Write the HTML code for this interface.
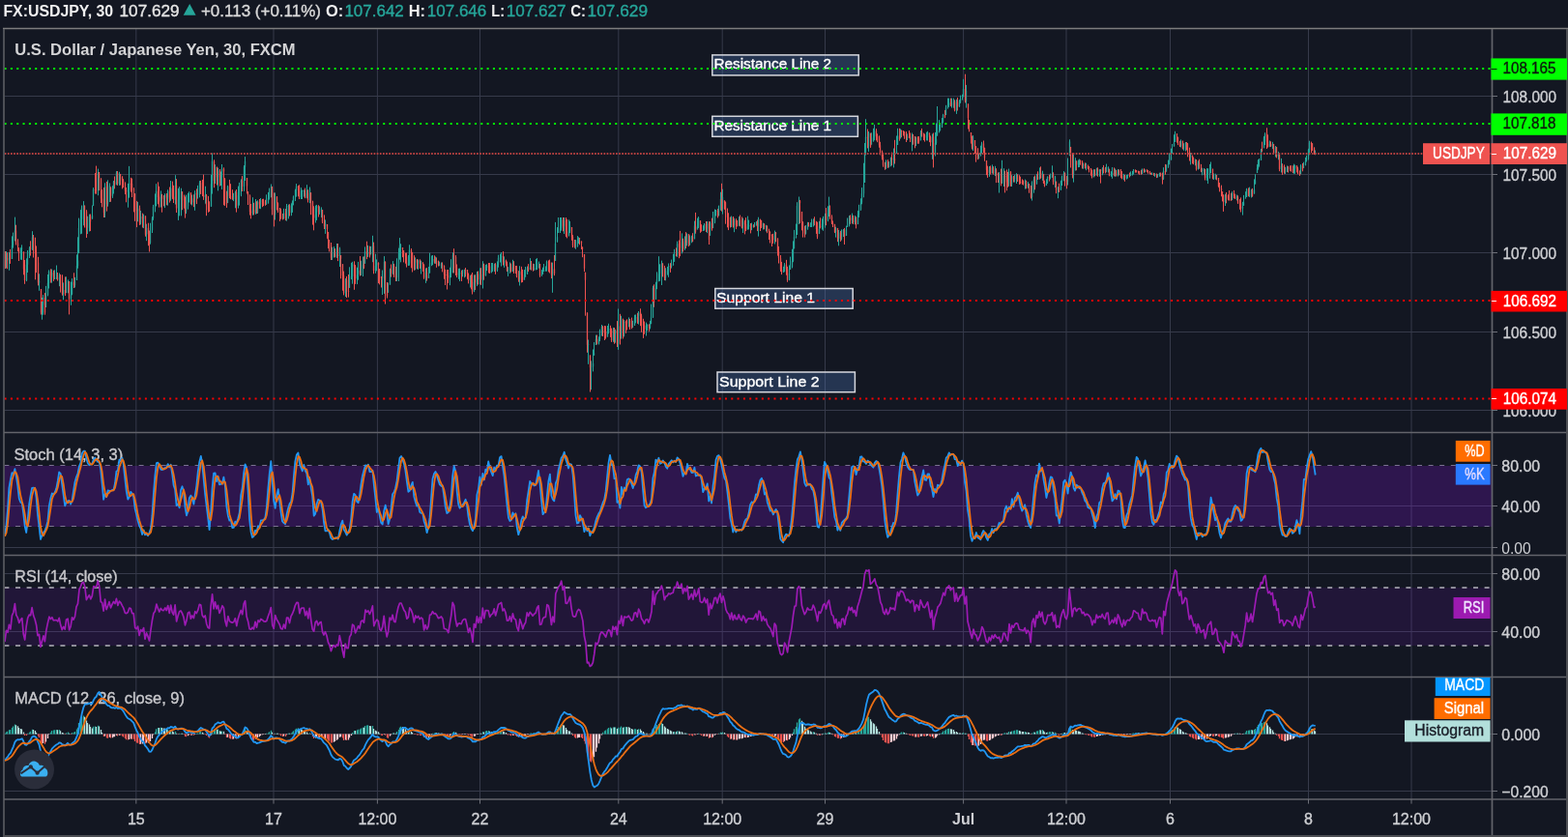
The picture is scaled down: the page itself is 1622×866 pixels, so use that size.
<!DOCTYPE html>
<html><head><meta charset="utf-8"><style>
html,body{margin:0;padding:0;background:#131722;width:1622px;height:866px;overflow:hidden}
svg{display:block;position:absolute;left:0;top:0}
text{font-family:'Liberation Sans', Arial, sans-serif;}
</style></head><body>
<svg width="1622" height="866" viewBox="0 0 1622 866">
<rect width="1622" height="866" fill="#131722"/>
<path d="M140.8 30V827M283.0 30V827M390.4 30V827M496.5 30V827M639.8 30V827M747.2 30V827M853.5 30V827M996.6 30V827M1103.0 30V827M1210.5 30V827M1353.5 30V827M1460.0 30V827M4 99.5H1543M4 180.5H1543M4 261.5H1543M4 343.5H1543M4 424.5H1543M4 523.5H1543M4 566.5H1543M4 593.5H1543M4 653.5H1543M4 759.5H1543M4 818.5H1543" stroke="#363a4a" stroke-width="1" fill="none"/>
<rect x="4" y="482" width="1539" height="63" fill="rgba(153,21,255,0.2)"/>
<rect x="4" y="608" width="1539" height="60" fill="rgba(153,21,255,0.1)"/>
<path d="M4.4 481.5H1543M4.4 544.5H1543" stroke="#7a7290" stroke-width="1" stroke-dasharray="5 6.6" fill="none"/>
<path d="M4.4 608H1543M4.4 668H1543" stroke="#b4b4bc" stroke-width="1.5" stroke-dasharray="5 6.6" fill="none"/>
<path d="M6.5 260.0V277.5M9.5 260.9V279.8M12.5 244.4V267.9M13.5 240.6V256.6M15.5 224.6V249.3M21.5 256.2V268.7M22.5 253.4V268.9M27.5 267.4V291.1M28.5 259.0V282.0M30.5 255.1V267.0M33.5 239.2V258.9M40.5 283.3V300.8M43.5 307.9V330.7M44.5 305.1V325.7M47.5 295.9V317.9M49.5 284.0V306.4M50.5 279.4V298.5M53.5 278.5V292.7M56.5 279.3V289.0M58.5 274.5V288.9M61.5 282.5V296.2M65.5 292.4V310.3M68.5 286.3V303.1M70.5 289.4V303.3M73.5 291.6V315.8M74.5 288.1V305.3M77.5 286.9V297.5M79.5 263.4V290.0M80.5 245.3V277.7M81.5 225.6V262.1M83.5 217.1V242.3M84.5 212.5V241.8M86.5 208.1V233.3M90.5 223.7V242.1M92.5 221.6V239.5M95.5 212.5V226.6M96.5 194.1V213.1M101.5 174.6V202.2M108.5 189.3V225.0M111.5 186.3V213.7M113.5 189.4V209.0M116.5 192.2V204.9M117.5 187.0V200.5M120.5 177.0V191.2M123.5 177.8V191.9M132.5 189.9V214.7M133.5 171.9V204.7M142.5 208.9V229.3M145.5 218.0V232.4M148.5 221.6V236.1M151.5 231.7V249.2M155.5 230.7V252.7M157.5 224.1V241.0M158.5 211.9V227.8M160.5 200.4V219.4M161.5 190.2V213.3M166.5 197.4V214.5M170.5 200.2V215.1M173.5 196.3V212.6M176.5 187.0V207.8M181.5 181.2V211.5M184.5 194.8V227.9M185.5 193.2V223.4M187.5 194.7V223.3M192.5 201.6V221.1M194.5 199.8V216.6M195.5 198.3V209.5M198.5 201.6V212.5M201.5 197.2V217.8M204.5 191.9V205.6M206.5 187.1V204.3M212.5 192.7V210.7M218.5 180.9V213.7M219.5 158.4V200.6M222.5 170.2V190.0M225.5 173.7V197.4M228.5 177.5V192.0M229.5 170.0V196.0M235.5 191.8V210.0M241.5 199.8V208.1M243.5 197.5V215.3M246.5 192.6V215.5M247.5 188.9V212.6M249.5 185.4V203.2M252.5 171.1V197.8M253.5 162.1V187.0M261.5 204.2V222.7M264.5 206.0V221.8M266.5 207.3V221.0M269.5 205.0V216.2M275.5 201.3V211.8M277.5 198.9V210.4M278.5 194.6V206.6M280.5 190.5V204.3M284.5 199.4V227.5M293.5 215.8V226.7M296.5 211.0V228.7M298.5 211.6V226.4M301.5 210.3V223.2M302.5 207.4V219.9M303.5 202.4V212.4M305.5 195.6V208.0M306.5 190.1V203.6M311.5 194.1V206.0M312.5 196.5V206.0M314.5 196.4V203.6M317.5 191.2V205.3M320.5 193.5V210.2M326.5 212.6V230.5M327.5 211.9V227.9M330.5 213.3V221.9M332.5 214.4V225.1M336.5 227.4V241.9M343.5 255.7V269.0M345.5 255.1V266.5M348.5 252.0V266.9M351.5 255.7V276.0M357.5 287.9V307.0M361.5 276.3V297.8M363.5 271.8V289.1M364.5 270.8V293.7M369.5 276.7V294.1M370.5 270.9V289.7M373.5 269.7V285.0M375.5 265.6V286.0M377.5 255.4V272.7M380.5 253.9V265.9M383.5 254.9V263.3M385.5 243.8V271.2M388.5 262.7V282.8M389.5 268.4V280.4M395.5 279.5V305.0M397.5 265.1V303.9M401.5 292.6V302.7M403.5 277.7V294.6M406.5 270.1V283.9M410.5 267.3V291.0M412.5 256.6V291.0M413.5 246.1V268.7M414.5 252.2V271.3M422.5 264.0V275.0M423.5 253.3V274.7M429.5 266.4V279.3M432.5 268.5V278.9M435.5 269.7V283.5M440.5 277.5V292.9M443.5 276.0V287.7M444.5 261.7V282.5M446.5 264.5V275.2M447.5 264.0V274.2M450.5 265.5V272.9M454.5 270.6V274.9M456.5 271.5V277.8M465.5 276.8V295.2M466.5 268.2V287.1M468.5 261.3V282.5M474.5 277.8V288.8M475.5 277.6V291.0M478.5 279.1V286.3M480.5 278.7V287.3M486.5 284.8V297.5M490.5 284.4V302.2M493.5 280.9V296.1M496.5 277.3V294.4M499.5 270.2V298.5M502.5 273.8V285.6M503.5 273.3V280.1M508.5 272.0V282.4M509.5 272.0V281.0M511.5 272.7V281.1M514.5 270.4V281.1M515.5 263.7V276.7M517.5 262.7V271.5M518.5 261.0V275.5M521.5 265.4V276.8M525.5 276.1V285.9M527.5 271.4V283.0M530.5 268.8V281.1M537.5 275.2V295.5M542.5 279.1V289.5M543.5 276.0V286.6M545.5 275.5V283.7M548.5 267.1V279.1M552.5 273.1V279.9M554.5 267.9V279.5M555.5 267.1V279.0M557.5 270.5V277.7M560.5 279.1V285.6M561.5 276.7V283.7M562.5 273.0V281.0M564.5 275.4V280.5M565.5 269.5V280.7M571.5 271.6V302.8M574.5 229.9V270.0M576.5 235.1V250.5M577.5 225.0V241.0M579.5 225.0V241.0M580.5 225.0V238.7M583.5 225.0V242.0M588.5 227.3V244.5M589.5 228.8V241.1M595.5 248.1V257.8M597.5 244.1V255.7M598.5 245.3V252.1M608.5 351.5V376.8M611.5 373.4V403.2M613.5 361.5V384.4M614.5 354.1V367.7M616.5 346.6V357.0M619.5 348.3V356.5M620.5 340.6V353.1M622.5 336.0V347.6M628.5 337.0V348.5M629.5 334.8V345.4M634.5 338.9V353.8M636.5 340.8V354.7M639.5 319.5V361.9M642.5 326.8V350.6M645.5 331.1V348.4M650.5 328.4V338.4M654.5 331.8V339.1M656.5 325.7V337.0M657.5 325.5V334.4M660.5 322.0V335.6M668.5 333.6V347.5M669.5 335.3V342.3M672.5 331.9V340.4M673.5 314.6V335.3M675.5 295.7V328.9M678.5 291.7V309.7M679.5 281.4V299.2M681.5 265.2V291.3M682.5 273.3V290.8M684.5 269.6V295.0M688.5 277.3V290.3M690.5 276.0V284.6M691.5 272.5V286.8M694.5 268.6V277.6M696.5 262.7V274.7M697.5 257.8V270.7M700.5 249.6V265.9M705.5 241.4V262.4M708.5 244.4V258.8M710.5 241.4V254.4M713.5 243.4V253.7M715.5 243.7V251.3M718.5 228.6V247.3M721.5 225.7V237.4M722.5 224.1V236.1M727.5 233.2V239.0M728.5 231.0V238.6M731.5 229.0V241.1M734.5 229.2V243.8M737.5 219.0V235.9M739.5 216.5V231.2M740.5 217.0V223.5M743.5 212.6V223.3M745.5 198.7V217.8M747.5 195.7V221.6M756.5 223.5V235.0M759.5 225.9V240.2M764.5 224.1V233.5M768.5 225.7V241.0M773.5 223.6V237.5M774.5 227.6V237.4M777.5 230.6V238.2M780.5 230.0V235.2M782.5 229.0V233.6M784.5 224.7V244.6M789.5 230.6V237.5M792.5 232.8V239.5M801.5 238.6V252.5M810.5 275.8V282.0M811.5 272.1V281.3M816.5 274.4V290.2M817.5 265.6V279.0M819.5 257.8V277.4M820.5 249.4V271.2M821.5 237.9V257.3M823.5 231.6V246.6M824.5 209.2V243.0M826.5 203.5V232.0M833.5 233.0V242.6M835.5 229.8V237.5M838.5 230.2V235.0M839.5 226.5V234.5M841.5 226.3V234.5M847.5 228.8V242.1M850.5 226.3V237.6M851.5 223.8V238.8M853.5 220.8V235.7M856.5 213.3V229.2M857.5 203.6V224.0M864.5 234.7V245.6M867.5 238.0V254.3M870.5 237.4V248.6M872.5 237.0V245.1M875.5 233.6V243.9M876.5 225.5V235.0M878.5 223.1V234.4M881.5 220.6V231.3M884.5 223.0V232.2M887.5 218.1V232.1M888.5 211.8V224.9M890.5 205.3V217.9M891.5 194.1V211.3M893.5 168.7V204.3M894.5 148.0V188.9M895.5 123.2V160.5M898.5 135.9V156.9M901.5 137.3V149.6M903.5 132.8V146.4M904.5 128.9V145.2M916.5 165.3V174.9M919.5 167.1V173.4M921.5 162.6V172.3M924.5 153.5V173.4M927.5 140.5V158.7M928.5 132.8V150.0M931.5 133.4V143.3M938.5 138.4V145.1M943.5 137.5V156.4M947.5 141.5V151.1M952.5 134.9V145.3M958.5 136.7V145.4M959.5 135.8V145.5M964.5 138.5V164.8M967.5 136.9V161.5M968.5 127.5V149.8M969.5 110.0V140.5M971.5 124.1V137.4M972.5 127.0V135.5M974.5 122.0V132.1M975.5 117.8V127.5M978.5 108.8V118.9M980.5 101.6V112.6M981.5 101.6V110.8M984.5 101.6V111.6M986.5 101.6V111.7M989.5 102.8V117.9M992.5 103.2V110.8M993.5 98.6V106.8M995.5 97.7V103.1M996.5 81.8V100.3M999.5 87.9V111.6M1006.5 140.1V156.0M1012.5 158.6V164.2M1014.5 150.7V161.5M1015.5 146.8V158.9M1023.5 172.0V182.9M1026.5 170.4V179.3M1029.5 171.8V182.1M1033.5 178.1V199.5M1036.5 165.8V190.0M1038.5 174.2V193.0M1043.5 174.6V192.7M1046.5 181.2V193.0M1049.5 180.8V188.6M1051.5 179.2V190.0M1060.5 185.6V195.6M1063.5 188.1V194.8M1067.5 187.4V207.6M1069.5 182.8V199.7M1072.5 179.9V190.6M1075.5 173.4V185.4M1078.5 176.7V186.9M1082.5 185.2V192.0M1083.5 182.3V190.0M1086.5 179.5V185.5M1088.5 171.3V183.9M1091.5 181.9V194.0M1094.5 193.2V205.2M1097.5 186.7V196.8M1098.5 181.6V192.0M1100.5 177.1V187.3M1104.5 163.5V191.6M1106.5 144.3V161.2M1110.5 158.8V188.6M1112.5 163.2V176.6M1115.5 165.5V173.2M1116.5 164.5V173.0M1120.5 168.5V174.8M1123.5 168.7V176.2M1131.5 175.2V183.4M1134.5 173.7V181.5M1137.5 175.2V182.7M1140.5 173.1V181.3M1144.5 169.6V178.3M1146.5 172.3V178.5M1149.5 177.2V182.8M1150.5 173.0V184.8M1153.5 174.5V182.7M1156.5 175.1V182.6M1162.5 179.8V186.3M1165.5 181.0V185.6M1166.5 180.5V184.7M1169.5 177.4V182.2M1171.5 177.0V181.6M1172.5 175.0V180.6M1181.5 174.4V180.1M1184.5 175.4V178.2M1191.5 178.4V181.0M1194.5 179.2V182.8M1197.5 180.0V183.8M1199.5 178.7V182.8M1203.5 173.2V186.1M1206.5 170.3V177.6M1208.5 165.6V173.8M1209.5 158.4V170.3M1211.5 153.6V165.5M1212.5 149.0V158.6M1214.5 139.3V151.5M1215.5 135.8V146.8M1221.5 144.4V152.5M1224.5 148.2V155.8M1226.5 147.0V156.5M1231.5 158.0V170.4M1236.5 164.5V171.3M1239.5 166.3V175.6M1243.5 173.8V181.3M1245.5 174.0V181.2M1248.5 174.2V186.8M1249.5 174.2V190.1M1251.5 169.9V184.7M1252.5 167.5V179.2M1255.5 179.4V186.0M1257.5 179.7V185.7M1267.5 200.7V213.0M1274.5 198.2V207.1M1279.5 201.5V207.4M1285.5 208.8V222.6M1286.5 201.9V212.7M1288.5 198.2V205.4M1289.5 194.8V204.0M1292.5 193.6V203.9M1294.5 195.7V204.5M1297.5 185.4V200.5M1298.5 180.2V190.4M1300.5 170.1V179.0M1301.5 165.1V175.7M1302.5 164.0V172.6M1304.5 153.9V165.8M1307.5 140.9V153.2M1308.5 137.2V150.1M1313.5 145.5V152.2M1316.5 146.8V154.1M1319.5 151.0V162.5M1322.5 156.8V165.3M1325.5 163.9V178.5M1329.5 172.8V180.0M1331.5 171.5V178.0M1338.5 169.6V179.8M1339.5 170.6V179.7M1345.5 170.2V180.1M1348.5 167.7V173.9M1350.5 162.9V171.2M1351.5 160.8V167.5M1353.5 153.8V165.5M1354.5 145.7V160.3M1360.5 155.5V160.3" stroke="#26a69a" stroke-width="1" fill="none"/>
<path d="M5.5 260.0V278.0M7.5 261.3V278.3M10.5 257.9V272.9M16.5 232.7V253.5M18.5 247.3V260.1M19.5 256.3V270.0M24.5 260.4V284.3M25.5 269.0V293.8M31.5 249.3V264.6M34.5 243.0V266.5M36.5 245.7V289.3M37.5 254.4V282.1M39.5 265.8V295.4M42.5 299.0V325.5M46.5 303.1V325.7M52.5 278.3V292.6M55.5 279.7V290.9M59.5 282.0V290.6M62.5 283.9V302.6M64.5 284.3V305.7M67.5 286.4V306.1M71.5 291.1V325.4M76.5 282.3V298.0M87.5 212.5V235.5M89.5 217.2V246.0M93.5 221.5V239.1M98.5 179.0V200.5M99.5 171.6V200.7M102.5 178.1V197.2M104.5 184.4V210.0M105.5 196.1V214.3M107.5 194.1V225.0M110.5 187.9V218.6M114.5 193.6V208.8M118.5 182.5V195.4M121.5 177.0V191.9M124.5 180.1V191.6M126.5 182.5V195.4M127.5 185.1V194.1M129.5 188.4V201.1M130.5 194.0V209.3M135.5 183.8V198.6M136.5 184.6V204.0M138.5 194.2V219.4M139.5 200.3V228.8M141.5 207.9V235.1M144.5 212.6V232.9M147.5 220.6V235.5M150.5 223.4V244.7M153.5 230.7V254.2M154.5 238.6V260.5M163.5 188.4V211.3M164.5 192.8V214.6M167.5 200.8V219.7M169.5 202.0V213.4M172.5 200.0V212.3M175.5 193.5V209.6M178.5 187.6V205.9M179.5 191.8V210.0M182.5 185.1V220.0M188.5 198.2V217.2M190.5 201.7V215.6M191.5 203.5V225.6M197.5 199.0V211.5M200.5 201.3V214.2M203.5 195.4V211.1M207.5 186.9V200.9M209.5 185.9V203.0M210.5 180.6V206.9M213.5 200.9V223.2M215.5 202.9V219.8M216.5 208.3V219.0M221.5 165.3V194.2M224.5 172.5V191.5M227.5 175.0V192.7M231.5 173.3V212.3M232.5 184.4V212.9M234.5 197.6V214.9M237.5 185.9V205.2M238.5 190.2V206.2M240.5 196.2V206.8M244.5 196.0V219.6M250.5 182.1V198.0M255.5 184.0V200.4M256.5 198.0V212.0M258.5 201.3V222.6M259.5 211.0V226.3M262.5 209.8V222.4M265.5 208.2V221.2M268.5 206.0V215.8M271.5 205.9V214.2M272.5 205.7V213.2M274.5 206.8V212.8M281.5 192.9V222.5M283.5 199.4V234.4M286.5 203.1V217.5M287.5 209.4V220.1M289.5 215.0V228.9M290.5 215.8V226.8M292.5 221.0V227.4M295.5 216.0V228.2M299.5 211.2V223.6M308.5 192.0V203.2M309.5 191.3V206.0M315.5 194.5V205.2M318.5 196.3V209.5M321.5 199.3V222.2M323.5 207.7V232.6M324.5 213.3V238.3M329.5 212.2V224.5M333.5 217.1V231.1M335.5 222.4V237.0M338.5 232.0V246.8M339.5 239.9V257.1M340.5 248.1V260.4M342.5 251.0V269.0M346.5 257.1V266.4M349.5 252.0V270.1M352.5 264.0V288.3M354.5 273.3V300.7M355.5 280.6V305.4M358.5 285.9V308.1M360.5 284.0V307.6M366.5 270.3V299.8M367.5 274.1V293.9M372.5 265.0V285.5M376.5 265.3V278.2M379.5 249.7V268.2M382.5 254.6V266.5M386.5 250.6V283.3M391.5 271.3V293.1M392.5 278.2V294.4M394.5 286.1V297.5M398.5 270.3V314.6M400.5 292.1V308.5M404.5 273.5V286.6M407.5 272.9V286.9M409.5 275.9V291.0M416.5 256.1V266.2M417.5 258.9V271.4M419.5 261.7V272.7M420.5 261.5V276.6M425.5 257.1V277.3M426.5 260.9V281.5M428.5 264.2V279.8M431.5 268.0V278.3M434.5 268.3V277.9M437.5 271.4V281.0M438.5 273.5V288.8M441.5 277.1V290.6M449.5 264.3V272.7M451.5 266.4V276.8M453.5 269.6V275.5M457.5 271.4V281.4M459.5 274.4V288.7M460.5 278.8V295.0M462.5 279.1V299.5M463.5 279.0V292.9M469.5 257.2V282.5M471.5 264.1V285.0M472.5 273.5V287.1M477.5 279.6V291.0M481.5 277.0V286.4M483.5 279.1V288.8M484.5 282.5V293.4M487.5 283.9V299.3M488.5 282.0V304.5M491.5 284.3V300.0M494.5 280.5V294.5M497.5 277.2V294.9M500.5 272.7V289.7M505.5 272.0V282.5M506.5 272.0V283.0M512.5 272.2V283.8M520.5 260.1V274.5M523.5 268.6V275.3M524.5 270.6V281.1M528.5 272.5V281.6M531.5 270.2V283.0M533.5 275.0V283.1M534.5 274.9V287.2M536.5 280.2V291.7M539.5 275.8V292.4M540.5 278.8V292.0M546.5 273.1V281.1M549.5 270.0V279.7M551.5 272.7V280.7M558.5 273.0V286.8M567.5 269.4V281.4M568.5 268.6V282.5M570.5 271.5V288.1M573.5 264.0V285.2M582.5 225.0V239.3M585.5 225.0V245.2M586.5 226.8V246.4M591.5 235.0V248.8M592.5 243.1V256.1M594.5 248.0V256.6M599.5 246.2V253.3M601.5 249.6V258.0M602.5 255.6V266.2M604.5 263.0V281.1M605.5 281.8V326.7M607.5 323.4V364.8M610.5 367.5V405.5M617.5 346.6V356.5M623.5 337.2V348.0M625.5 337.0V352.0M626.5 337.3V350.6M631.5 336.8V348.9M632.5 339.5V353.9M635.5 339.0V355.8M638.5 332.1V359.0M641.5 324.8V356.5M644.5 329.6V350.5M647.5 331.6V344.8M648.5 330.4V341.5M651.5 329.9V340.9M653.5 328.6V340.3M659.5 323.8V334.9M662.5 319.3V337.2M663.5 324.7V343.7M665.5 329.8V349.9M666.5 332.5V345.8M671.5 335.3V342.8M676.5 294.3V317.8M685.5 272.4V286.4M687.5 274.9V290.1M693.5 272.2V281.9M699.5 256.4V265.3M702.5 248.6V267.2M703.5 238.9V265.2M706.5 246.7V260.5M709.5 240.1V257.0M712.5 242.3V255.1M716.5 241.2V250.3M719.5 219.9V241.7M724.5 228.3V240.9M725.5 232.2V239.7M730.5 229.0V240.0M733.5 229.1V253.0M736.5 225.6V238.7M742.5 216.1V225.4M746.5 189.8V218.7M749.5 207.4V216.8M750.5 208.5V231.7M752.5 215.5V235.3M753.5 220.3V238.1M755.5 224.5V235.5M758.5 224.1V235.5M761.5 226.2V237.1M762.5 228.0V234.2M765.5 222.5V234.3M767.5 224.4V236.4M770.5 227.7V242.4M771.5 225.1V239.1M776.5 231.0V241.4M779.5 232.2V235.6M783.5 227.5V239.1M786.5 226.6V239.0M787.5 227.8V236.1M790.5 231.3V237.3M793.5 233.6V241.2M795.5 236.7V248.0M796.5 239.5V251.5M798.5 242.5V255.0M799.5 241.9V251.9M802.5 240.1V250.3M804.5 246.5V264.6M805.5 254.9V272.5M807.5 264.0V281.0M808.5 270.9V284.1M813.5 268.9V284.7M814.5 275.8V291.8M827.5 206.9V231.2M829.5 218.9V238.4M830.5 229.4V245.6M832.5 233.6V245.6M836.5 229.9V234.6M842.5 224.3V233.2M844.5 228.8V241.9M845.5 229.6V247.2M848.5 225.3V236.4M854.5 215.1V233.2M858.5 212.5V226.7M860.5 222.4V232.0M861.5 228.5V235.0M863.5 231.8V241.1M866.5 235.9V250.2M869.5 238.9V249.9M873.5 235.9V253.0M879.5 222.4V231.8M882.5 222.8V232.0M885.5 224.3V236.4M897.5 133.5V153.4M900.5 137.8V152.9M906.5 133.2V145.4M907.5 138.3V147.2M909.5 140.4V152.7M910.5 146.8V160.4M912.5 155.6V165.4M913.5 157.8V172.7M915.5 167.8V175.8M918.5 165.1V173.9M922.5 157.6V171.3M925.5 144.8V169.5M930.5 132.8V145.7M932.5 134.5V142.1M934.5 135.3V140.5M935.5 135.9V143.8M937.5 136.1V147.0M940.5 135.0V142.8M941.5 137.4V147.0M944.5 138.9V149.8M946.5 140.9V153.3M949.5 141.2V148.7M950.5 141.1V148.7M953.5 132.9V141.6M955.5 137.6V145.1M956.5 138.5V146.6M961.5 137.5V147.1M962.5 140.4V151.2M965.5 137.5V173.4M977.5 113.9V122.2M983.5 101.6V110.2M987.5 103.3V115.3M990.5 100.9V114.5M998.5 76.7V106.4M1001.5 107.4V133.5M1002.5 123.9V136.3M1004.5 137.0V148.6M1005.5 140.6V154.5M1008.5 145.0V159.0M1009.5 151.2V167.7M1011.5 153.4V165.2M1017.5 145.5V158.2M1018.5 152.7V166.7M1020.5 166.0V181.2M1021.5 171.6V183.9M1024.5 171.5V180.5M1027.5 172.2V180.6M1030.5 174.2V189.1M1032.5 178.5V189.0M1035.5 174.6V192.4M1039.5 176.7V199.4M1041.5 175.5V197.3M1042.5 178.0V193.8M1045.5 177.3V192.9M1048.5 182.0V188.6M1052.5 180.3V188.0M1054.5 181.5V190.9M1055.5 182.8V190.4M1057.5 185.4V190.9M1058.5 186.4V191.6M1061.5 186.7V195.2M1064.5 189.9V199.7M1066.5 191.9V205.5M1070.5 181.6V196.3M1073.5 177.3V186.0M1076.5 172.3V184.8M1079.5 180.3V190.0M1080.5 186.7V193.4M1085.5 180.8V187.6M1089.5 178.3V191.2M1092.5 187.7V200.2M1095.5 189.7V198.9M1101.5 178.4V192.6M1103.5 182.1V195.3M1107.5 151.9V173.5M1109.5 158.3V184.4M1113.5 166.4V176.3M1117.5 165.6V170.7M1119.5 166.4V174.5M1122.5 168.4V174.5M1125.5 170.5V175.3M1126.5 172.0V178.4M1128.5 174.0V181.7M1129.5 175.6V184.5M1132.5 175.2V182.3M1135.5 173.3V182.7M1138.5 175.1V189.6M1141.5 170.9V179.4M1143.5 172.8V179.4M1147.5 174.8V182.3M1152.5 173.4V182.4M1154.5 175.8V182.6M1157.5 175.4V181.4M1159.5 175.0V184.2M1160.5 177.1V185.3M1163.5 181.0V187.8M1168.5 178.6V183.5M1174.5 175.5V178.6M1175.5 176.0V178.6M1177.5 176.7V179.6M1178.5 176.9V180.9M1180.5 175.8V180.5M1183.5 174.2V178.8M1186.5 175.2V178.1M1187.5 176.1V179.7M1189.5 176.9V180.2M1190.5 178.8V180.3M1193.5 178.8V181.8M1196.5 179.6V184.1M1200.5 178.5V182.6M1202.5 178.6V190.6M1205.5 169.9V180.7M1217.5 138.2V147.5M1218.5 141.7V150.1M1220.5 145.8V152.0M1223.5 145.5V154.5M1227.5 147.0V155.4M1228.5 148.0V162.4M1230.5 152.7V166.5M1233.5 160.7V169.4M1234.5 162.5V170.2M1237.5 165.0V176.6M1240.5 164.7V174.7M1242.5 169.9V178.2M1246.5 174.8V186.5M1254.5 174.7V185.4M1258.5 181.2V186.4M1260.5 184.1V193.7M1261.5 189.0V198.4M1263.5 191.6V203.3M1264.5 198.3V208.3M1265.5 201.4V218.9M1268.5 199.0V210.3M1270.5 201.3V207.3M1271.5 197.0V207.6M1273.5 199.7V207.7M1276.5 196.9V205.2M1277.5 200.7V205.9M1280.5 202.3V210.9M1282.5 206.1V216.8M1283.5 204.4V219.5M1291.5 194.4V203.3M1295.5 194.9V203.7M1305.5 146.6V157.3M1310.5 132.3V154.0M1311.5 139.4V152.6M1314.5 146.3V151.9M1317.5 148.9V159.7M1320.5 151.9V163.4M1323.5 158.1V177.2M1326.5 169.2V180.9M1328.5 170.4V179.7M1332.5 171.8V178.6M1334.5 171.4V176.9M1335.5 171.2V177.6M1337.5 171.3V179.1M1341.5 171.1V178.4M1342.5 172.7V180.3M1344.5 176.4V181.9M1347.5 168.9V177.3M1356.5 146.6V158.1M1357.5 148.3V156.1M1359.5 152.6V159.9" stroke="#ef5350" stroke-width="1" fill="none"/>
<path d="M6.5 266.9V276.3M9.5 262.5V269.4M12.5 254.0V267.9M13.5 250.0V254.0M15.5 238.6V249.3M21.5 258.1V261.5M22.5 256.2V258.1M27.5 273.8V290.1M28.5 261.7V273.8M30.5 256.8V261.7M33.5 245.4V257.5M40.5 290.8V292.4M43.5 315.4V323.5M44.5 307.9V315.4M47.5 305.3V317.9M49.5 292.9V305.3M50.5 280.7V292.9M53.5 281.9V285.2M56.5 287.4V288.4M58.5 287.2V288.2M61.5 284.5V289.5M65.5 300.0V304.1M68.5 291.6V303.1M70.5 290.7V291.7M73.5 304.4V309.3M74.5 291.7V304.4M77.5 290.7V295.3M79.5 275.1V290.0M80.5 269.5V275.1M81.5 236.1V262.1M83.5 226.9V236.1M84.5 214.9V226.9M86.5 212.8V214.9M90.5 229.6V235.8M92.5 224.1V229.6M95.5 222.7V226.6M96.5 196.0V213.1M101.5 177.9V197.1M108.5 193.2V220.1M111.5 202.9V211.3M113.5 192.0V202.9M116.5 194.6V202.7M117.5 187.9V194.6M120.5 178.8V191.2M123.5 179.6V189.9M132.5 196.4V198.1M133.5 189.7V196.4M142.5 215.5V218.4M145.5 224.0V230.5M148.5 222.8V226.7M151.5 235.8V242.8M155.5 238.3V251.3M157.5 225.8V238.3M158.5 213.9V225.8M160.5 210.7V213.9M161.5 197.7V210.7M166.5 202.8V208.5M170.5 201.5V205.4M173.5 197.7V204.6M176.5 194.8V206.3M181.5 191.9V206.7M184.5 206.6V215.6M185.5 199.7V206.6M187.5 198.2V199.7M192.5 213.2V219.2M194.5 201.9V213.2M195.5 200.3V201.9M198.5 205.3V209.8M201.5 199.7V209.0M204.5 197.5V201.8M206.5 189.3V197.5M212.5 202.0V204.0M218.5 190.3V213.7M219.5 167.1V190.3M222.5 172.9V187.1M225.5 176.6V183.5M228.5 182.9V189.1M229.5 174.4V182.9M235.5 192.8V210.0M241.5 204.8V205.9M243.5 199.1V204.8M246.5 201.8V212.8M247.5 193.8V201.8M249.5 187.0V193.8M252.5 172.8V192.9M253.5 166.8V172.8M261.5 217.1V220.2M264.5 209.1V220.2M266.5 208.8V220.1M269.5 207.2V211.5M275.5 210.4V211.4M277.5 204.7V210.4M278.5 199.8V204.7M280.5 193.0V199.8M284.5 203.6V222.1M293.5 220.5V225.9M296.5 213.2V226.4M298.5 213.1V214.1M301.5 212.1V220.3M302.5 208.7V212.1M303.5 203.6V208.7M305.5 197.1V203.6M306.5 193.0V197.1M311.5 197.8V204.1M312.5 197.1V198.1M314.5 197.0V198.0M317.5 199.7V204.4M320.5 195.3V207.1M326.5 215.1V225.4M327.5 213.2V215.1M330.5 216.6V219.4M332.5 215.7V216.7M336.5 231.1V234.2M343.5 263.4V266.7M345.5 261.7V263.4M348.5 263.4V265.4M351.5 257.3V265.1M357.5 289.6V303.3M361.5 288.8V297.8M363.5 286.0V288.8M364.5 273.5V286.0M369.5 284.3V288.2M370.5 279.8V284.3M373.5 275.2V283.4M375.5 273.8V275.2M377.5 260.2V272.7M380.5 261.1V262.8M383.5 261.1V263.3M385.5 254.4V261.1M388.5 275.1V280.1M389.5 272.0V275.1M395.5 284.1V288.0M397.5 271.0V284.1M401.5 299.7V302.7M403.5 278.9V294.6M406.5 274.7V282.8M410.5 273.1V286.9M412.5 261.4V273.1M413.5 253.7V261.4M414.5 253.6V254.6M422.5 272.4V274.4M423.5 258.8V272.4M429.5 268.7V277.7M432.5 269.6V271.7M435.5 271.5V273.3M440.5 282.0V287.5M443.5 285.3V287.7M444.5 272.5V282.5M446.5 271.8V272.8M447.5 268.1V271.8M450.5 270.1V271.1M454.5 274.2V275.2M456.5 273.3V274.3M465.5 281.8V287.5M466.5 275.5V281.8M468.5 263.8V275.5M474.5 282.3V284.8M475.5 282.3V283.3M478.5 280.1V283.0M480.5 279.3V280.3M486.5 287.5V290.2M490.5 288.8V301.7M493.5 283.0V292.5M496.5 284.0V289.2M499.5 273.8V289.6M502.5 275.4V285.3M503.5 275.4V276.4M508.5 279.4V282.1M509.5 278.5V279.5M511.5 273.4V278.5M514.5 274.1V279.7M515.5 267.1V274.1M517.5 266.3V267.3M518.5 265.0V266.3M521.5 269.8V271.6M525.5 279.7V280.7M527.5 276.4V279.7M530.5 274.1V280.7M537.5 280.7V289.4M542.5 286.9V289.5M543.5 285.1V286.6M545.5 276.9V283.7M548.5 276.3V279.1M552.5 277.8V279.2M554.5 277.1V278.1M555.5 273.2V277.1M557.5 271.7V273.2M560.5 284.6V285.6M561.5 280.9V283.7M562.5 279.8V280.9M564.5 279.6V280.6M565.5 270.7V279.6M571.5 278.5V284.4M574.5 251.8V270.0M576.5 245.3V250.5M577.5 239.0V241.0M579.5 236.2V239.0M580.5 227.3V236.2M583.5 227.5V234.5M588.5 239.3V243.6M589.5 233.4V239.3M595.5 254.4V255.4M597.5 248.7V254.4M598.5 246.3V248.7M608.5 356.0V357.0M611.5 379.2V380.3M613.5 376.1V379.2M614.5 365.2V367.7M616.5 350.7V357.0M619.5 351.1V355.5M620.5 341.7V351.1M622.5 338.0V341.7M628.5 343.0V348.5M629.5 340.0V343.0M634.5 339.9V351.9M636.5 341.7V345.3M639.5 337.6V355.7M642.5 330.3V342.0M645.5 332.9V347.6M650.5 331.8V334.0M654.5 337.6V338.7M656.5 329.0V337.0M657.5 328.3V329.3M660.5 323.3V333.3M668.5 336.4V340.6M669.5 336.0V337.0M672.5 335.1V339.3M673.5 328.6V335.1M675.5 298.1V328.6M678.5 293.4V309.7M679.5 289.2V293.4M681.5 283.2V289.2M682.5 282.1V283.2M684.5 272.6V282.1M688.5 280.7V287.5M690.5 280.2V281.2M691.5 275.1V280.2M694.5 274.1V275.9M696.5 273.2V274.2M697.5 263.3V270.7M700.5 252.2V263.9M705.5 250.5V256.1M708.5 249.1V257.7M710.5 242.3V251.4M713.5 249.7V253.6M715.5 244.9V249.7M718.5 233.6V247.3M721.5 235.1V237.4M722.5 225.1V235.1M727.5 238.0V239.0M728.5 231.7V238.0M731.5 231.3V236.6M734.5 230.8V243.8M737.5 229.7V235.9M739.5 218.5V229.7M740.5 218.0V219.0M743.5 213.6V223.3M745.5 206.1V213.6M747.5 204.1V216.1M756.5 224.6V233.7M759.5 227.8V234.7M764.5 227.6V233.5M768.5 229.5V235.2M773.5 234.3V237.5M774.5 233.3V234.3M777.5 233.6V234.6M780.5 232.2V234.0M782.5 229.8V232.2M784.5 227.2V234.4M789.5 231.4V234.9M792.5 233.5V234.7M801.5 240.4V248.3M810.5 280.7V281.7M811.5 273.8V280.7M816.5 282.7V289.8M817.5 276.6V279.0M819.5 269.9V276.6M820.5 257.3V269.9M821.5 245.2V257.3M823.5 244.7V245.7M824.5 213.1V243.0M826.5 207.6V213.1M833.5 237.9V241.8M835.5 231.7V237.5M838.5 234.0V235.0M839.5 233.9V234.9M841.5 227.8V233.9M847.5 233.8V242.1M850.5 231.6V235.3M851.5 225.0V231.6M853.5 223.4V225.0M856.5 220.4V228.3M857.5 217.2V220.4M864.5 235.9V239.9M867.5 240.4V246.5M870.5 238.5V246.9M872.5 237.9V238.9M875.5 236.6V243.9M876.5 233.7V235.0M878.5 225.3V233.7M881.5 225.0V228.3M884.5 227.4V230.0M887.5 222.2V232.1M888.5 216.7V222.2M890.5 209.5V216.7M891.5 200.3V209.5M893.5 191.0V200.3M894.5 157.7V188.9M895.5 141.7V157.7M898.5 137.3V142.5M901.5 147.8V149.6M903.5 142.6V146.4M904.5 135.5V142.6M916.5 166.5V173.6M919.5 171.0V172.8M921.5 163.7V171.0M924.5 164.3V165.3M927.5 155.9V158.7M928.5 140.5V150.0M931.5 135.1V143.3M938.5 141.2V143.2M943.5 141.1V143.7M947.5 142.5V148.7M952.5 136.5V145.3M958.5 139.4V141.7M959.5 137.0V139.4M964.5 141.5V147.3M967.5 148.0V158.3M968.5 143.9V148.0M969.5 136.7V140.5M971.5 135.0V136.7M972.5 132.4V135.0M974.5 125.9V132.1M975.5 119.0V125.9M978.5 111.2V118.9M980.5 108.8V111.2M981.5 106.2V108.8M984.5 106.5V109.3M986.5 105.5V106.5M989.5 104.3V114.3M992.5 106.2V110.3M993.5 102.7V106.2M995.5 102.5V103.5M996.5 92.0V100.3M999.5 94.0V104.7M1006.5 141.3V152.5M1012.5 161.2V164.2M1014.5 156.6V161.2M1015.5 148.4V156.6M1023.5 173.0V178.7M1026.5 174.1V179.3M1029.5 175.7V179.5M1033.5 180.8V181.8M1036.5 187.3V189.6M1038.5 181.8V187.3M1043.5 177.4V192.4M1046.5 182.5V190.4M1049.5 181.7V185.2M1051.5 180.8V181.8M1060.5 187.4V189.3M1063.5 191.0V193.0M1067.5 189.0V204.1M1069.5 185.5V189.0M1072.5 182.9V190.6M1075.5 178.4V185.4M1078.5 178.8V184.1M1082.5 189.6V192.0M1083.5 183.0V189.6M1086.5 183.0V184.0M1088.5 180.7V183.0M1091.5 182.8V188.6M1094.5 194.6V196.2M1097.5 187.8V196.5M1098.5 182.8V187.8M1100.5 179.2V182.8M1104.5 183.2V188.2M1106.5 146.4V161.2M1110.5 167.1V180.9M1112.5 165.5V167.1M1115.5 166.8V170.4M1116.5 165.8V166.8M1120.5 170.0V171.8M1123.5 172.2V173.9M1131.5 179.2V183.3M1134.5 174.4V181.5M1137.5 175.8V177.4M1140.5 174.1V176.7M1144.5 173.3V177.7M1146.5 173.3V174.3M1149.5 180.6V181.8M1150.5 178.8V180.6M1153.5 177.6V180.8M1156.5 175.8V181.8M1162.5 180.3V184.7M1165.5 181.6V184.5M1166.5 181.0V182.0M1169.5 180.0V181.5M1171.5 179.3V180.3M1172.5 175.8V179.3M1181.5 175.0V180.0M1184.5 176.3V177.3M1191.5 179.5V180.5M1194.5 179.7V180.7M1197.5 180.4V182.2M1199.5 179.2V180.4M1203.5 176.9V185.3M1206.5 172.9V177.6M1208.5 169.6V172.9M1209.5 165.7V169.6M1211.5 162.3V165.5M1212.5 157.1V158.6M1214.5 148.3V151.5M1215.5 138.6V146.8M1221.5 146.0V151.0M1224.5 152.2V153.7M1226.5 147.7V152.2M1231.5 159.4V162.6M1236.5 167.0V168.3M1239.5 168.7V175.0M1243.5 176.1V177.1M1245.5 175.2V176.2M1248.5 180.1V184.0M1249.5 175.1V180.1M1251.5 174.3V175.3M1252.5 172.9V174.3M1255.5 184.1V185.1M1257.5 180.8V184.1M1267.5 202.0V209.0M1274.5 199.9V206.7M1279.5 203.8V205.4M1285.5 213.8V215.7M1286.5 209.3V212.7M1288.5 204.4V205.4M1289.5 195.8V204.0M1292.5 201.8V202.8M1294.5 196.8V201.8M1297.5 196.2V200.5M1298.5 186.4V190.4M1300.5 174.1V179.0M1301.5 166.0V174.1M1302.5 165.8V166.8M1304.5 155.0V165.8M1307.5 142.2V153.2M1308.5 138.4V142.2M1313.5 149.0V151.7M1316.5 149.0V151.3M1319.5 152.2V158.9M1322.5 159.7V161.5M1325.5 172.1V174.9M1329.5 176.2V178.6M1331.5 173.3V176.2M1338.5 174.5V178.3M1339.5 171.4V174.5M1345.5 171.4V180.1M1348.5 171.9V173.9M1350.5 166.3V171.2M1351.5 164.4V166.3M1353.5 154.9V164.4M1354.5 147.8V154.9M1360.5 157.7V158.7" stroke="#26a69a" stroke-width="1.3" fill="none"/>
<path d="M5.5 269.3V276.3M7.5 266.9V269.4M10.5 262.5V267.9M16.5 238.6V251.5M18.5 251.5V254.8M19.5 256.3V261.5M24.5 260.4V278.6M25.5 278.6V290.1M31.5 256.8V257.8M34.5 245.4V256.4M36.5 256.4V262.3M37.5 262.3V271.6M39.5 271.6V292.4M42.5 299.0V323.5M46.5 307.9V323.4M52.5 280.7V285.2M55.5 281.9V287.5M59.5 287.2V289.5M62.5 284.5V295.8M64.5 295.8V304.1M67.5 300.0V304.7M71.5 291.1V309.3M76.5 291.7V295.3M87.5 212.8V218.8M89.5 218.8V235.8M93.5 224.1V229.3M98.5 196.0V197.0M99.5 196.8V197.8M102.5 178.1V184.2M104.5 184.4V205.6M105.5 205.6V206.7M107.5 206.7V220.1M110.5 193.2V211.3M114.5 193.6V202.7M118.5 187.9V191.2M121.5 178.8V189.9M124.5 180.1V181.9M126.5 182.5V186.4M127.5 186.4V190.1M129.5 190.1V197.4M130.5 197.4V198.4M135.5 189.7V190.7M136.5 190.1V196.2M138.5 196.2V197.2M139.5 200.3V216.4M141.5 216.4V218.4M144.5 215.5V230.5M147.5 224.0V226.7M150.5 223.4V242.8M153.5 235.8V242.1M154.5 242.1V251.3M163.5 197.7V204.0M164.5 204.0V208.5M167.5 202.8V205.1M169.5 205.1V206.1M172.5 201.5V204.6M175.5 197.7V206.3M178.5 194.8V203.6M179.5 203.6V206.7M182.5 191.9V215.6M188.5 198.2V201.6M190.5 201.7V207.2M191.5 207.2V219.2M197.5 200.3V209.8M200.5 205.3V209.0M203.5 199.7V201.8M207.5 189.3V190.3M209.5 189.9V201.2M210.5 201.2V204.0M213.5 202.0V212.1M215.5 212.1V217.2M216.5 217.2V218.2M221.5 167.1V187.1M224.5 172.9V183.5M227.5 176.6V189.1M231.5 174.4V177.6M232.5 184.4V199.9M234.5 199.9V211.2M237.5 192.8V202.7M238.5 202.7V204.8M240.5 204.8V205.9M244.5 199.1V212.8M250.5 187.0V192.9M255.5 184.0V192.4M256.5 198.0V202.2M258.5 202.2V219.1M259.5 219.1V220.2M262.5 217.1V220.2M265.5 209.1V220.1M268.5 208.8V211.5M271.5 207.2V208.5M272.5 208.5V210.7M274.5 210.7V211.7M281.5 193.0V216.7M283.5 216.7V222.1M286.5 203.6V210.2M287.5 210.2V213.8M289.5 215.0V218.4M290.5 218.4V225.0M292.5 225.0V226.0M295.5 220.5V226.4M299.5 213.1V220.3M308.5 193.0V194.0M309.5 193.2V204.1M315.5 197.0V204.4M318.5 199.7V207.1M321.5 199.3V208.6M323.5 208.6V222.2M324.5 222.2V225.4M329.5 213.2V219.4M333.5 217.1V229.4M335.5 229.4V234.2M338.5 232.0V236.9M339.5 239.9V248.3M340.5 248.3V254.2M342.5 254.2V266.7M346.5 261.7V265.4M349.5 263.4V265.1M352.5 264.0V267.8M354.5 273.3V285.0M355.5 285.0V303.3M358.5 289.6V300.9M360.5 300.9V301.9M366.5 273.5V275.6M367.5 275.6V288.2M372.5 279.8V283.4M376.5 273.8V276.8M379.5 260.2V262.8M382.5 261.1V264.9M386.5 254.4V280.1M391.5 272.0V273.9M392.5 278.2V286.1M394.5 286.1V288.0M398.5 271.0V289.8M400.5 292.1V306.0M404.5 278.9V282.8M407.5 274.7V285.5M409.5 285.5V286.9M416.5 256.1V258.1M417.5 258.9V263.0M419.5 263.0V265.5M420.5 265.5V274.4M425.5 258.8V261.4M426.5 261.4V266.3M428.5 266.3V277.7M431.5 268.7V271.7M434.5 269.6V273.3M437.5 271.5V273.1M438.5 273.5V287.5M441.5 282.0V288.1M449.5 268.1V270.5M451.5 270.1V272.0M453.5 272.0V274.6M457.5 273.3V275.0M459.5 275.0V283.9M460.5 283.9V284.9M462.5 284.0V285.0M463.5 284.9V287.5M469.5 263.8V266.0M471.5 266.0V277.4M472.5 277.4V284.8M477.5 282.3V283.3M481.5 279.3V280.3M483.5 279.3V283.8M484.5 283.8V290.2M487.5 287.5V291.7M488.5 291.7V301.7M491.5 288.8V292.5M494.5 283.0V289.2M497.5 284.0V289.6M500.5 273.8V285.3M505.5 275.4V276.4M506.5 275.6V282.1M512.5 273.4V279.7M520.5 265.0V271.6M523.5 269.8V272.7M524.5 272.7V279.8M528.5 276.4V280.7M531.5 274.1V278.6M533.5 278.6V279.6M534.5 279.1V286.0M536.5 286.0V289.4M539.5 280.7V284.3M540.5 284.3V290.0M546.5 276.9V279.8M549.5 276.3V277.7M551.5 277.7V279.2M558.5 273.0V284.9M567.5 270.7V271.7M568.5 271.3V275.7M570.5 275.7V284.4M573.5 278.5V282.9M582.5 227.3V234.5M585.5 227.5V243.5M586.5 243.5V244.5M591.5 235.0V245.0M592.5 245.0V254.0M594.5 254.0V255.1M599.5 246.3V247.3M601.5 249.6V251.4M602.5 255.6V257.8M604.5 263.0V277.8M605.5 281.8V289.8M607.5 323.4V356.8M610.5 367.5V380.3M617.5 350.7V355.5M623.5 338.0V340.0M625.5 340.0V343.7M626.5 343.7V348.8M631.5 340.0V341.7M632.5 341.7V351.9M635.5 339.9V345.3M638.5 341.7V355.7M641.5 337.6V342.0M644.5 330.3V347.6M647.5 332.9V333.9M648.5 333.8V334.8M651.5 331.8V335.2M653.5 335.2V338.7M659.5 328.3V333.3M662.5 323.3V326.7M663.5 326.7V334.6M665.5 334.6V336.8M666.5 336.8V340.6M671.5 336.0V339.3M676.5 298.1V312.9M685.5 272.6V277.1M687.5 277.1V287.5M693.5 275.1V276.1M699.5 263.3V264.3M702.5 252.2V255.7M703.5 255.7V256.7M706.5 250.5V257.7M709.5 249.1V251.4M712.5 242.3V253.6M716.5 244.9V249.7M719.5 233.6V239.8M724.5 228.3V237.9M725.5 237.9V239.1M730.5 231.7V236.6M733.5 231.3V248.1M736.5 230.8V237.2M742.5 218.0V223.9M746.5 206.1V216.1M749.5 207.4V209.6M750.5 209.6V220.4M752.5 220.4V224.8M753.5 224.8V226.7M755.5 226.7V233.7M758.5 224.6V234.7M761.5 227.8V233.2M762.5 233.2V234.2M765.5 227.6V233.0M767.5 233.0V235.2M770.5 229.5V232.0M771.5 232.0V237.5M776.5 233.3V234.3M779.5 233.6V234.6M783.5 229.8V234.4M786.5 227.2V228.2M787.5 227.9V234.9M790.5 231.4V234.7M793.5 233.6V237.9M795.5 237.9V239.8M796.5 239.8V241.1M798.5 242.5V244.1M799.5 244.1V248.3M802.5 240.4V242.2M804.5 246.5V260.3M805.5 260.3V267.3M807.5 267.3V279.1M808.5 279.1V281.6M813.5 273.8V278.2M814.5 278.2V289.8M827.5 207.6V210.2M829.5 218.9V229.5M830.5 229.5V235.7M832.5 235.7V241.8M836.5 231.7V234.1M842.5 227.8V230.9M844.5 230.9V237.0M845.5 237.0V244.9M848.5 233.8V235.3M854.5 223.4V228.3M858.5 217.2V224.3M860.5 224.3V230.8M861.5 230.8V232.2M863.5 232.2V239.9M866.5 235.9V246.5M869.5 240.4V246.9M873.5 237.9V244.8M879.5 225.3V228.3M882.5 225.0V230.0M885.5 227.4V232.9M897.5 141.7V142.7M900.5 137.8V151.4M906.5 135.5V141.1M907.5 141.1V143.1M909.5 143.1V150.2M910.5 150.2V159.4M912.5 159.4V162.5M913.5 162.5V170.8M915.5 170.8V173.6M918.5 166.5V172.8M922.5 163.7V165.1M925.5 164.3V166.2M930.5 140.5V143.9M932.5 135.1V136.1M934.5 135.5V136.5M935.5 136.4V139.6M937.5 139.6V143.2M940.5 141.2V142.2M941.5 142.2V143.7M944.5 141.1V142.1M946.5 141.4V148.7M949.5 142.5V143.5M950.5 143.1V146.2M953.5 136.5V139.0M955.5 139.0V141.5M956.5 141.5V142.5M961.5 137.5V141.8M962.5 141.8V147.3M965.5 141.5V158.3M977.5 119.0V120.8M983.5 106.2V109.3M987.5 105.5V114.3M990.5 104.3V110.3M998.5 92.0V104.7M1001.5 107.4V122.1M1002.5 123.9V131.4M1004.5 137.0V142.8M1005.5 142.8V152.5M1008.5 145.0V151.1M1009.5 151.2V153.2M1011.5 153.4V164.5M1017.5 148.4V153.1M1018.5 153.1V163.5M1020.5 166.0V175.8M1021.5 175.8V178.7M1024.5 173.0V179.6M1027.5 174.1V179.5M1030.5 175.7V179.8M1032.5 179.8V181.8M1035.5 180.8V189.6M1039.5 181.8V182.8M1041.5 182.0V188.6M1042.5 188.6V192.4M1045.5 177.4V190.4M1048.5 182.5V185.2M1052.5 180.8V181.8M1054.5 181.6V187.9M1055.5 187.9V188.9M1057.5 188.6V189.6M1058.5 188.9V189.9M1061.5 187.4V193.0M1064.5 191.0V192.8M1066.5 192.8V204.1M1070.5 185.5V194.3M1073.5 182.9V185.4M1076.5 178.4V184.1M1079.5 180.3V189.2M1080.5 189.2V192.3M1085.5 183.0V184.0M1089.5 180.7V188.6M1092.5 187.7V196.2M1095.5 194.6V196.5M1101.5 179.2V186.0M1103.5 186.0V188.2M1107.5 151.9V160.7M1109.5 160.7V180.9M1113.5 166.4V170.4M1117.5 165.8V166.8M1119.5 166.6V171.8M1122.5 170.0V173.9M1125.5 172.2V173.2M1126.5 172.8V174.1M1128.5 174.1V176.2M1129.5 176.2V183.3M1132.5 179.2V181.5M1135.5 174.4V177.4M1138.5 175.8V176.8M1141.5 174.1V176.6M1143.5 176.6V177.7M1147.5 174.8V181.8M1152.5 178.8V180.8M1154.5 177.6V181.8M1157.5 175.8V177.9M1159.5 177.9V181.9M1160.5 181.9V184.7M1163.5 181.0V184.5M1168.5 181.0V182.0M1174.5 175.8V176.8M1175.5 176.1V177.1M1177.5 176.9V177.9M1178.5 176.9V179.5M1180.5 179.5V180.5M1183.5 175.0V176.9M1186.5 176.3V177.3M1187.5 176.8V179.0M1189.5 179.0V180.0M1190.5 179.8V180.8M1193.5 179.5V180.5M1196.5 179.7V182.2M1200.5 179.2V180.2M1202.5 179.4V185.3M1205.5 176.9V178.6M1217.5 138.6V139.6M1218.5 141.7V148.3M1220.5 148.3V151.0M1223.5 146.0V153.7M1227.5 147.7V148.7M1228.5 148.4V156.1M1230.5 156.1V162.6M1233.5 160.7V163.2M1234.5 163.2V168.3M1237.5 167.0V175.0M1240.5 168.7V172.4M1242.5 172.4V177.0M1246.5 175.2V184.0M1254.5 174.7V184.6M1258.5 181.2V182.4M1260.5 184.1V193.1M1261.5 193.1V195.1M1263.5 195.1V197.6M1264.5 198.3V200.3M1265.5 201.4V209.0M1268.5 202.0V204.7M1270.5 204.7V205.8M1271.5 205.8V206.8M1273.5 206.6V207.6M1276.5 199.9V203.0M1277.5 203.0V205.4M1280.5 203.8V209.8M1282.5 209.8V210.8M1283.5 210.2V215.7M1291.5 195.8V202.8M1295.5 196.8V203.1M1305.5 155.0V156.0M1310.5 138.4V146.5M1311.5 146.5V151.7M1314.5 149.0V151.3M1317.5 149.0V158.9M1320.5 152.2V161.5M1323.5 159.7V174.9M1326.5 172.1V173.1M1328.5 172.4V178.6M1332.5 173.3V174.3M1334.5 173.9V174.9M1335.5 174.8V175.8M1337.5 175.5V178.3M1341.5 171.4V174.6M1342.5 174.6V179.2M1344.5 179.2V180.7M1347.5 171.4V175.6M1356.5 147.8V148.8M1357.5 148.3V152.3M1359.5 152.6V158.3" stroke="#ef5350" stroke-width="1.3" fill="none"/>
<path d="M4 159H1543" stroke="#b54040" stroke-dasharray="1.7 1.43" stroke-dashoffset="-0.75" stroke-width="2" fill="none"/>
<rect x="736.8" y="56.9" width="151.4" height="21" fill="rgba(87,134,205,0.28)" stroke="#d6d8de" stroke-width="1.5"/>
<rect x="736.8" y="120.3" width="150.6" height="21" fill="rgba(87,134,205,0.28)" stroke="#d6d8de" stroke-width="1.5"/>
<rect x="739.8" y="298.5" width="142.4" height="20.7" fill="rgba(87,134,205,0.28)" stroke="#d6d8de" stroke-width="1.5"/>
<rect x="742" y="385" width="142.4" height="20.7" fill="rgba(87,134,205,0.28)" stroke="#d6d8de" stroke-width="1.5"/>
<text x="738.5" y="70.9" font-size="15.5" font-weight="normal" fill="#ffffff" stroke="#ffffff" stroke-width="0.35" textLength="121.6" lengthAdjust="spacingAndGlyphs">Resistance Line 2</text>
<text x="738.4" y="134.5" font-size="15.5" font-weight="normal" fill="#ffffff" stroke="#ffffff" stroke-width="0.35" textLength="121.5" lengthAdjust="spacingAndGlyphs">Resistance Line 1</text>
<text x="741.1" y="312.5" font-size="15.5" font-weight="normal" fill="#ffffff" stroke="#ffffff" stroke-width="0.35" textLength="101.9" lengthAdjust="spacingAndGlyphs">Support Line 1</text>
<text x="744.1" y="400.4" font-size="15.5" font-weight="normal" fill="#ffffff" stroke="#ffffff" stroke-width="0.35" textLength="103.4" lengthAdjust="spacingAndGlyphs">Support Line 2</text>
<path d="M4 71H1543M4 128H1543" stroke="#00ff00" stroke-width="2" stroke-dasharray="2 4.3165" stroke-dashoffset="-0.6" fill="none"/>
<path d="M4 311H1543M4 412.5H1543" stroke="#ff0000" stroke-width="2" stroke-dasharray="2 4.3165" stroke-dashoffset="-0.6" fill="none"/>
<text x="15.3" y="57.4" font-size="16.5" font-weight="bold" fill="#d4d4d6" stroke="#d4d4d6" stroke-width="0" textLength="290.3" lengthAdjust="spacingAndGlyphs">U.S. Dollar / Japanese Yen, 30, FXCM</text>
<text x="14.5" y="475.8" font-size="16" font-weight="normal" fill="#c8c8cc" stroke="#c8c8cc" stroke-width="0.35" textLength="112.7" lengthAdjust="spacingAndGlyphs">Stoch (14, 3, 3)</text>
<text x="15.3" y="601.6" font-size="16" font-weight="normal" fill="#c8c8cc" stroke="#c8c8cc" stroke-width="0.35" textLength="106.3" lengthAdjust="spacingAndGlyphs">RSI (14, close)</text>
<text x="15.2" y="728.2" font-size="16" font-weight="normal" fill="#c8c8cc" stroke="#c8c8cc" stroke-width="0.35" textLength="175.8" lengthAdjust="spacingAndGlyphs">MACD (12, 26, close, 9)</text>
<path d="M5.0 553.0 L6.5 543.9 L8.0 527.0 L9.4 505.0 L10.9 496.3 L12.4 489.2 L13.9 490.1 L15.4 485.2 L16.8 492.6 L18.3 502.6 L19.8 515.9 L21.3 519.8 L22.8 520.6 L24.2 530.8 L25.7 544.5 L27.2 551.0 L28.7 538.1 L30.2 521.3 L31.6 513.0 L33.1 504.8 L34.6 504.6 L36.1 505.0 L37.6 515.2 L39.0 532.3 L40.5 544.6 L42.0 558.0 L43.5 554.0 L45.0 551.0 L46.4 549.0 L47.9 545.1 L49.4 539.4 L50.9 523.1 L52.4 515.4 L53.8 510.4 L55.3 511.7 L56.8 509.3 L58.3 505.3 L59.8 497.4 L61.2 488.5 L62.7 490.2 L64.2 501.1 L65.7 512.3 L67.2 523.4 L68.6 519.9 L70.1 518.3 L71.6 517.9 L73.1 521.7 L74.6 517.7 L76.0 508.1 L77.5 498.7 L79.0 493.5 L80.5 489.8 L82.0 482.3 L83.4 478.8 L84.9 469.0 L86.4 466.7 L87.9 466.7 L89.4 474.3 L90.8 479.3 L92.3 481.3 L93.8 480.6 L95.3 479.9 L96.8 475.4 L98.2 473.4 L99.7 476.1 L101.2 477.9 L102.7 478.2 L104.2 485.8 L105.6 499.9 L107.1 516.8 L108.6 510.9 L110.1 514.2 L111.6 507.4 L113.0 507.9 L114.5 507.9 L116.0 506.9 L117.5 507.0 L119.0 500.0 L120.4 487.8 L121.9 486.6 L123.4 475.6 L124.9 476.3 L126.4 473.7 L127.8 481.4 L129.3 495.0 L130.8 508.3 L132.3 516.7 L133.8 514.1 L135.2 508.8 L136.7 510.7 L138.2 514.1 L139.7 526.6 L141.2 532.5 L142.6 538.7 L144.1 543.8 L145.6 546.9 L147.1 553.0 L148.6 548.3 L150.0 553.4 L151.5 552.2 L153.0 554.3 L154.5 551.0 L156.0 546.8 L157.4 533.7 L158.9 510.8 L160.4 492.0 L161.9 479.0 L163.4 478.6 L164.8 482.4 L166.3 485.7 L167.8 486.2 L169.3 484.8 L170.8 484.1 L172.2 483.9 L173.7 480.1 L175.2 483.5 L176.7 480.8 L178.2 490.5 L179.6 501.9 L181.1 506.5 L182.6 523.2 L184.1 521.2 L185.6 525.3 L187.0 507.0 L188.5 503.3 L190.0 508.9 L191.5 524.6 L193.0 533.3 L194.4 529.3 L195.9 515.2 L197.4 512.6 L198.9 515.2 L200.4 521.7 L201.8 512.2 L203.3 502.8 L204.8 487.8 L206.3 477.9 L207.8 471.9 L209.2 479.6 L210.7 495.8 L212.2 511.6 L213.7 524.0 L215.2 535.9 L216.6 548.1 L218.1 530.2 L219.6 504.8 L221.1 489.6 L222.6 489.4 L224.0 498.2 L225.5 492.6 L227.0 501.4 L228.5 501.0 L230.0 499.8 L231.4 493.6 L232.9 502.8 L234.4 524.2 L235.9 533.7 L237.4 538.7 L238.8 537.4 L240.3 546.1 L241.8 545.8 L243.3 539.6 L244.8 541.1 L246.2 536.5 L247.7 530.7 L249.2 512.5 L250.7 505.0 L252.2 489.4 L253.6 480.4 L255.1 483.9 L256.6 507.1 L258.1 537.2 L259.6 550.4 L261.0 556.0 L262.5 554.7 L264.0 548.7 L265.5 550.3 L267.0 544.1 L268.4 545.4 L269.9 538.4 L271.4 538.2 L272.9 537.8 L274.4 535.5 L275.8 525.6 L277.3 506.4 L278.8 489.8 L280.3 477.2 L281.8 498.6 L283.2 518.1 L284.7 525.9 L286.2 512.9 L287.7 506.2 L289.2 518.0 L290.6 529.8 L292.1 539.5 L293.6 541.1 L295.1 542.2 L296.6 532.1 L298.0 526.2 L299.5 521.4 L301.0 519.4 L302.5 510.7 L304.0 491.8 L305.4 477.2 L306.9 470.5 L308.4 468.4 L309.9 479.6 L311.4 483.9 L312.8 487.4 L314.3 481.0 L315.8 487.0 L317.3 489.9 L318.8 501.3 L320.2 493.9 L321.7 504.8 L323.2 513.4 L324.7 533.6 L326.2 531.6 L327.6 521.6 L329.1 516.9 L330.6 517.7 L332.1 519.5 L333.6 526.9 L335.0 540.0 L336.5 549.3 L338.0 549.4 L339.5 547.7 L341.0 551.6 L342.4 556.7 L343.9 558.1 L345.4 557.2 L346.9 556.3 L348.4 556.2 L349.8 557.7 L351.3 549.3 L352.8 542.6 L354.3 538.6 L355.8 548.3 L357.2 550.3 L358.7 553.6 L360.2 550.5 L361.7 546.8 L363.2 536.8 L364.6 519.2 L366.1 510.8 L367.6 512.1 L369.1 518.8 L370.6 520.2 L372.0 513.0 L373.5 501.1 L375.0 492.2 L376.5 486.4 L378.0 481.4 L379.4 482.2 L380.9 480.6 L382.4 488.0 L383.9 488.0 L385.4 486.6 L386.8 501.2 L388.3 515.0 L389.8 530.0 L391.3 526.1 L392.8 533.6 L394.2 540.8 L395.7 542.5 L397.2 528.7 L398.7 522.7 L400.2 530.4 L401.6 542.4 L403.1 537.1 L404.6 525.7 L406.1 511.2 L407.6 509.2 L409.0 505.3 L410.5 497.9 L412.0 485.4 L413.5 473.8 L415.0 472.0 L416.4 475.2 L417.9 479.9 L419.4 486.9 L420.9 498.3 L422.4 508.8 L423.8 507.8 L425.3 502.3 L426.8 498.9 L428.3 513.7 L429.8 519.3 L431.2 523.6 L432.7 522.1 L434.2 529.8 L435.7 530.9 L437.2 530.7 L438.6 539.2 L440.1 543.4 L441.6 551.2 L443.1 545.8 L444.6 535.4 L446.0 516.5 L447.5 495.4 L449.0 490.3 L450.5 487.9 L452.0 492.3 L453.4 496.9 L454.9 501.4 L456.4 502.8 L457.9 503.3 L459.4 514.2 L460.8 524.6 L462.3 531.1 L463.8 530.1 L465.3 524.3 L466.8 514.2 L468.2 492.6 L469.7 482.2 L471.2 487.6 L472.7 508.1 L474.2 521.6 L475.6 525.7 L477.1 524.2 L478.6 522.4 L480.1 519.9 L481.6 516.8 L483.0 522.3 L484.5 534.4 L486.0 542.5 L487.5 546.7 L489.0 549.3 L490.4 544.4 L491.9 537.2 L493.4 511.9 L494.9 506.0 L496.4 493.4 L497.8 501.9 L499.3 490.0 L500.8 496.5 L502.3 485.7 L503.8 487.4 L505.2 477.5 L506.7 484.3 L508.2 488.5 L509.7 492.1 L511.2 483.7 L512.6 485.9 L514.1 481.6 L515.6 481.3 L517.1 473.2 L518.6 472.1 L520.0 482.3 L521.5 492.2 L523.0 507.0 L524.5 522.4 L526.0 535.6 L527.4 539.0 L528.9 537.9 L530.4 530.5 L531.9 533.4 L533.4 531.3 L534.8 545.8 L536.3 553.2 L537.8 547.8 L539.3 538.3 L540.8 534.4 L542.2 537.8 L543.7 535.2 L545.2 517.3 L546.7 507.9 L548.2 498.0 L549.6 500.4 L551.1 500.8 L552.6 502.5 L554.1 501.8 L555.6 494.5 L557.0 487.0 L558.5 499.3 L560.0 516.4 L561.5 532.2 L563.0 530.2 L564.4 527.9 L565.9 512.8 L567.4 497.6 L568.9 490.6 L570.4 513.0 L571.8 516.7 L573.3 518.4 L574.8 500.2 L576.3 496.4 L577.8 485.6 L579.2 480.1 L580.7 473.7 L582.2 471.7 L583.7 467.8 L585.2 475.1 L586.6 479.2 L588.1 484.5 L589.6 480.0 L591.1 480.6 L592.6 491.0 L594.0 510.7 L595.5 533.1 L597.0 541.5 L598.5 540.9 L600.0 533.2 L601.4 535.9 L602.9 541.0 L604.4 550.2 L605.9 544.3 L607.4 549.4 L608.8 546.5 L610.3 554.3 L611.8 550.6 L613.3 549.2 L614.8 545.6 L616.2 539.4 L617.7 534.8 L619.2 531.6 L620.7 529.2 L622.2 524.4 L623.6 520.2 L625.1 517.1 L626.6 508.7 L628.1 493.3 L629.6 478.3 L631.0 471.0 L632.5 479.5 L634.0 482.3 L635.5 495.3 L637.0 494.5 L638.4 519.8 L639.9 518.3 L641.4 525.6 L642.9 503.8 L644.4 512.0 L645.8 504.5 L647.3 507.3 L648.8 496.2 L650.3 495.3 L651.8 496.4 L653.2 500.3 L654.7 505.1 L656.2 499.9 L657.7 491.3 L659.2 487.8 L660.6 481.3 L662.1 482.4 L663.6 488.2 L665.1 506.8 L666.6 522.8 L668.0 525.3 L669.5 524.3 L671.0 522.8 L672.5 521.2 L674.0 516.1 L675.4 494.8 L676.9 488.5 L678.4 475.6 L679.9 478.0 L681.4 473.8 L682.8 479.8 L684.3 478.9 L685.8 476.5 L687.3 479.0 L688.8 483.0 L690.2 484.7 L691.7 479.8 L693.2 478.1 L694.7 476.3 L696.2 478.4 L697.6 476.8 L699.1 478.0 L700.6 473.3 L702.1 474.9 L703.6 479.5 L705.0 485.3 L706.5 492.8 L708.0 489.0 L709.5 490.3 L711.0 480.0 L712.4 485.0 L713.9 485.6 L715.4 489.0 L716.9 488.9 L718.4 483.7 L719.8 492.5 L721.3 491.8 L722.8 491.4 L724.3 491.5 L725.8 496.8 L727.2 509.1 L728.7 505.4 L730.2 505.4 L731.7 500.4 L733.2 518.5 L734.6 513.5 L736.1 520.5 L737.6 502.3 L739.1 492.6 L740.6 475.7 L742.0 472.1 L743.5 471.1 L745.0 474.5 L746.5 481.7 L748.0 488.6 L749.4 494.8 L750.9 497.2 L752.4 508.7 L753.9 521.7 L755.4 536.1 L756.8 541.9 L758.3 550.5 L759.8 545.5 L761.3 550.5 L762.8 548.3 L764.2 548.2 L765.7 548.0 L767.2 548.7 L768.7 545.5 L770.2 539.7 L771.6 537.3 L773.1 536.4 L774.6 531.1 L776.1 522.1 L777.6 519.3 L779.0 520.5 L780.5 518.0 L782.0 511.3 L783.5 512.0 L785.0 502.3 L786.4 496.7 L787.9 494.8 L789.4 500.3 L790.9 511.7 L792.4 509.3 L793.8 519.7 L795.3 523.9 L796.8 528.7 L798.3 527.8 L799.8 532.4 L801.2 529.1 L802.7 526.9 L804.2 530.9 L805.7 543.9 L807.2 557.4 L808.6 559.4 L810.1 561.2 L811.6 555.4 L813.1 552.6 L814.6 553.6 L816.0 554.7 L817.5 549.1 L819.0 536.0 L820.5 519.3 L822.0 499.0 L823.4 486.0 L824.9 475.4 L826.4 472.3 L827.9 467.3 L829.4 476.0 L830.8 487.1 L832.3 499.6 L833.8 502.9 L835.3 501.6 L836.8 500.6 L838.2 501.4 L839.7 505.8 L841.2 507.4 L842.7 515.2 L844.2 527.4 L845.6 544.7 L847.1 545.8 L848.6 538.2 L850.1 516.3 L851.6 494.7 L853.0 477.8 L854.5 480.9 L856.0 486.5 L857.5 493.9 L859.0 496.2 L860.4 510.7 L861.9 522.7 L863.4 535.3 L864.9 539.4 L866.4 548.7 L867.8 545.0 L869.3 548.9 L870.8 540.8 L872.3 539.1 L873.8 537.6 L875.2 536.3 L876.7 533.4 L878.2 515.7 L879.7 499.4 L881.2 483.2 L882.6 482.2 L884.1 482.9 L885.6 491.0 L887.1 485.2 L888.6 482.3 L890.0 472.7 L891.5 472.4 L893.0 477.5 L894.5 477.9 L896.0 479.9 L897.4 476.6 L898.9 477.5 L900.4 480.5 L901.9 482.1 L903.4 483.7 L904.8 478.8 L906.3 477.0 L907.8 477.8 L909.3 484.0 L910.8 492.7 L912.2 502.7 L913.7 518.1 L915.2 537.3 L916.7 548.4 L918.2 555.9 L919.6 553.7 L921.1 551.6 L922.6 545.8 L924.1 540.9 L925.6 542.0 L927.0 531.4 L928.5 511.2 L930.0 493.1 L931.5 478.5 L933.0 474.5 L934.4 468.4 L935.9 472.2 L937.4 478.8 L938.9 483.1 L940.4 485.5 L941.8 486.1 L943.3 486.0 L944.8 486.2 L946.3 498.3 L947.8 505.6 L949.2 512.6 L950.7 510.5 L952.2 499.3 L953.7 493.2 L955.2 486.5 L956.6 496.4 L958.1 497.0 L959.6 490.3 L961.1 490.4 L962.6 502.2 L964.0 505.5 L965.5 514.2 L967.0 505.9 L968.5 508.9 L970.0 501.7 L971.4 502.4 L972.9 502.3 L974.4 496.4 L975.9 487.5 L977.4 481.1 L978.8 473.6 L980.3 472.1 L981.8 468.4 L983.3 470.9 L984.8 469.8 L986.2 469.8 L987.7 475.2 L989.2 475.2 L990.7 482.1 L992.2 478.3 L993.6 480.2 L995.1 476.7 L996.6 480.1 L998.1 499.0 L999.6 508.1 L1001.0 527.3 L1002.5 536.2 L1004.0 553.7 L1005.5 559.8 L1007.0 556.2 L1008.4 555.7 L1009.9 551.0 L1011.4 556.3 L1012.9 557.1 L1014.4 558.4 L1015.8 552.1 L1017.3 549.0 L1018.8 551.5 L1020.3 556.4 L1021.8 559.0 L1023.2 552.6 L1024.7 551.8 L1026.2 547.0 L1027.7 551.2 L1029.2 547.1 L1030.6 547.6 L1032.1 545.6 L1033.6 540.9 L1035.1 541.9 L1036.6 539.9 L1038.0 538.8 L1039.5 527.0 L1041.0 523.5 L1042.5 529.3 L1044.0 524.6 L1045.4 526.4 L1046.9 516.2 L1048.4 524.3 L1049.9 515.2 L1051.4 513.5 L1052.8 509.8 L1054.3 516.3 L1055.8 524.5 L1057.3 528.6 L1058.8 526.2 L1060.2 522.3 L1061.7 532.5 L1063.2 539.1 L1064.7 543.6 L1066.2 546.1 L1067.6 530.8 L1069.1 514.3 L1070.6 499.7 L1072.1 491.4 L1073.6 493.1 L1075.0 479.6 L1076.5 487.5 L1078.0 484.5 L1079.5 496.1 L1081.0 504.3 L1082.4 515.0 L1083.9 508.8 L1085.4 499.8 L1086.9 493.3 L1088.4 494.3 L1089.8 507.7 L1091.3 515.0 L1092.8 533.5 L1094.3 533.4 L1095.8 541.7 L1097.2 528.6 L1098.7 516.4 L1100.2 498.5 L1101.7 496.7 L1103.2 502.3 L1104.6 510.7 L1106.1 496.7 L1107.6 488.6 L1109.1 493.1 L1110.6 504.9 L1112.0 507.7 L1113.5 501.7 L1115.0 503.0 L1116.5 505.2 L1118.0 505.5 L1119.4 509.9 L1120.9 513.2 L1122.4 518.2 L1123.9 520.0 L1125.4 524.9 L1126.8 525.8 L1128.3 525.9 L1129.8 532.1 L1131.3 537.2 L1132.8 546.2 L1134.2 534.8 L1135.7 531.0 L1137.2 520.2 L1138.7 518.5 L1140.2 505.5 L1141.6 500.1 L1143.1 499.6 L1144.6 496.6 L1146.1 489.4 L1147.6 495.8 L1149.0 508.6 L1150.5 518.3 L1152.0 516.5 L1153.5 511.1 L1155.0 516.4 L1156.4 507.6 L1157.9 508.2 L1159.4 515.1 L1160.9 537.9 L1162.4 545.8 L1163.8 546.1 L1165.3 533.5 L1166.8 530.0 L1168.3 521.5 L1169.8 516.9 L1171.2 512.2 L1172.7 495.5 L1174.2 481.9 L1175.7 472.9 L1177.2 474.9 L1178.6 484.0 L1180.1 492.5 L1181.6 488.8 L1183.1 483.7 L1184.6 476.4 L1186.0 483.6 L1187.5 494.7 L1189.0 513.0 L1190.5 531.4 L1192.0 540.7 L1193.4 542.9 L1194.9 537.9 L1196.4 538.5 L1197.9 533.6 L1199.4 528.9 L1200.8 519.3 L1202.3 521.2 L1203.8 511.3 L1205.3 507.5 L1206.8 488.7 L1208.2 486.8 L1209.7 479.9 L1211.2 483.1 L1212.7 484.4 L1214.2 482.6 L1215.6 476.2 L1217.1 471.6 L1218.6 473.4 L1220.1 481.3 L1221.6 485.6 L1223.0 490.1 L1224.5 493.2 L1226.0 496.6 L1227.5 495.7 L1229.0 503.5 L1230.4 524.1 L1231.9 536.4 L1233.4 543.6 L1234.9 545.9 L1236.4 552.4 L1237.8 558.1 L1239.3 551.6 L1240.8 551.7 L1242.3 552.0 L1243.8 555.3 L1245.2 553.7 L1246.7 552.8 L1248.2 552.1 L1249.7 544.2 L1251.2 529.2 L1252.6 514.6 L1254.1 521.7 L1255.6 530.6 L1257.1 538.4 L1258.6 534.7 L1260.0 542.3 L1261.5 551.4 L1263.0 556.5 L1264.5 550.3 L1266.0 547.3 L1267.4 541.3 L1268.9 538.6 L1270.4 536.4 L1271.9 539.5 L1273.4 539.5 L1274.8 531.6 L1276.3 525.8 L1277.8 522.9 L1279.3 524.6 L1280.8 528.1 L1282.2 529.5 L1283.7 538.8 L1285.2 537.5 L1286.7 530.5 L1288.2 511.5 L1289.6 489.7 L1291.1 483.2 L1292.6 483.0 L1294.1 485.6 L1295.6 486.7 L1297.0 487.0 L1298.5 488.3 L1300.0 479.4 L1301.5 469.7 L1303.0 465.7 L1304.4 463.7 L1305.9 468.0 L1307.4 467.6 L1308.9 467.6 L1310.4 469.6 L1311.8 478.2 L1313.3 485.7 L1314.8 488.2 L1316.3 487.4 L1317.8 495.3 L1319.2 500.9 L1320.7 515.9 L1322.2 523.7 L1323.7 542.0 L1325.2 548.6 L1326.6 553.6 L1328.1 553.7 L1329.6 555.2 L1331.1 554.9 L1332.6 549.6 L1334.0 546.8 L1335.5 547.7 L1337.0 551.9 L1338.5 550.5 L1340.0 544.6 L1341.4 538.2 L1342.9 543.1 L1344.4 552.3 L1345.9 532.5 L1347.4 518.4 L1348.8 495.9 L1350.3 496.1 L1351.8 483.9 L1353.3 475.0 L1354.8 470.8 L1356.2 467.1 L1357.7 472.1 L1359.2 482.2 L1360.7 491.5" stroke="#2196f3" stroke-width="1.8" fill="none" stroke-linejoin="round"/>
<path d="M5.0 554.9 L6.5 551.5 L8.0 541.3 L9.4 525.3 L10.9 509.4 L12.4 496.8 L13.9 491.9 L15.4 488.2 L16.8 489.3 L18.3 493.5 L19.8 503.7 L21.3 512.8 L22.8 518.8 L24.2 523.7 L25.7 531.9 L27.2 542.1 L28.7 544.5 L30.2 536.8 L31.6 524.1 L33.1 513.0 L34.6 507.5 L36.1 504.8 L37.6 508.3 L39.0 517.5 L40.5 530.7 L42.0 545.0 L43.5 552.2 L45.0 554.4 L46.4 551.3 L47.9 548.4 L49.4 544.5 L50.9 535.9 L52.4 526.0 L53.8 516.3 L55.3 512.5 L56.8 510.5 L58.3 508.8 L59.8 504.0 L61.2 497.0 L62.7 492.0 L64.2 493.2 L65.7 501.2 L67.2 512.3 L68.6 518.5 L70.1 520.5 L71.6 518.7 L73.1 519.3 L74.6 519.1 L76.0 515.8 L77.5 508.2 L79.0 500.1 L80.5 494.0 L82.0 488.5 L83.4 483.6 L84.9 476.7 L86.4 471.5 L87.9 467.5 L89.4 469.2 L90.8 473.4 L92.3 478.3 L93.8 480.4 L95.3 480.6 L96.8 478.6 L98.2 476.2 L99.7 475.0 L101.2 475.8 L102.7 477.4 L104.2 480.6 L105.6 487.9 L107.1 500.8 L108.6 509.2 L110.1 514.0 L111.6 510.8 L113.0 509.8 L114.5 507.8 L116.0 507.6 L117.5 507.3 L119.0 504.7 L120.4 498.3 L121.9 491.5 L123.4 483.3 L124.9 479.5 L126.4 475.2 L127.8 477.1 L129.3 483.3 L130.8 494.9 L132.3 506.7 L133.8 513.0 L135.2 513.2 L136.7 511.2 L138.2 511.2 L139.7 517.1 L141.2 524.4 L142.6 532.6 L144.1 538.3 L145.6 543.1 L147.1 547.9 L148.6 549.4 L150.0 551.6 L151.5 551.3 L153.0 553.3 L154.5 552.5 L156.0 550.7 L157.4 543.8 L158.9 530.4 L160.4 512.1 L161.9 493.9 L163.4 483.2 L164.8 480.0 L166.3 482.2 L167.8 484.8 L169.3 485.6 L170.8 485.0 L172.2 484.2 L173.7 482.7 L175.2 482.5 L176.7 481.5 L178.2 484.9 L179.6 491.0 L181.1 499.6 L182.6 510.5 L184.1 517.0 L185.6 523.2 L187.0 517.8 L188.5 511.9 L190.0 506.4 L191.5 512.3 L193.0 522.3 L194.4 529.1 L195.9 525.9 L197.4 519.0 L198.9 514.3 L200.4 516.5 L201.8 516.4 L203.3 512.2 L204.8 500.9 L206.3 489.5 L207.8 479.2 L209.2 476.4 L210.7 482.4 L212.2 495.7 L213.7 510.5 L215.2 523.8 L216.6 536.0 L218.1 538.1 L219.6 527.7 L221.1 508.2 L222.6 494.6 L224.0 492.4 L225.5 493.4 L227.0 497.4 L228.5 498.3 L230.0 500.7 L231.4 498.2 L232.9 498.8 L234.4 506.9 L235.9 520.2 L237.4 532.2 L238.8 536.6 L240.3 540.7 L241.8 543.1 L243.3 543.8 L244.8 542.1 L246.2 539.0 L247.7 536.1 L249.2 526.6 L250.7 516.1 L252.2 502.3 L253.6 491.6 L255.1 484.6 L256.6 490.5 L258.1 509.4 L259.6 531.5 L261.0 547.9 L262.5 553.7 L264.0 553.1 L265.5 551.3 L267.0 547.7 L268.4 546.6 L269.9 542.6 L271.4 540.6 L272.9 538.1 L274.4 537.2 L275.8 533.0 L277.3 522.5 L278.8 507.3 L280.3 491.1 L281.8 488.5 L283.2 498.0 L284.7 514.2 L286.2 519.0 L287.7 515.0 L289.2 512.4 L290.6 518.0 L292.1 529.1 L293.6 536.8 L295.1 540.9 L296.6 538.5 L298.0 533.5 L299.5 526.6 L301.0 522.4 L302.5 517.2 L304.0 507.3 L305.4 493.2 L306.9 479.9 L308.4 472.1 L309.9 472.8 L311.4 477.3 L312.8 483.6 L314.3 484.1 L315.8 485.1 L317.3 485.9 L318.8 492.7 L320.2 495.0 L321.7 500.0 L323.2 504.0 L324.7 517.3 L326.2 526.2 L327.6 528.9 L329.1 523.4 L330.6 518.8 L332.1 518.1 L333.6 521.4 L335.0 528.8 L336.5 538.7 L338.0 546.2 L339.5 548.8 L341.0 549.6 L342.4 552.0 L343.9 555.5 L345.4 557.3 L346.9 557.2 L348.4 556.6 L349.8 556.7 L351.3 554.4 L352.8 549.8 L354.3 543.5 L355.8 543.2 L357.2 545.8 L358.7 550.7 L360.2 551.5 L361.7 550.3 L363.2 544.7 L364.6 534.3 L366.1 522.2 L367.6 514.0 L369.1 513.9 L370.6 517.0 L372.0 517.3 L373.5 511.4 L375.0 502.1 L376.5 493.2 L378.0 486.6 L379.4 483.3 L380.9 481.4 L382.4 483.6 L383.9 485.5 L385.4 487.5 L386.8 491.9 L388.3 500.9 L389.8 515.4 L391.3 523.7 L392.8 529.9 L394.2 533.5 L395.7 539.0 L397.2 537.3 L398.7 531.3 L400.2 527.3 L401.6 531.8 L403.1 536.6 L404.6 535.1 L406.1 524.6 L407.6 515.4 L409.0 508.6 L410.5 504.1 L412.0 496.2 L413.5 485.7 L415.0 477.0 L416.4 473.6 L417.9 475.7 L419.4 480.7 L420.9 488.4 L422.4 498.0 L423.8 505.0 L425.3 506.3 L426.8 503.0 L428.3 505.0 L429.8 510.7 L431.2 518.9 L432.7 521.7 L434.2 525.2 L435.7 527.6 L437.2 530.5 L438.6 533.6 L440.1 537.8 L441.6 544.6 L443.1 546.8 L444.6 544.1 L446.0 532.6 L447.5 515.8 L449.0 500.8 L450.5 491.2 L452.0 490.2 L453.4 492.4 L454.9 496.9 L456.4 500.4 L457.9 502.5 L459.4 506.8 L460.8 514.0 L462.3 523.3 L463.8 528.6 L465.3 528.5 L466.8 522.9 L468.2 510.3 L469.7 496.3 L471.2 487.5 L472.7 492.7 L474.2 505.8 L475.6 518.5 L477.1 523.8 L478.6 524.1 L480.1 522.1 L481.6 519.7 L483.0 519.7 L484.5 524.5 L486.0 533.1 L487.5 541.2 L489.0 546.2 L490.4 546.8 L491.9 543.6 L493.4 531.2 L494.9 518.4 L496.4 503.8 L497.8 500.5 L499.3 495.1 L500.8 496.1 L502.3 490.7 L503.8 489.9 L505.2 483.6 L506.7 483.1 L508.2 483.4 L509.7 488.3 L511.2 488.1 L512.6 487.2 L514.1 483.7 L515.6 483.0 L517.1 478.7 L518.6 475.5 L520.0 475.9 L521.5 482.2 L523.0 493.8 L524.5 507.2 L526.0 521.7 L527.4 532.3 L528.9 537.5 L530.4 535.8 L531.9 533.9 L533.4 531.7 L534.8 536.8 L536.3 543.4 L537.8 548.9 L539.3 546.4 L540.8 540.1 L542.2 536.8 L543.7 535.8 L545.2 530.1 L546.7 520.1 L548.2 507.7 L549.6 502.1 L551.1 499.7 L552.6 501.2 L554.1 501.7 L555.6 499.6 L557.0 494.4 L558.5 493.6 L560.0 500.9 L561.5 516.0 L563.0 526.3 L564.4 530.1 L565.9 523.6 L567.4 512.8 L568.9 500.3 L570.4 500.4 L571.8 506.7 L573.3 516.0 L574.8 511.8 L576.3 505.0 L577.8 494.1 L579.2 487.4 L580.7 479.8 L582.2 475.2 L583.7 471.1 L585.2 471.5 L586.6 474.0 L588.1 479.6 L589.6 481.2 L591.1 481.7 L592.6 483.9 L594.0 494.1 L595.5 511.6 L597.0 528.4 L598.5 538.5 L600.0 538.6 L601.4 536.7 L602.9 536.7 L604.4 542.4 L605.9 545.2 L607.4 548.0 L608.8 546.8 L610.3 550.1 L611.8 550.5 L613.3 551.4 L614.8 548.5 L616.2 544.7 L617.7 540.0 L619.2 535.3 L620.7 531.9 L622.2 528.4 L623.6 524.6 L625.1 520.6 L626.6 515.3 L628.1 506.3 L629.6 493.4 L631.0 480.8 L632.5 476.3 L634.0 477.6 L635.5 485.7 L637.0 490.7 L638.4 503.2 L639.9 510.8 L641.4 521.2 L642.9 515.9 L644.4 513.8 L645.8 506.7 L647.3 507.9 L648.8 502.7 L650.3 499.6 L651.8 496.0 L653.2 497.3 L654.7 500.6 L656.2 501.8 L657.7 498.8 L659.2 493.0 L660.6 486.8 L662.1 483.8 L663.6 483.9 L665.1 492.4 L666.6 505.9 L668.0 518.3 L669.5 524.1 L671.0 524.1 L672.5 522.8 L674.0 520.0 L675.4 510.7 L676.9 499.8 L678.4 486.3 L679.9 480.7 L681.4 475.8 L682.8 477.2 L684.3 477.5 L685.8 478.4 L687.3 478.2 L688.8 479.5 L690.2 482.2 L691.7 482.5 L693.2 480.8 L694.7 478.1 L696.2 477.6 L697.6 477.1 L699.1 477.7 L700.6 476.0 L702.1 475.4 L703.6 475.9 L705.0 479.9 L706.5 485.9 L708.0 489.0 L709.5 490.7 L711.0 486.4 L712.4 485.1 L713.9 483.5 L715.4 486.5 L716.9 487.8 L718.4 487.2 L719.8 488.4 L721.3 489.3 L722.8 491.9 L724.3 491.6 L725.8 493.2 L727.2 499.1 L728.7 503.7 L730.2 506.6 L731.7 503.7 L733.2 508.1 L734.6 510.8 L736.1 517.5 L737.6 512.1 L739.1 505.1 L740.6 490.2 L742.0 480.1 L743.5 472.9 L745.0 472.6 L746.5 475.8 L748.0 481.6 L749.4 488.4 L750.9 493.6 L752.4 500.2 L753.9 509.2 L755.4 522.2 L756.8 533.2 L758.3 542.8 L759.8 546.0 L761.3 548.8 L762.8 548.1 L764.2 549.0 L765.7 548.2 L767.2 548.3 L768.7 547.4 L770.2 544.6 L771.6 540.8 L773.1 537.8 L774.6 534.9 L776.1 529.8 L777.6 524.1 L779.0 520.6 L780.5 519.2 L782.0 516.6 L783.5 513.7 L785.0 508.5 L786.4 503.7 L787.9 498.0 L789.4 497.3 L790.9 502.3 L792.4 507.1 L793.8 513.6 L795.3 517.6 L796.8 524.1 L798.3 526.8 L799.8 529.6 L801.2 529.8 L802.7 529.5 L804.2 529.0 L805.7 533.9 L807.2 544.1 L808.6 553.6 L810.1 559.3 L811.6 558.7 L813.1 556.4 L814.6 553.9 L816.0 553.6 L817.5 552.4 L819.0 546.6 L820.5 534.8 L822.0 518.1 L823.4 501.5 L824.9 486.8 L826.4 477.9 L827.9 471.6 L829.4 471.8 L830.8 476.8 L832.3 487.6 L833.8 496.6 L835.3 501.4 L836.8 501.7 L838.2 501.2 L839.7 502.6 L841.2 504.9 L842.7 509.5 L844.2 516.7 L845.6 529.1 L847.1 539.3 L848.6 542.9 L850.1 533.5 L851.6 516.4 L853.0 496.2 L854.5 484.4 L856.0 481.7 L857.5 487.1 L859.0 492.2 L860.4 500.3 L861.9 509.9 L863.4 522.9 L864.9 532.5 L866.4 541.1 L867.8 544.4 L869.3 547.6 L870.8 544.9 L872.3 542.9 L873.8 539.2 L875.2 537.7 L876.7 535.8 L878.2 528.4 L879.7 516.2 L881.2 499.4 L882.6 488.3 L884.1 482.8 L885.6 485.4 L887.1 486.4 L888.6 486.2 L890.0 480.1 L891.5 475.8 L893.0 474.2 L894.5 475.9 L896.0 478.4 L897.4 478.1 L898.9 478.0 L900.4 478.2 L901.9 480.0 L903.4 482.1 L904.8 481.6 L906.3 479.9 L907.8 477.9 L909.3 479.6 L910.8 484.8 L912.2 493.1 L913.7 504.5 L915.2 519.4 L916.7 534.6 L918.2 547.2 L919.6 552.7 L921.1 553.7 L922.6 550.4 L924.1 546.1 L925.6 542.9 L927.0 538.1 L928.5 528.2 L930.0 511.9 L931.5 494.3 L933.0 482.0 L934.4 473.8 L935.9 471.7 L937.4 473.1 L938.9 478.0 L940.4 482.5 L941.8 484.9 L943.3 485.9 L944.8 486.1 L946.3 490.2 L947.8 496.7 L949.2 505.5 L950.7 509.5 L952.2 507.5 L953.7 501.0 L955.2 493.0 L956.6 492.0 L958.1 493.3 L959.6 494.6 L961.1 492.6 L962.6 494.3 L964.0 499.4 L965.5 507.3 L967.0 508.5 L968.5 509.7 L970.0 505.5 L971.4 504.4 L972.9 502.1 L974.4 500.4 L975.9 495.4 L977.4 488.3 L978.8 480.8 L980.3 475.6 L981.8 471.4 L983.3 470.5 L984.8 469.7 L986.2 470.1 L987.7 471.6 L989.2 473.4 L990.7 477.5 L992.2 478.5 L993.6 480.2 L995.1 478.4 L996.6 479.0 L998.1 485.3 L999.6 495.8 L1001.0 511.5 L1002.5 523.9 L1004.0 539.1 L1005.5 549.9 L1007.0 556.6 L1008.4 557.2 L1009.9 554.3 L1011.4 554.3 L1012.9 554.8 L1014.4 557.2 L1015.8 555.9 L1017.3 553.2 L1018.8 550.9 L1020.3 552.3 L1021.8 555.6 L1023.2 556.0 L1024.7 554.5 L1026.2 550.5 L1027.7 550.0 L1029.2 548.4 L1030.6 548.6 L1032.1 546.8 L1033.6 544.7 L1035.1 542.8 L1036.6 540.9 L1038.0 540.2 L1039.5 535.2 L1041.0 529.8 L1042.5 526.6 L1044.0 525.8 L1045.4 526.8 L1046.9 522.4 L1048.4 522.3 L1049.9 518.6 L1051.4 517.7 L1052.8 512.8 L1054.3 513.2 L1055.8 516.9 L1057.3 523.1 L1058.8 526.4 L1060.2 525.7 L1061.7 527.0 L1063.2 531.3 L1064.7 538.4 L1066.2 542.9 L1067.6 540.1 L1069.1 530.4 L1070.6 514.9 L1072.1 501.8 L1073.6 494.8 L1075.0 488.0 L1076.5 486.7 L1078.0 483.9 L1079.5 489.4 L1081.0 495.0 L1082.4 505.1 L1083.9 509.4 L1085.4 507.9 L1086.9 500.6 L1088.4 495.8 L1089.8 498.4 L1091.3 505.7 L1092.8 518.7 L1094.3 527.3 L1095.8 536.2 L1097.2 534.6 L1098.7 528.9 L1100.2 514.5 L1101.7 503.9 L1103.2 499.2 L1104.6 503.3 L1106.1 503.2 L1107.6 498.6 L1109.1 492.8 L1110.6 495.5 L1112.0 501.9 L1113.5 504.8 L1115.0 504.1 L1116.5 503.3 L1118.0 504.6 L1119.4 506.9 L1120.9 509.5 L1122.4 513.8 L1123.9 517.2 L1125.4 521.1 L1126.8 523.6 L1128.3 525.5 L1129.8 527.9 L1131.3 531.7 L1132.8 538.5 L1134.2 539.4 L1135.7 537.3 L1137.2 528.7 L1138.7 523.3 L1140.2 514.7 L1141.6 508.0 L1143.1 501.7 L1144.6 498.8 L1146.1 495.2 L1147.6 494.0 L1149.0 498.0 L1150.5 507.6 L1152.0 514.5 L1153.5 515.3 L1155.0 514.7 L1156.4 511.7 L1157.9 510.7 L1159.4 510.3 L1160.9 520.4 L1162.4 533.0 L1163.8 543.3 L1165.3 541.8 L1166.8 536.5 L1168.3 528.3 L1169.8 522.8 L1171.2 516.9 L1172.7 508.2 L1174.2 496.5 L1175.7 483.4 L1177.2 476.6 L1178.6 477.3 L1180.1 483.8 L1181.6 488.5 L1183.1 488.3 L1184.6 483.0 L1186.0 481.2 L1187.5 484.9 L1189.0 497.1 L1190.5 513.0 L1192.0 528.4 L1193.4 538.3 L1194.9 540.5 L1196.4 539.8 L1197.9 536.7 L1199.4 533.7 L1200.8 527.2 L1202.3 523.1 L1203.8 517.3 L1205.3 513.3 L1206.8 502.5 L1208.2 494.4 L1209.7 485.2 L1211.2 483.3 L1212.7 482.5 L1214.2 483.4 L1215.6 481.1 L1217.1 476.8 L1218.6 473.7 L1220.1 475.4 L1221.6 480.1 L1223.0 485.7 L1224.5 489.6 L1226.0 493.3 L1227.5 495.2 L1229.0 498.6 L1230.4 507.7 L1231.9 521.3 L1233.4 534.7 L1234.9 542.0 L1236.4 547.3 L1237.8 552.1 L1239.3 554.1 L1240.8 553.8 L1242.3 551.8 L1243.8 553.0 L1245.2 553.7 L1246.7 553.9 L1248.2 552.9 L1249.7 549.7 L1251.2 541.8 L1252.6 529.3 L1254.1 521.8 L1255.6 522.3 L1257.1 530.2 L1258.6 534.6 L1260.0 538.5 L1261.5 542.8 L1263.0 550.1 L1264.5 552.7 L1266.0 551.4 L1267.4 546.3 L1268.9 542.4 L1270.4 538.8 L1271.9 538.1 L1273.4 538.5 L1274.8 536.9 L1276.3 532.3 L1277.8 526.8 L1279.3 524.4 L1280.8 525.2 L1282.2 527.4 L1283.7 532.2 L1285.2 535.3 L1286.7 535.6 L1288.2 526.5 L1289.6 510.6 L1291.1 494.8 L1292.6 485.3 L1294.1 483.9 L1295.6 485.1 L1297.0 486.4 L1298.5 487.3 L1300.0 484.9 L1301.5 479.1 L1303.0 471.6 L1304.4 466.4 L1305.9 465.8 L1307.4 466.4 L1308.9 467.8 L1310.4 468.3 L1311.8 471.8 L1313.3 477.8 L1314.8 484.0 L1316.3 487.1 L1317.8 490.3 L1319.2 494.5 L1320.7 504.0 L1322.2 513.5 L1323.7 527.2 L1325.2 538.1 L1326.6 548.1 L1328.1 552.0 L1329.6 554.2 L1331.1 554.6 L1332.6 553.2 L1334.0 550.5 L1335.5 548.1 L1337.0 548.8 L1338.5 550.1 L1340.0 549.0 L1341.4 544.4 L1342.9 542.0 L1344.4 544.5 L1345.9 542.6 L1347.4 534.4 L1348.8 515.6 L1350.3 503.4 L1351.8 491.9 L1353.3 485.0 L1354.8 476.5 L1356.2 471.0 L1357.7 470.0 L1359.2 473.8 L1360.7 481.9" stroke="#ec6f14" stroke-width="1.8" fill="none" stroke-linejoin="round"/>
<path d="M5.0 663.9 L6.5 652.3 L8.0 654.3 L9.4 646.3 L10.9 650.9 L12.4 636.9 L13.9 633.5 L15.4 624.6 L16.8 636.4 L18.3 639.1 L19.8 644.4 L21.3 641.4 L22.8 639.6 L24.2 655.8 L25.7 662.0 L27.2 648.0 L28.7 639.3 L30.2 636.1 L31.6 636.6 L33.1 628.7 L34.6 636.8 L36.1 640.8 L37.6 646.7 L39.0 657.7 L40.5 656.3 L42.0 669.3 L43.5 663.3 L45.0 657.8 L46.4 663.7 L47.9 651.8 L49.4 644.6 L50.9 638.2 L52.4 640.5 L53.8 638.7 L55.3 641.8 L56.8 641.7 L58.3 641.5 L59.8 643.0 L61.2 639.3 L62.7 646.8 L64.2 651.7 L65.7 648.4 L67.2 651.2 L68.6 640.9 L70.1 640.2 L71.6 652.0 L73.1 648.1 L74.6 638.8 L76.0 641.2 L77.5 638.0 L79.0 627.9 L80.5 624.7 L82.0 609.9 L83.4 606.8 L84.9 603.1 L86.4 602.5 L87.9 607.6 L89.4 620.7 L90.8 618.0 L92.3 615.7 L93.8 619.8 L95.3 616.7 L96.8 606.6 L98.2 607.2 L99.7 607.4 L101.2 601.0 L102.7 606.5 L104.2 622.6 L105.6 623.4 L107.1 632.2 L108.6 620.1 L110.1 630.6 L111.6 627.0 L113.0 622.6 L114.5 628.8 L116.0 625.3 L117.5 622.5 L119.0 624.6 L120.4 619.4 L121.9 626.5 L123.4 622.0 L124.9 623.6 L126.4 626.6 L127.8 629.2 L129.3 634.1 L130.8 634.6 L132.3 633.5 L133.8 629.1 L135.2 629.5 L136.7 634.6 L138.2 634.6 L139.7 649.5 L141.2 650.7 L142.6 648.1 L144.1 657.5 L145.6 651.6 L147.1 653.3 L148.6 649.6 L150.0 661.2 L151.5 654.9 L153.0 658.4 L154.5 663.0 L156.0 651.5 L157.4 642.2 L158.9 634.5 L160.4 632.5 L161.9 625.0 L163.4 629.7 L164.8 633.0 L166.3 629.5 L167.8 631.3 L169.3 631.6 L170.8 628.8 L172.2 631.6 L173.7 626.5 L175.2 634.4 L176.7 626.1 L178.2 633.7 L179.6 636.2 L181.1 625.9 L182.6 643.0 L184.1 637.1 L185.6 632.8 L187.0 631.9 L188.5 634.5 L190.0 638.6 L191.5 646.8 L193.0 642.1 L194.4 634.1 L195.9 633.1 L197.4 640.2 L198.9 636.9 L200.4 639.6 L201.8 632.7 L203.3 634.5 L204.8 631.2 L206.3 625.4 L207.8 626.0 L209.2 636.5 L210.7 638.8 L212.2 637.0 L213.7 645.5 L215.2 649.5 L216.6 650.0 L218.1 627.1 L219.6 614.9 L221.1 629.8 L222.6 622.8 L224.0 629.8 L225.5 626.4 L227.0 634.3 L228.5 631.0 L230.0 626.7 L231.4 628.9 L232.9 642.3 L234.4 647.9 L235.9 637.5 L237.4 642.6 L238.8 643.6 L240.3 644.2 L241.8 643.5 L243.3 639.7 L244.8 647.7 L246.2 640.4 L247.7 635.5 L249.2 631.5 L250.7 635.6 L252.2 624.6 L253.6 621.7 L255.1 637.8 L256.6 642.9 L258.1 650.8 L259.6 651.2 L261.0 649.2 L262.5 650.8 L264.0 643.3 L265.5 649.1 L267.0 641.9 L268.4 643.4 L269.9 640.5 L271.4 641.4 L272.9 642.8 L274.4 643.1 L275.8 642.5 L277.3 637.7 L278.8 633.7 L280.3 628.5 L281.8 646.9 L283.2 650.3 L284.7 636.6 L286.2 640.9 L287.7 643.3 L289.2 646.2 L290.6 650.4 L292.1 650.9 L293.6 646.1 L295.1 650.2 L296.6 639.1 L298.0 639.0 L299.5 644.6 L301.0 637.7 L302.5 635.0 L304.0 631.1 L305.4 626.3 L306.9 623.4 L308.4 623.7 L309.9 634.7 L311.4 629.6 L312.8 629.0 L314.3 629.0 L315.8 636.8 L317.3 632.4 L318.8 639.9 L320.2 629.4 L321.7 641.3 L323.2 651.1 L324.7 653.2 L326.2 643.8 L327.6 642.3 L329.1 646.9 L330.6 644.3 L332.1 643.4 L333.6 653.8 L335.0 657.0 L336.5 653.7 L338.0 657.7 L339.5 664.6 L341.0 667.7 L342.4 673.6 L343.9 669.7 L345.4 667.6 L346.9 669.6 L348.4 667.0 L349.8 668.0 L351.3 657.7 L352.8 664.6 L354.3 673.3 L355.8 680.1 L357.2 666.0 L358.7 670.6 L360.2 670.7 L361.7 658.9 L363.2 656.5 L364.6 646.1 L366.1 647.4 L367.6 654.8 L369.1 651.5 L370.6 647.7 L372.0 650.0 L373.5 643.0 L375.0 641.9 L376.5 644.2 L378.0 631.0 L379.4 633.2 L380.9 631.9 L382.4 635.4 L383.9 632.2 L385.4 626.9 L386.8 647.7 L388.3 643.7 L389.8 641.1 L391.3 642.6 L392.8 651.2 L394.2 652.4 L395.7 648.6 L397.2 637.3 L398.7 650.2 L400.2 658.9 L401.6 653.7 L403.1 639.1 L404.6 641.4 L406.1 636.2 L407.6 642.9 L409.0 643.7 L410.5 634.7 L412.0 628.0 L413.5 624.0 L415.0 624.0 L416.4 627.5 L417.9 631.4 L419.4 633.3 L420.9 640.2 L422.4 638.6 L423.8 628.9 L425.3 631.1 L426.8 635.1 L428.3 643.8 L429.8 636.9 L431.2 639.2 L432.7 637.5 L434.2 640.6 L435.7 639.0 L437.2 640.4 L438.6 651.9 L440.1 646.5 L441.6 651.0 L443.1 648.2 L444.6 636.4 L446.0 635.8 L447.5 632.7 L449.0 635.0 L450.5 634.7 L452.0 636.8 L453.4 639.6 L454.9 639.1 L456.4 638.0 L457.9 640.2 L459.4 650.5 L460.8 650.6 L462.3 651.6 L463.8 654.6 L465.3 645.3 L466.8 636.3 L468.2 623.4 L469.7 626.5 L471.2 640.6 L472.7 648.0 L474.2 645.0 L475.6 644.9 L477.1 645.7 L478.6 641.8 L480.1 640.6 L481.6 640.6 L483.0 646.7 L484.5 654.4 L486.0 649.9 L487.5 654.8 L489.0 664.4 L490.4 645.5 L491.9 649.3 L493.4 637.9 L494.9 644.3 L496.4 638.6 L497.8 644.2 L499.3 629.0 L500.8 639.8 L502.3 631.7 L503.8 631.7 L505.2 631.9 L506.7 638.4 L508.2 635.9 L509.7 634.9 L511.2 629.9 L512.6 636.9 L514.1 631.5 L515.6 625.2 L517.1 624.5 L518.6 623.4 L520.0 631.9 L521.5 630.0 L523.0 633.7 L524.5 642.1 L526.0 641.9 L527.4 637.7 L528.9 643.1 L530.4 634.8 L531.9 640.3 L533.4 641.0 L534.8 649.0 L536.3 652.6 L537.8 640.7 L539.3 644.8 L540.8 650.7 L542.2 646.5 L543.7 644.0 L545.2 633.8 L546.7 637.4 L548.2 633.3 L549.6 635.1 L551.1 637.2 L552.6 635.2 L554.1 634.3 L555.6 628.8 L557.0 626.8 L558.5 646.3 L560.0 645.9 L561.5 640.2 L563.0 638.6 L564.4 638.3 L565.9 625.7 L567.4 626.8 L568.9 634.3 L570.4 646.5 L571.8 638.1 L573.3 643.7 L574.8 614.3 L576.3 610.5 L577.8 607.0 L579.2 605.5 L580.7 601.1 L582.2 610.5 L583.7 606.7 L585.2 624.2 L586.6 624.3 L588.1 621.3 L589.6 617.4 L591.1 629.3 L592.6 637.3 L594.0 638.2 L595.5 637.6 L597.0 632.5 L598.5 630.5 L600.0 631.4 L601.4 636.0 L602.9 642.6 L604.4 658.3 L605.9 665.2 L607.4 685.9 L608.8 685.2 L610.3 689.4 L611.8 688.5 L613.3 685.7 L614.8 676.4 L616.2 665.2 L617.7 666.8 L619.2 663.5 L620.7 656.5 L622.2 653.8 L623.6 654.8 L625.1 656.6 L626.6 659.2 L628.1 654.2 L629.6 651.6 L631.0 652.6 L632.5 658.6 L634.0 648.0 L635.5 651.3 L637.0 648.3 L638.4 656.6 L639.9 642.4 L641.4 645.1 L642.9 637.0 L644.4 647.3 L645.8 638.0 L647.3 638.6 L648.8 638.7 L650.3 637.2 L651.8 639.6 L653.2 642.2 L654.7 641.3 L656.2 634.3 L657.7 633.8 L659.2 638.3 L660.6 630.2 L662.1 633.3 L663.6 640.2 L665.1 642.1 L666.6 645.3 L668.0 641.2 L669.5 640.7 L671.0 643.9 L672.5 639.3 L674.0 632.7 L675.4 611.5 L676.9 625.5 L678.4 615.3 L679.9 613.4 L681.4 610.7 L682.8 610.3 L684.3 606.1 L685.8 610.7 L687.3 620.7 L688.8 617.0 L690.2 616.7 L691.7 613.9 L693.2 614.8 L694.7 613.8 L696.2 613.2 L697.6 607.4 L699.1 608.2 L700.6 602.1 L702.1 606.7 L703.6 607.3 L705.0 604.1 L706.5 614.0 L708.0 608.7 L709.5 611.8 L711.0 606.4 L712.4 620.1 L713.9 617.5 L715.4 614.4 L716.9 620.1 L718.4 610.3 L719.8 617.2 L721.3 614.4 L722.8 608.9 L724.3 622.3 L725.8 623.4 L727.2 622.7 L728.7 618.5 L730.2 623.7 L731.7 620.0 L733.2 636.2 L734.6 624.4 L736.1 629.8 L737.6 625.1 L739.1 618.7 L740.6 618.4 L742.0 624.0 L743.5 618.0 L745.0 614.1 L746.5 623.4 L748.0 616.8 L749.4 621.7 L750.9 630.6 L752.4 634.0 L753.9 635.4 L755.4 640.7 L756.8 634.0 L758.3 641.5 L759.8 636.3 L761.3 640.4 L762.8 640.6 L764.2 635.8 L765.7 640.2 L767.2 642.0 L768.7 637.0 L770.2 639.2 L771.6 644.1 L773.1 640.9 L774.6 639.8 L776.1 640.2 L777.6 640.1 L779.0 640.6 L780.5 638.4 L782.0 635.1 L783.5 641.3 L785.0 632.2 L786.4 633.1 L787.9 642.4 L789.4 637.7 L790.9 642.0 L792.4 640.3 L793.8 646.1 L795.3 648.4 L796.8 650.0 L798.3 653.7 L799.8 658.6 L801.2 645.0 L802.7 647.4 L804.2 664.9 L805.7 669.7 L807.2 676.4 L808.6 677.6 L810.1 676.2 L811.6 665.2 L813.1 668.2 L814.6 674.9 L816.0 665.0 L817.5 657.1 L819.0 649.3 L820.5 636.8 L822.0 627.3 L823.4 626.9 L824.9 609.0 L826.4 606.7 L827.9 609.3 L829.4 626.6 L830.8 631.2 L832.3 635.7 L833.8 633.1 L835.3 629.0 L836.8 631.0 L838.2 631.0 L839.7 630.9 L841.2 626.1 L842.7 629.4 L844.2 635.4 L845.6 642.6 L847.1 632.9 L848.6 634.3 L850.1 631.2 L851.6 625.8 L853.0 624.5 L854.5 630.0 L856.0 623.6 L857.5 621.1 L859.0 629.3 L860.4 636.0 L861.9 637.4 L863.4 644.8 L864.9 640.6 L866.4 649.9 L867.8 643.5 L869.3 649.0 L870.8 640.5 L872.3 640.0 L873.8 646.2 L875.2 638.0 L876.7 635.4 L878.2 628.1 L879.7 631.3 L881.2 628.4 L882.6 633.8 L884.1 631.4 L885.6 637.4 L887.1 627.5 L888.6 623.0 L890.0 617.8 L891.5 611.8 L893.0 606.7 L894.5 594.0 L896.0 590.0 L897.4 590.9 L898.9 589.6 L900.4 604.4 L901.9 603.1 L903.4 601.3 L904.8 598.8 L906.3 604.8 L907.8 606.9 L909.3 614.3 L910.8 623.1 L912.2 625.9 L913.7 633.2 L915.2 635.5 L916.7 630.2 L918.2 635.6 L919.6 634.2 L921.1 628.5 L922.6 629.9 L924.1 629.2 L925.6 631.3 L927.0 622.7 L928.5 612.7 L930.0 616.6 L931.5 611.4 L933.0 611.9 L934.4 613.0 L935.9 617.2 L937.4 621.8 L938.9 620.1 L940.4 621.5 L941.8 623.7 L943.3 621.2 L944.8 621.7 L946.3 632.6 L947.8 625.7 L949.2 626.6 L950.7 631.2 L952.2 620.9 L953.7 624.7 L955.2 628.3 L956.6 628.7 L958.1 625.9 L959.6 623.0 L961.1 631.1 L962.6 639.2 L964.0 631.5 L965.5 651.1 L967.0 639.1 L968.5 634.9 L970.0 628.1 L971.4 626.5 L972.9 624.2 L974.4 618.6 L975.9 613.3 L977.4 616.0 L978.8 609.1 L980.3 607.6 L981.8 605.9 L983.3 610.8 L984.8 608.8 L986.2 608.0 L987.7 622.1 L989.2 613.8 L990.7 622.2 L992.2 618.8 L993.6 616.0 L995.1 615.8 L996.6 608.0 L998.1 625.0 L999.6 617.1 L1001.0 642.7 L1002.5 648.8 L1004.0 655.5 L1005.5 660.4 L1007.0 651.0 L1008.4 656.2 L1009.9 657.3 L1011.4 662.8 L1012.9 659.7 L1014.4 655.6 L1015.8 648.5 L1017.3 651.4 L1018.8 657.5 L1020.3 663.6 L1021.8 664.9 L1023.2 659.4 L1024.7 662.8 L1026.2 657.4 L1027.7 660.4 L1029.2 656.6 L1030.6 659.1 L1032.1 660.3 L1033.6 659.1 L1035.1 664.6 L1036.6 661.8 L1038.0 655.2 L1039.5 655.4 L1041.0 660.3 L1042.5 662.9 L1044.0 645.5 L1045.4 655.0 L1046.9 647.2 L1048.4 649.2 L1049.9 645.8 L1051.4 644.8 L1052.8 645.6 L1054.3 651.1 L1055.8 651.7 L1057.3 652.0 L1058.8 652.3 L1060.2 649.6 L1061.7 655.3 L1063.2 652.2 L1064.7 654.1 L1066.2 664.6 L1067.6 644.1 L1069.1 640.1 L1070.6 648.6 L1072.1 636.7 L1073.6 639.2 L1075.0 632.6 L1076.5 638.3 L1078.0 633.3 L1079.5 643.1 L1081.0 645.8 L1082.4 642.9 L1083.9 636.3 L1085.4 636.6 L1086.9 636.3 L1088.4 633.8 L1089.8 642.8 L1091.3 636.3 L1092.8 649.3 L1094.3 647.5 L1095.8 649.2 L1097.2 639.3 L1098.7 634.1 L1100.2 630.7 L1101.7 638.2 L1103.2 640.5 L1104.6 635.1 L1106.1 609.4 L1107.6 622.9 L1109.1 637.8 L1110.6 629.7 L1112.0 628.9 L1113.5 632.4 L1115.0 630.2 L1116.5 629.5 L1118.0 630.2 L1119.4 634.7 L1120.9 633.3 L1122.4 636.8 L1123.9 635.3 L1125.4 635.9 L1126.8 637.3 L1128.3 639.5 L1129.8 646.7 L1131.3 641.9 L1132.8 644.3 L1134.2 636.2 L1135.7 639.5 L1137.2 637.7 L1138.7 638.8 L1140.2 635.5 L1141.6 638.9 L1143.1 640.3 L1144.6 634.3 L1146.1 634.2 L1147.6 646.1 L1149.0 644.3 L1150.5 641.4 L1152.0 644.3 L1153.5 639.0 L1155.0 645.3 L1156.4 635.9 L1157.9 639.0 L1159.4 644.9 L1160.9 648.7 L1162.4 641.3 L1163.8 647.1 L1165.3 642.4 L1166.8 641.4 L1168.3 642.1 L1169.8 639.5 L1171.2 638.1 L1172.7 631.8 L1174.2 632.5 L1175.7 634.2 L1177.2 634.3 L1178.6 640.1 L1180.1 641.4 L1181.6 630.1 L1183.1 634.8 L1184.6 633.4 L1186.0 634.7 L1187.5 640.4 L1189.0 642.4 L1190.5 642.7 L1192.0 641.3 L1193.4 642.7 L1194.9 641.6 L1196.4 649.1 L1197.9 642.7 L1199.4 638.6 L1200.8 639.5 L1202.3 655.9 L1203.8 632.4 L1205.3 636.6 L1206.8 624.8 L1208.2 619.3 L1209.7 613.5 L1211.2 609.1 L1212.7 603.2 L1214.2 595.8 L1215.6 589.8 L1217.1 591.5 L1218.6 611.3 L1220.1 616.3 L1221.6 611.5 L1223.0 624.7 L1224.5 623.1 L1226.0 618.3 L1227.5 619.6 L1229.0 632.1 L1230.4 641.0 L1231.9 636.8 L1233.4 641.7 L1234.9 647.8 L1236.4 645.9 L1237.8 654.9 L1239.3 645.5 L1240.8 649.6 L1242.3 654.4 L1243.8 652.8 L1245.2 651.5 L1246.7 660.6 L1248.2 654.2 L1249.7 646.6 L1251.2 645.4 L1252.6 643.2 L1254.1 656.5 L1255.6 655.6 L1257.1 650.4 L1258.6 652.2 L1260.0 662.8 L1261.5 664.5 L1263.0 666.6 L1264.5 668.9 L1266.0 675.2 L1267.4 662.8 L1268.9 665.0 L1270.4 665.9 L1271.9 666.6 L1273.4 666.7 L1274.8 653.7 L1276.3 657.2 L1277.8 659.8 L1279.3 656.7 L1280.8 663.1 L1282.2 663.6 L1283.7 668.9 L1285.2 664.7 L1286.7 655.8 L1288.2 646.9 L1289.6 634.2 L1291.1 643.4 L1292.6 642.0 L1294.1 635.1 L1295.6 643.5 L1297.0 634.6 L1298.5 624.2 L1300.0 614.2 L1301.5 608.9 L1303.0 608.8 L1304.4 602.5 L1305.9 603.8 L1307.4 597.0 L1308.9 595.4 L1310.4 606.9 L1311.8 613.7 L1313.3 612.0 L1314.8 615.1 L1316.3 613.4 L1317.8 626.3 L1319.2 620.9 L1320.7 631.4 L1322.2 629.8 L1323.7 644.3 L1325.2 641.7 L1326.6 641.9 L1328.1 647.5 L1329.6 644.9 L1331.1 641.6 L1332.6 642.2 L1334.0 643.3 L1335.5 644.0 L1337.0 647.4 L1338.5 641.8 L1340.0 637.6 L1341.4 641.9 L1342.9 647.6 L1344.4 649.5 L1345.9 636.1 L1347.4 641.5 L1348.8 636.6 L1350.3 629.8 L1351.8 627.7 L1353.3 618.1 L1354.8 612.2 L1356.2 612.7 L1357.7 619.4 L1359.2 628.4 L1360.7 627.8" stroke="#9c1ab4" stroke-width="1.7" fill="none" stroke-linejoin="round"/>
<path d="M5.5 759.4V758.8M6.5 759.4V757.6M7.5 759.4V756.7M9.5 759.4V755.2M10.5 759.4V754.9M12.5 759.4V753.1M13.5 759.4V751.6M15.5 759.4V749.6M28.5 759.4V758.8M30.5 759.4V757.7M31.5 759.4V756.7M33.5 759.4V754.8M52.5 759.4V757.8M53.5 759.4V755.9M55.5 759.4V755.4M56.5 759.4V755.2M58.5 759.4V755.0M61.5 759.4V755.0M68.5 759.4V758.3M70.5 759.4V757.5M74.5 759.4V758.1M76.5 759.4V757.7M77.5 759.4V756.9M79.5 759.4V754.6M80.5 759.4V752.7M81.5 759.4V747.9M83.5 759.4V744.4M84.5 759.4V741.6M86.5 759.4V740.6M96.5 759.4V751.7M98.5 759.4V751.4M101.5 759.4V750.7M160.5 759.4V757.4M161.5 759.4V754.2M163.5 759.4V753.0M166.5 759.4V752.7M173.5 759.4V754.5M176.5 759.4V755.3M181.5 759.4V756.8M185.5 759.4V758.8M187.5 759.4V758.8M203.5 759.4V758.8M204.5 759.4V758.6M206.5 759.4V757.3M207.5 759.4V756.7M219.5 759.4V756.1M221.5 759.4V755.8M222.5 759.4V754.2M225.5 759.4V754.5M229.5 759.4V756.4M250.5 759.4V758.8M252.5 759.4V756.2M253.5 759.4V754.0M275.5 759.4V758.8M277.5 759.4V758.4M278.5 759.4V757.2M280.5 759.4V755.8M284.5 759.4V758.7M298.5 759.4V758.8M301.5 759.4V758.4M302.5 759.4V757.4M303.5 759.4V756.2M305.5 759.4V754.8M306.5 759.4V753.7M308.5 759.4V753.3M320.5 759.4V758.3M364.5 759.4V757.9M366.5 759.4V755.9M369.5 759.4V755.5M370.5 759.4V754.7M372.5 759.4V754.5M373.5 759.4V753.5M375.5 759.4V752.8M377.5 759.4V751.1M379.5 759.4V750.5M380.5 759.4V750.3M385.5 759.4V751.0M406.5 759.4V758.4M410.5 759.4V757.1M412.5 759.4V754.9M413.5 759.4V752.7M414.5 759.4V751.7M423.5 759.4V757.1M447.5 759.4V758.8M449.5 759.4V758.5M450.5 759.4V758.1M468.5 759.4V758.0M469.5 759.4V757.0M496.5 759.4V758.8M499.5 759.4V757.2M502.5 759.4V756.6M503.5 759.4V756.1M505.5 759.4V756.0M511.5 759.4V757.0M514.5 759.4V757.5M515.5 759.4V756.7M517.5 759.4V756.2M518.5 759.4V756.0M548.5 759.4V758.7M549.5 759.4V758.4M551.5 759.4V758.4M552.5 759.4V758.3M554.5 759.4V758.2M555.5 759.4V757.7M557.5 759.4V757.3M565.5 759.4V758.5M567.5 759.4V757.9M574.5 759.4V756.8M576.5 759.4V754.1M577.5 759.4V752.0M579.5 759.4V750.8M580.5 759.4V749.5M623.5 759.4V757.8M625.5 759.4V756.2M626.5 759.4V755.6M628.5 759.4V754.3M629.5 759.4V753.1M631.5 759.4V752.5M634.5 759.4V752.5M636.5 759.4V752.4M639.5 759.4V752.8M641.5 759.4V752.7M642.5 759.4V751.4M645.5 759.4V752.2M647.5 759.4V752.0M656.5 759.4V754.3M657.5 759.4V754.2M660.5 759.4V754.3M672.5 759.4V758.8M673.5 759.4V758.4M675.5 759.4V754.3M676.5 759.4V753.8M678.5 759.4V751.5M679.5 759.4V750.0M681.5 759.4V748.9M682.5 759.4V748.7M684.5 759.4V748.1M697.5 759.4V757.0M700.5 759.4V756.3M710.5 759.4V758.8M722.5 759.4V758.8M743.5 759.4V758.8M745.5 759.4V757.7M747.5 759.4V757.6M786.5 759.4V758.8M820.5 759.4V757.7M821.5 759.4V754.2M823.5 759.4V752.1M824.5 759.4V747.4M826.5 759.4V744.3M827.5 759.4V743.3M841.5 759.4V757.3M851.5 759.4V758.8M853.5 759.4V758.5M856.5 759.4V758.1M857.5 759.4V757.4M878.5 759.4V758.8M879.5 759.4V758.3M881.5 759.4V757.5M884.5 759.4V757.6M887.5 759.4V757.6M888.5 759.4V756.6M890.5 759.4V755.4M891.5 759.4V753.8M893.5 759.4V752.0M894.5 759.4V747.5M895.5 759.4V743.6M897.5 759.4V742.2M898.5 759.4V741.7M931.5 759.4V758.4M932.5 759.4V757.6M934.5 759.4V757.4M972.5 759.4V758.8M974.5 759.4V757.9M975.5 759.4V756.4M977.5 759.4V755.9M978.5 759.4V754.7M980.5 759.4V754.0M981.5 759.4V753.7M996.5 759.4V758.0M999.5 759.4V758.8M1038.5 759.4V758.8M1039.5 759.4V758.3M1043.5 759.4V757.0M1046.5 759.4V756.6M1048.5 759.4V756.3M1049.5 759.4V755.8M1051.5 759.4V755.3M1052.5 759.4V755.2M1060.5 759.4V757.1M1067.5 759.4V758.5M1069.5 759.4V757.4M1072.5 759.4V756.6M1073.5 759.4V756.2M1075.5 759.4V755.3M1078.5 759.4V755.1M1083.5 759.4V757.5M1085.5 759.4V757.3M1086.5 759.4V757.2M1088.5 759.4V757.0M1091.5 759.4V757.8M1098.5 759.4V758.8M1100.5 759.4V757.9M1104.5 759.4V758.2M1106.5 759.4V753.8M1107.5 759.4V753.0M1171.5 759.4V758.8M1172.5 759.4V758.5M1174.5 759.4V758.2M1175.5 759.4V758.2M1181.5 759.4V758.5M1184.5 759.4V758.5M1205.5 759.4V758.8M1206.5 759.4V758.5M1208.5 759.4V757.7M1209.5 759.4V756.8M1211.5 759.4V756.0M1212.5 759.4V755.0M1214.5 759.4V753.7M1215.5 759.4V752.1M1217.5 759.4V751.6M1277.5 759.4V758.8M1279.5 759.4V758.7M1286.5 759.4V758.8M1288.5 759.4V757.8M1289.5 759.4V756.1M1291.5 759.4V755.8M1292.5 759.4V755.6M1294.5 759.4V755.0M1297.5 759.4V755.1M1298.5 759.4V753.9M1300.5 759.4V751.9M1301.5 759.4V750.0M1302.5 759.4V749.3M1304.5 759.4V748.2M1305.5 759.4V748.1M1307.5 759.4V747.2M1308.5 759.4V746.8M1350.5 759.4V758.8M1351.5 759.4V758.1M1353.5 759.4V756.4M1354.5 759.4V754.8M1356.5 759.4V754.0" stroke="#26a69a" stroke-width="1.3" fill="none"/>
<path d="M16.5 759.4V750.2M18.5 759.4V751.3M19.5 759.4V753.0M21.5 759.4V753.9M22.5 759.4V754.5M24.5 759.4V757.6M34.5 759.4V755.1M36.5 759.4V756.1M37.5 759.4V757.9M59.5 759.4V755.3M62.5 759.4V756.2M64.5 759.4V758.0M65.5 759.4V758.6M71.5 759.4V758.8M87.5 759.4V741.7M89.5 759.4V745.4M90.5 759.4V747.9M92.5 759.4V749.6M93.5 759.4V752.0M95.5 759.4V753.4M99.5 759.4V751.9M102.5 759.4V751.4M104.5 759.4V755.1M105.5 759.4V758.1M164.5 759.4V753.1M167.5 759.4V753.1M169.5 759.4V753.6M170.5 759.4V753.8M172.5 759.4V754.5M175.5 759.4V755.7M178.5 759.4V756.4M179.5 759.4V757.6M182.5 759.4V758.8M188.5 759.4V758.8M209.5 759.4V757.8M210.5 759.4V758.8M224.5 759.4V754.7M227.5 759.4V756.2M228.5 759.4V756.8M231.5 759.4V756.7M255.5 759.4V755.9M256.5 759.4V758.4M281.5 759.4V757.8M286.5 759.4V758.8M287.5 759.4V758.8M299.5 759.4V758.8M309.5 759.4V754.6M311.5 759.4V754.9M312.5 759.4V755.3M314.5 759.4V755.8M315.5 759.4V757.1M317.5 759.4V757.6M318.5 759.4V758.8M367.5 759.4V756.0M376.5 759.4V752.8M382.5 759.4V750.9M383.5 759.4V751.2M386.5 759.4V754.1M388.5 759.4V755.7M389.5 759.4V756.5M391.5 759.4V757.3M392.5 759.4V758.8M407.5 759.4V758.5M409.5 759.4V758.7M416.5 759.4V751.9M417.5 759.4V753.0M419.5 759.4V754.3M420.5 759.4V756.5M422.5 759.4V757.7M425.5 759.4V757.1M426.5 759.4V757.9M451.5 759.4V758.2M453.5 759.4V758.5M454.5 759.4V758.7M456.5 759.4V758.8M457.5 759.4V758.8M471.5 759.4V757.7M472.5 759.4V758.8M497.5 759.4V758.8M500.5 759.4V757.5M506.5 759.4V756.8M508.5 759.4V757.1M509.5 759.4V757.3M512.5 759.4V757.6M520.5 759.4V756.8M521.5 759.4V757.3M523.5 759.4V758.1M558.5 759.4V758.7M568.5 759.4V758.1M570.5 759.4V758.8M582.5 759.4V750.2M583.5 759.4V750.4M585.5 759.4V752.9M586.5 759.4V755.0M588.5 759.4V756.2M589.5 759.4V756.6M591.5 759.4V758.5M632.5 759.4V753.4M635.5 759.4V752.6M638.5 759.4V753.9M644.5 759.4V752.8M648.5 759.4V752.2M650.5 759.4V752.3M651.5 759.4V753.0M653.5 759.4V754.0M654.5 759.4V754.7M659.5 759.4V754.9M662.5 759.4V754.6M663.5 759.4V755.9M665.5 759.4V757.1M666.5 759.4V758.4M668.5 759.4V758.8M669.5 759.4V758.8M685.5 759.4V749.0M687.5 759.4V751.5M688.5 759.4V752.8M690.5 759.4V754.1M691.5 759.4V754.8M693.5 759.4V755.7M694.5 759.4V756.5M696.5 759.4V757.3M699.5 759.4V757.2M702.5 759.4V756.6M703.5 759.4V757.2M705.5 759.4V757.2M706.5 759.4V758.5M708.5 759.4V758.6M709.5 759.4V758.8M746.5 759.4V758.4M749.5 759.4V758.1M829.5 759.4V745.8M830.5 759.4V748.7M832.5 759.4V751.8M833.5 759.4V753.7M835.5 759.4V754.6M836.5 759.4V755.6M838.5 759.4V756.6M839.5 759.4V757.4M842.5 759.4V757.8M844.5 759.4V758.8M854.5 759.4V758.8M858.5 759.4V758.0M860.5 759.4V758.8M882.5 759.4V757.7M885.5 759.4V758.3M900.5 759.4V744.3M901.5 759.4V746.4M903.5 759.4V748.2M904.5 759.4V749.3M906.5 759.4V751.5M907.5 759.4V753.9M909.5 759.4V756.9M935.5 759.4V758.0M937.5 759.4V758.8M983.5 759.4V754.2M984.5 759.4V754.6M986.5 759.4V755.1M987.5 759.4V756.9M989.5 759.4V757.0M990.5 759.4V758.1M992.5 759.4V758.6M993.5 759.4V758.6M995.5 759.4V758.8M998.5 759.4V758.8M1041.5 759.4V758.4M1042.5 759.4V758.7M1045.5 759.4V757.3M1054.5 759.4V755.9M1055.5 759.4V756.5M1057.5 759.4V756.9M1058.5 759.4V757.1M1061.5 759.4V757.7M1063.5 759.4V757.8M1064.5 759.4V758.1M1070.5 759.4V757.8M1076.5 759.4V755.5M1079.5 759.4V756.2M1080.5 759.4V757.4M1082.5 759.4V757.9M1089.5 759.4V757.8M1092.5 759.4V758.8M1101.5 759.4V758.1M1103.5 759.4V758.5M1109.5 759.4V755.1M1110.5 759.4V755.2M1112.5 759.4V755.2M1113.5 759.4V756.1M1115.5 759.4V756.5M1116.5 759.4V756.8M1117.5 759.4V757.3M1119.5 759.4V758.4M1120.5 759.4V758.8M1177.5 759.4V758.2M1178.5 759.4V758.5M1180.5 759.4V758.8M1183.5 759.4V758.6M1186.5 759.4V758.6M1187.5 759.4V758.8M1189.5 759.4V758.8M1218.5 759.4V752.8M1220.5 759.4V754.3M1221.5 759.4V755.0M1223.5 759.4V756.7M1224.5 759.4V757.8M1226.5 759.4V758.2M1227.5 759.4V758.7M1280.5 759.4V758.8M1282.5 759.4V758.8M1295.5 759.4V755.5M1310.5 759.4V748.3M1311.5 759.4V750.5M1313.5 759.4V752.2M1314.5 759.4V754.1M1316.5 759.4V755.5M1317.5 759.4V757.8M1319.5 759.4V758.8M1357.5 759.4V754.3M1359.5 759.4V755.5M1360.5 759.4V756.4" stroke="#b2dfdb" stroke-width="1.3" fill="none"/>
<path d="M25.5 759.4V760.9M27.5 759.4V760.9M39.5 759.4V761.5M40.5 759.4V763.3M42.5 759.4V768.0M43.5 759.4V769.5M46.5 759.4V769.7M67.5 759.4V760.0M73.5 759.4V760.0M107.5 759.4V761.9M110.5 759.4V763.4M111.5 759.4V763.8M114.5 759.4V763.6M121.5 759.4V761.4M124.5 759.4V760.8M126.5 759.4V761.6M127.5 759.4V762.6M129.5 759.4V764.1M130.5 759.4V765.2M132.5 759.4V765.5M136.5 759.4V764.7M138.5 759.4V764.8M139.5 759.4V767.1M141.5 759.4V768.5M142.5 759.4V768.7M144.5 759.4V770.1M150.5 759.4V769.3M154.5 759.4V768.8M184.5 759.4V760.0M190.5 759.4V760.0M191.5 759.4V761.9M192.5 759.4V762.3M197.5 759.4V760.7M200.5 759.4V760.7M212.5 759.4V760.0M213.5 759.4V761.0M215.5 759.4V762.5M216.5 759.4V763.4M232.5 759.4V760.0M234.5 759.4V763.0M237.5 759.4V763.8M238.5 759.4V764.4M240.5 759.4V764.8M244.5 759.4V764.4M258.5 759.4V762.0M259.5 759.4V764.3M261.5 759.4V765.1M262.5 759.4V765.7M265.5 759.4V764.6M283.5 759.4V760.0M289.5 759.4V760.1M290.5 759.4V761.3M292.5 759.4V762.0M295.5 759.4V761.9M321.5 759.4V760.0M323.5 759.4V762.1M324.5 759.4V763.9M329.5 759.4V763.1M333.5 759.4V763.2M335.5 759.4V764.2M338.5 759.4V764.5M339.5 759.4V765.8M340.5 759.4V766.8M342.5 759.4V768.4M343.5 759.4V768.4M354.5 759.4V763.6M355.5 759.4V766.1M358.5 759.4V765.9M394.5 759.4V760.7M395.5 759.4V761.0M398.5 759.4V760.8M400.5 759.4V763.3M401.5 759.4V763.8M428.5 759.4V760.0M429.5 759.4V760.0M431.5 759.4V760.4M432.5 759.4V760.4M434.5 759.4V760.8M435.5 759.4V760.9M437.5 759.4V761.0M438.5 759.4V762.7M440.5 759.4V762.9M441.5 759.4V763.6M459.5 759.4V760.3M460.5 759.4V761.0M462.5 759.4V761.4M463.5 759.4V761.9M474.5 759.4V760.0M475.5 759.4V760.1M477.5 759.4V760.3M483.5 759.4V760.0M484.5 759.4V760.7M486.5 759.4V760.9M487.5 759.4V761.4M488.5 759.4V762.7M524.5 759.4V760.0M525.5 759.4V760.4M527.5 759.4V760.6M528.5 759.4V761.2M531.5 759.4V760.9M533.5 759.4V761.1M534.5 759.4V761.9M536.5 759.4V762.7M540.5 759.4V762.3M560.5 759.4V760.0M561.5 759.4V760.0M571.5 759.4V760.0M573.5 759.4V760.0M592.5 759.4V760.9M594.5 759.4V762.7M595.5 759.4V763.7M601.5 759.4V763.1M602.5 759.4V764.0M604.5 759.4V766.7M605.5 759.4V769.4M607.5 759.4V778.5M608.5 759.4V783.0M610.5 759.4V787.4M611.5 759.4V788.5M671.5 759.4V760.0M712.5 759.4V760.2M713.5 759.4V760.8M715.5 759.4V760.8M716.5 759.4V761.5M719.5 759.4V760.4M724.5 759.4V760.0M725.5 759.4V761.0M727.5 759.4V761.7M730.5 759.4V762.0M733.5 759.4V763.7M736.5 759.4V763.2M742.5 759.4V760.0M750.5 759.4V760.0M752.5 759.4V761.7M753.5 759.4V763.1M755.5 759.4V764.7M758.5 759.4V765.6M761.5 759.4V765.4M771.5 759.4V763.3M783.5 759.4V760.2M787.5 759.4V760.0M790.5 759.4V760.0M792.5 759.4V760.0M793.5 759.4V760.4M795.5 759.4V760.9M796.5 759.4V761.2M798.5 759.4V761.7M799.5 759.4V762.4M804.5 759.4V763.0M805.5 759.4V764.7M807.5 759.4V766.8M808.5 759.4V767.9M810.5 759.4V768.0M814.5 759.4V766.2M845.5 759.4V760.8M848.5 759.4V760.7M861.5 759.4V760.3M863.5 759.4V761.9M864.5 759.4V762.4M866.5 759.4V763.8M867.5 759.4V763.8M869.5 759.4V764.4M873.5 759.4V762.9M910.5 759.4V760.3M912.5 759.4V763.1M913.5 759.4V765.9M915.5 759.4V768.0M916.5 759.4V768.4M918.5 759.4V769.2M919.5 759.4V769.2M938.5 759.4V760.0M940.5 759.4V760.2M941.5 759.4V760.9M943.5 759.4V761.2M944.5 759.4V761.4M946.5 759.4V762.5M949.5 759.4V762.4M950.5 759.4V762.8M955.5 759.4V761.6M956.5 759.4V761.7M961.5 759.4V761.4M962.5 759.4V762.2M965.5 759.4V763.8M1001.5 759.4V762.0M1002.5 759.4V765.1M1004.5 759.4V768.3M1005.5 759.4V771.0M1008.5 759.4V771.4M1009.5 759.4V771.4M1011.5 759.4V772.1M1020.5 759.4V766.4M1021.5 759.4V766.8M1035.5 759.4V760.7M1066.5 759.4V760.0M1094.5 759.4V760.1M1095.5 759.4V760.8M1122.5 759.4V760.0M1123.5 759.4V760.3M1125.5 759.4V760.6M1126.5 759.4V761.0M1128.5 759.4V761.5M1129.5 759.4V762.5M1131.5 759.4V762.6M1132.5 759.4V762.8M1143.5 759.4V760.3M1147.5 759.4V760.2M1149.5 759.4V760.6M1152.5 759.4V760.6M1154.5 759.4V760.5M1159.5 759.4V760.0M1160.5 759.4V760.5M1163.5 759.4V760.5M1190.5 759.4V760.0M1191.5 759.4V760.0M1193.5 759.4V760.0M1194.5 759.4V760.0M1196.5 759.4V760.0M1202.5 759.4V760.2M1228.5 759.4V760.1M1230.5 759.4V761.8M1231.5 759.4V762.5M1233.5 759.4V763.3M1234.5 759.4V764.3M1236.5 759.4V764.6M1237.5 759.4V765.5M1242.5 759.4V765.2M1246.5 759.4V764.9M1254.5 759.4V761.7M1255.5 759.4V761.8M1260.5 759.4V762.0M1261.5 759.4V762.6M1263.5 759.4V763.0M1264.5 759.4V763.3M1265.5 759.4V764.2M1283.5 759.4V760.0M1320.5 759.4V760.7M1322.5 759.4V761.8M1323.5 759.4V764.3M1325.5 759.4V765.5M1326.5 759.4V766.1M1328.5 759.4V766.9M1342.5 759.4V762.3M1344.5 759.4V762.4" stroke="#ef5350" stroke-width="1.3" fill="none"/>
<path d="M44.5 759.4V768.9M47.5 759.4V767.4M49.5 759.4V764.0M50.5 759.4V760.0M108.5 759.4V761.4M113.5 759.4V762.8M116.5 759.4V763.2M117.5 759.4V762.3M118.5 759.4V762.2M120.5 759.4V760.8M123.5 759.4V760.8M133.5 759.4V764.9M135.5 759.4V764.4M145.5 759.4V769.8M147.5 759.4V769.4M148.5 759.4V768.2M151.5 759.4V768.6M153.5 759.4V768.4M155.5 759.4V767.0M157.5 759.4V763.9M158.5 759.4V760.3M194.5 759.4V761.2M195.5 759.4V760.2M198.5 759.4V760.4M201.5 759.4V760.0M218.5 759.4V760.6M235.5 759.4V762.8M241.5 759.4V764.6M243.5 759.4V763.6M246.5 759.4V763.3M247.5 759.4V761.5M249.5 759.4V760.0M264.5 759.4V764.4M266.5 759.4V763.1M268.5 759.4V762.2M269.5 759.4V760.9M271.5 759.4V760.2M272.5 759.4V760.0M274.5 759.4V760.0M293.5 759.4V761.6M296.5 759.4V760.3M326.5 759.4V763.6M327.5 759.4V763.0M330.5 759.4V762.7M332.5 759.4V762.1M336.5 759.4V764.2M345.5 759.4V767.7M346.5 759.4V767.0M348.5 759.4V765.8M349.5 759.4V764.7M351.5 759.4V762.7M352.5 759.4V762.2M357.5 759.4V765.5M360.5 759.4V765.5M361.5 759.4V763.3M363.5 759.4V761.1M397.5 759.4V760.0M403.5 759.4V761.5M404.5 759.4V760.3M443.5 759.4V763.5M444.5 759.4V761.7M446.5 759.4V760.4M465.5 759.4V761.4M466.5 759.4V760.2M478.5 759.4V760.0M480.5 759.4V760.0M481.5 759.4V760.0M490.5 759.4V761.8M491.5 759.4V761.5M493.5 759.4V760.1M494.5 759.4V760.0M530.5 759.4V760.7M537.5 759.4V762.0M539.5 759.4V761.9M542.5 759.4V762.1M543.5 759.4V761.5M545.5 759.4V760.1M546.5 759.4V760.0M562.5 759.4V760.0M564.5 759.4V760.0M597.5 759.4V763.5M598.5 759.4V763.1M599.5 759.4V762.9M613.5 759.4V787.1M614.5 759.4V783.3M616.5 759.4V777.7M617.5 759.4V773.4M619.5 759.4V769.2M620.5 759.4V764.5M622.5 759.4V760.5M718.5 759.4V760.3M721.5 759.4V760.1M728.5 759.4V761.5M731.5 759.4V761.8M734.5 759.4V762.9M737.5 759.4V762.4M739.5 759.4V760.7M740.5 759.4V760.0M756.5 759.4V764.6M759.5 759.4V765.2M762.5 759.4V765.4M764.5 759.4V764.5M765.5 759.4V764.3M767.5 759.4V764.3M768.5 759.4V763.5M770.5 759.4V763.0M773.5 759.4V762.9M774.5 759.4V762.4M776.5 759.4V762.0M777.5 759.4V761.6M779.5 759.4V761.3M780.5 759.4V760.8M782.5 759.4V760.1M784.5 759.4V760.0M789.5 759.4V760.0M801.5 759.4V761.7M802.5 759.4V761.3M811.5 759.4V766.7M813.5 759.4V765.8M816.5 759.4V765.1M817.5 759.4V763.2M819.5 759.4V760.9M847.5 759.4V760.6M850.5 759.4V760.3M870.5 759.4V763.6M872.5 759.4V762.8M875.5 759.4V761.9M876.5 759.4V760.8M921.5 759.4V768.1M922.5 759.4V767.4M924.5 759.4V766.6M925.5 759.4V766.2M927.5 759.4V764.5M928.5 759.4V761.6M930.5 759.4V760.2M947.5 759.4V762.4M952.5 759.4V761.8M953.5 759.4V761.5M958.5 759.4V761.5M959.5 759.4V761.1M964.5 759.4V762.0M967.5 759.4V763.5M968.5 759.4V762.7M969.5 759.4V761.3M971.5 759.4V760.2M1006.5 759.4V770.9M1012.5 759.4V771.5M1014.5 759.4V769.9M1015.5 759.4V767.3M1017.5 759.4V765.8M1018.5 759.4V765.6M1023.5 759.4V765.9M1024.5 759.4V765.5M1026.5 759.4V764.2M1027.5 759.4V763.5M1029.5 759.4V762.3M1030.5 759.4V761.6M1032.5 759.4V761.1M1033.5 759.4V760.4M1036.5 759.4V760.3M1097.5 759.4V760.1M1134.5 759.4V761.9M1135.5 759.4V761.6M1137.5 759.4V761.2M1138.5 759.4V760.9M1140.5 759.4V760.4M1141.5 759.4V760.3M1144.5 759.4V760.0M1146.5 759.4V760.0M1150.5 759.4V760.5M1153.5 759.4V760.2M1156.5 759.4V760.0M1157.5 759.4V760.0M1162.5 759.4V760.2M1165.5 759.4V760.2M1166.5 759.4V760.0M1168.5 759.4V760.0M1169.5 759.4V760.0M1197.5 759.4V760.0M1199.5 759.4V760.0M1200.5 759.4V760.0M1203.5 759.4V760.0M1239.5 759.4V765.1M1240.5 759.4V765.0M1243.5 759.4V765.0M1245.5 759.4V764.4M1248.5 759.4V764.4M1249.5 759.4V763.2M1251.5 759.4V762.1M1252.5 759.4V761.1M1257.5 759.4V761.4M1258.5 759.4V761.1M1267.5 759.4V763.6M1268.5 759.4V763.2M1270.5 759.4V762.8M1271.5 759.4V762.3M1273.5 759.4V761.7M1274.5 759.4V760.3M1276.5 759.4V760.0M1285.5 759.4V760.0M1329.5 759.4V766.9M1331.5 759.4V766.3M1332.5 759.4V765.7M1334.5 759.4V765.2M1335.5 759.4V764.7M1337.5 759.4V764.5M1338.5 759.4V763.7M1339.5 759.4V762.6M1341.5 759.4V762.2M1345.5 759.4V761.2M1347.5 759.4V760.9M1348.5 759.4V760.1" stroke="#ffcdd2" stroke-width="1.3" fill="none"/>
<path d="M5.0 786.9 L6.5 784.7 L8.0 783.1 L9.4 780.6 L10.9 779.1 L12.4 775.7 L13.9 772.3 L15.4 767.9 L16.8 766.1 L18.3 765.2 L19.8 765.3 L21.3 764.9 L22.8 764.2 L24.2 766.8 L25.7 770.5 L27.2 770.9 L28.7 769.3 L30.2 767.2 L31.6 765.6 L33.1 762.6 L34.6 761.7 L36.1 761.9 L37.6 763.3 L39.0 767.4 L40.5 770.3 L42.0 777.1 L43.5 781.1 L45.0 782.9 L46.4 786.3 L47.9 786.0 L49.4 783.7 L50.9 779.9 L52.4 777.3 L53.8 774.6 L55.3 773.1 L56.8 771.7 L58.3 770.5 L59.8 769.8 L61.2 768.3 L62.7 768.7 L64.2 770.2 L65.7 770.6 L67.2 771.4 L68.6 770.1 L70.1 768.8 L71.6 770.3 L73.1 770.7 L74.6 769.0 L76.0 768.1 L77.5 766.7 L79.0 763.2 L80.5 759.6 L82.0 752.0 L83.4 744.8 L84.9 737.5 L86.4 731.8 L87.9 728.5 L89.4 728.7 L90.8 728.4 L92.3 727.6 L93.8 728.2 L95.3 728.0 L96.8 724.4 L98.2 722.0 L99.7 720.7 L101.2 717.3 L102.7 716.0 L104.2 718.6 L105.6 721.2 L107.1 725.7 L108.6 725.7 L110.1 728.7 L111.6 730.1 L113.0 730.1 L114.5 731.9 L116.0 732.4 L117.5 732.2 L119.0 732.8 L120.4 731.8 L121.9 733.0 L123.4 732.7 L124.9 733.1 L126.4 734.3 L127.8 736.1 L129.3 738.9 L130.8 741.4 L132.3 743.3 L133.8 744.0 L135.2 744.8 L136.7 746.4 L138.2 747.9 L139.7 752.1 L141.2 755.7 L142.6 758.2 L144.1 762.3 L145.6 764.6 L147.1 766.7 L148.6 767.7 L150.0 771.3 L151.5 772.9 L153.0 775.0 L154.5 777.7 L156.0 777.8 L157.4 775.9 L158.9 772.4 L160.4 769.1 L161.9 764.5 L163.4 761.8 L164.8 760.3 L166.3 758.2 L167.8 757.0 L169.3 756.1 L170.8 754.9 L172.2 754.4 L173.7 753.1 L175.2 753.4 L176.7 752.0 L178.2 752.3 L179.6 753.1 L181.1 751.6 L182.6 754.0 L184.1 754.6 L185.6 754.1 L187.0 753.6 L188.5 753.7 L190.0 754.7 L191.5 757.3 L193.0 758.4 L194.4 757.7 L195.9 757.0 L197.4 757.8 L198.9 757.8 L200.4 758.3 L201.8 757.4 L203.3 757.0 L204.8 756.1 L206.3 754.3 L207.8 753.0 L209.2 753.7 L210.7 754.7 L212.2 755.2 L213.7 757.2 L215.2 759.5 L216.6 761.4 L218.1 758.8 L219.6 753.5 L221.1 752.3 L222.6 749.4 L224.0 748.7 L225.5 747.3 L227.0 748.2 L228.5 748.1 L230.0 746.9 L231.4 746.6 L232.9 749.7 L234.4 753.9 L235.9 754.6 L237.4 756.6 L238.8 758.5 L240.3 760.2 L241.8 761.4 L243.3 761.4 L244.8 763.4 L246.2 763.3 L247.7 762.1 L249.2 760.1 L250.7 759.4 L252.2 755.9 L253.6 752.4 L255.1 753.3 L256.6 755.6 L258.1 759.9 L259.6 763.4 L261.0 765.6 L262.5 767.8 L264.0 767.7 L265.5 769.2 L267.0 768.6 L268.4 768.4 L269.9 767.6 L271.4 767.0 L272.9 766.8 L274.4 766.6 L275.8 766.2 L277.3 765.0 L278.8 763.4 L280.3 761.0 L281.8 762.6 L283.2 764.6 L284.7 763.4 L286.2 763.4 L287.7 763.8 L289.2 764.8 L290.6 766.4 L292.1 767.8 L293.6 768.0 L295.1 768.8 L296.6 767.5 L298.0 766.4 L299.5 766.5 L301.0 765.3 L302.5 763.8 L304.0 761.8 L305.4 759.3 L306.9 756.7 L308.4 754.8 L309.9 754.9 L311.4 754.1 L312.8 753.5 L314.3 753.0 L315.8 753.8 L317.3 753.8 L318.8 754.9 L320.2 754.2 L321.7 755.5 L323.2 758.6 L324.7 761.5 L326.2 762.3 L327.6 762.6 L329.1 763.7 L330.6 764.0 L332.1 764.2 L333.6 766.2 L335.0 768.4 L336.5 769.6 L338.0 771.2 L339.5 774.0 L341.0 776.9 L342.4 780.8 L343.9 783.1 L345.4 784.4 L346.9 785.6 L348.4 786.0 L349.8 786.3 L351.3 785.0 L352.8 785.3 L354.3 787.7 L355.8 791.9 L357.2 792.8 L358.7 794.8 L360.2 796.0 L361.7 794.7 L363.2 792.9 L364.6 789.3 L366.1 786.5 L367.6 785.7 L369.1 784.3 L370.6 782.3 L372.0 780.9 L373.5 778.4 L375.0 776.0 L376.5 774.4 L378.0 770.6 L379.4 767.9 L380.9 765.4 L382.4 763.9 L383.9 762.1 L385.4 759.7 L386.8 761.6 L388.3 762.3 L389.8 762.3 L391.3 762.6 L392.8 764.6 L394.2 766.3 L395.7 767.1 L397.2 765.7 L398.7 767.2 L400.2 770.6 L401.6 772.3 L403.1 770.5 L404.6 769.5 L406.1 767.4 L407.6 767.3 L409.0 767.2 L410.5 765.1 L412.0 761.8 L413.5 758.0 L415.0 755.0 L416.4 753.4 L417.9 752.8 L419.4 752.9 L420.9 754.3 L422.4 755.2 L423.8 753.9 L425.3 753.4 L426.8 753.7 L428.3 755.7 L429.8 756.0 L431.2 756.7 L432.7 757.0 L434.2 757.8 L435.7 758.2 L437.2 758.7 L438.6 761.2 L440.1 762.4 L441.6 764.1 L443.1 765.0 L444.6 763.8 L446.0 762.7 L447.5 761.3 L449.0 760.5 L450.5 759.8 L452.0 759.6 L453.4 759.7 L454.9 759.8 L456.4 759.7 L457.9 759.9 L459.4 761.3 L460.8 762.4 L462.3 763.3 L463.8 764.4 L465.3 764.4 L466.8 763.4 L468.2 760.9 L469.7 759.2 L471.2 759.6 L472.7 760.9 L474.2 761.6 L475.6 762.1 L477.1 762.5 L478.6 762.4 L480.1 762.2 L481.6 762.0 L483.0 762.5 L484.5 763.7 L486.0 764.2 L487.5 765.2 L489.0 767.4 L490.4 767.1 L491.9 767.3 L493.4 766.0 L494.9 765.8 L496.4 764.9 L497.8 764.9 L499.3 762.5 L500.8 762.3 L502.3 760.7 L503.8 759.4 L505.2 758.4 L506.7 758.6 L508.2 758.3 L509.7 758.0 L511.2 757.1 L512.6 757.2 L514.1 756.6 L515.6 755.1 L517.1 753.9 L518.6 752.8 L520.0 753.0 L521.5 752.9 L523.0 753.4 L524.5 754.8 L526.0 756.0 L527.4 756.5 L528.9 757.5 L530.4 757.4 L531.9 758.0 L533.4 758.5 L534.8 760.0 L536.3 761.6 L537.8 761.5 L539.3 762.0 L540.8 763.2 L542.2 763.6 L543.7 763.6 L545.2 762.4 L546.7 761.8 L548.2 760.9 L549.6 760.3 L551.1 760.0 L552.6 759.6 L554.1 759.2 L555.6 758.3 L557.0 757.4 L558.5 758.6 L560.0 759.6 L561.5 759.8 L563.0 759.7 L564.4 759.7 L565.9 758.4 L567.4 757.4 L568.9 757.3 L570.4 758.6 L571.8 758.7 L573.3 759.4 L574.8 755.5 L576.3 751.5 L577.8 747.6 L579.2 744.2 L580.7 740.5 L582.2 738.8 L583.7 736.7 L585.2 737.7 L586.6 738.7 L588.1 739.1 L589.6 738.8 L591.1 740.4 L592.6 743.3 L594.0 745.8 L595.5 747.9 L597.0 748.8 L598.5 749.3 L600.0 749.9 L601.4 751.1 L602.9 753.1 L604.4 757.6 L605.9 762.9 L607.4 776.7 L608.8 787.1 L610.3 798.5 L611.8 806.9 L613.3 812.4 L614.8 814.6 L616.2 813.5 L617.7 812.8 L619.2 811.0 L620.7 807.6 L622.2 803.9 L623.6 800.8 L625.1 798.4 L626.6 796.8 L628.1 794.3 L629.6 791.5 L631.0 789.2 L632.5 788.5 L634.0 785.9 L635.5 784.4 L637.0 782.3 L638.4 782.5 L639.9 779.8 L641.4 778.0 L642.9 774.8 L644.4 774.5 L645.8 772.0 L647.3 770.1 L648.8 768.4 L650.3 766.8 L651.8 765.8 L653.2 765.5 L654.7 765.1 L656.2 763.4 L657.7 762.0 L659.2 761.5 L660.6 759.7 L662.1 758.8 L663.6 759.2 L665.1 759.8 L666.6 760.9 L668.0 761.1 L669.5 761.2 L671.0 761.7 L672.5 761.5 L674.0 760.3 L675.4 755.0 L676.9 753.0 L678.4 748.7 L679.9 744.9 L681.4 741.2 L682.8 738.3 L684.3 735.0 L685.8 733.2 L687.3 733.7 L688.8 733.4 L690.2 733.3 L691.7 732.9 L693.2 732.9 L694.7 733.0 L696.2 733.2 L697.6 732.3 L699.1 731.9 L700.6 730.3 L702.1 729.8 L703.6 729.9 L705.0 729.4 L706.5 730.5 L708.0 730.4 L709.5 731.0 L711.0 730.4 L712.4 732.0 L713.9 732.9 L715.4 733.3 L716.9 734.6 L718.4 733.5 L719.8 733.9 L721.3 733.8 L722.8 732.6 L724.3 733.7 L725.8 735.1 L727.2 736.4 L728.7 736.7 L730.2 737.9 L731.7 738.3 L733.2 741.3 L734.6 741.4 L736.1 742.5 L737.6 742.6 L739.1 741.2 L740.6 740.2 L742.0 740.5 L743.5 739.5 L745.0 737.8 L746.5 738.2 L748.0 737.0 L749.4 737.1 L750.9 739.1 L752.4 741.4 L753.9 743.7 L755.4 746.8 L756.8 748.0 L758.3 750.5 L759.8 751.6 L761.3 753.3 L762.8 754.7 L764.2 755.1 L765.7 756.2 L767.2 757.4 L768.7 757.5 L770.2 758.0 L771.6 759.2 L773.1 759.7 L774.6 760.0 L776.1 760.2 L777.6 760.3 L779.0 760.5 L780.5 760.4 L782.0 759.9 L783.5 760.2 L785.0 759.4 L786.4 758.8 L787.9 759.4 L789.4 759.4 L790.9 759.8 L792.4 760.0 L793.8 760.8 L795.3 761.6 L796.8 762.5 L798.3 763.5 L799.8 764.9 L801.2 764.8 L802.7 764.9 L804.2 767.5 L805.7 770.5 L807.2 774.4 L808.6 777.7 L810.1 779.9 L811.6 780.4 L813.1 781.2 L814.6 783.2 L816.0 783.5 L817.5 782.6 L819.0 780.7 L820.5 777.1 L822.0 772.3 L823.4 768.4 L824.9 760.6 L826.4 753.7 L827.9 748.8 L829.4 747.8 L830.8 748.0 L832.3 749.3 L833.8 749.8 L835.3 749.4 L836.8 749.5 L838.2 749.8 L839.7 750.0 L841.2 749.5 L842.7 749.6 L844.2 750.7 L845.6 752.8 L847.1 752.9 L848.6 753.3 L850.1 753.1 L851.6 752.1 L853.0 751.1 L854.5 751.2 L856.0 750.2 L857.5 749.0 L859.0 749.3 L860.4 750.6 L861.9 751.8 L863.4 754.0 L864.9 755.3 L866.4 757.8 L867.8 758.9 L869.3 760.7 L870.8 760.9 L872.3 761.0 L873.8 762.0 L875.2 761.6 L876.7 760.8 L878.2 759.0 L879.7 758.0 L881.2 756.7 L882.6 756.5 L884.1 756.0 L885.6 756.4 L887.1 755.2 L888.6 753.6 L890.0 751.3 L891.5 748.3 L893.0 744.7 L894.5 737.2 L896.0 729.3 L897.4 723.6 L898.9 718.8 L900.4 717.5 L901.9 716.4 L903.4 715.4 L904.8 714.0 L906.3 714.2 L907.8 715.2 L909.3 717.6 L910.8 721.2 L912.2 724.9 L913.7 729.4 L915.2 733.7 L916.7 736.3 L918.2 739.5 L919.6 742.0 L921.1 743.1 L922.6 744.4 L924.1 745.4 L925.6 746.6 L927.0 746.3 L928.5 743.9 L930.0 742.7 L931.5 740.7 L933.0 739.4 L934.4 738.7 L935.9 738.9 L937.4 739.8 L938.9 740.4 L940.4 741.3 L941.8 742.4 L943.3 743.1 L944.8 743.8 L946.3 745.7 L947.8 746.3 L949.2 747.1 L950.7 748.3 L952.2 748.0 L953.7 748.2 L955.2 748.9 L956.6 749.5 L958.1 749.9 L959.6 749.9 L961.1 750.7 L962.6 752.2 L964.0 752.6 L965.5 755.5 L967.0 756.3 L968.5 756.3 L970.0 755.4 L971.4 754.4 L972.9 753.3 L974.4 751.6 L975.9 749.4 L977.4 748.0 L978.8 745.7 L980.3 743.7 L981.8 741.9 L983.3 741.1 L984.8 740.3 L986.2 739.8 L987.7 740.9 L989.2 740.5 L990.7 741.2 L992.2 741.5 L993.6 741.3 L995.1 741.4 L996.6 740.2 L998.1 741.2 L999.6 740.7 L1001.0 744.6 L1002.5 749.2 L1004.0 754.5 L1005.5 760.2 L1007.0 762.9 L1008.4 766.5 L1009.9 769.5 L1011.4 773.4 L1012.9 775.8 L1014.4 776.8 L1015.8 776.2 L1017.3 776.3 L1018.8 777.6 L1020.3 780.2 L1021.8 782.5 L1023.2 783.1 L1024.7 784.3 L1026.2 784.2 L1027.7 784.6 L1029.2 784.0 L1030.6 783.9 L1032.1 783.9 L1033.6 783.4 L1035.1 784.0 L1036.6 783.9 L1038.0 782.7 L1039.5 781.6 L1041.0 781.4 L1042.5 781.5 L1044.0 779.2 L1045.4 779.0 L1046.9 777.5 L1048.4 776.5 L1049.9 775.1 L1051.4 773.6 L1052.8 772.4 L1054.3 772.3 L1055.8 772.1 L1057.3 771.8 L1058.8 771.6 L1060.2 770.9 L1061.7 771.1 L1063.2 770.8 L1064.7 770.8 L1066.2 772.2 L1067.6 771.0 L1069.1 769.4 L1070.6 769.3 L1072.1 767.5 L1073.6 766.3 L1075.0 764.3 L1076.5 763.5 L1078.0 762.1 L1079.5 762.4 L1081.0 763.1 L1082.4 763.2 L1083.9 762.3 L1085.4 761.6 L1086.9 761.0 L1088.4 760.1 L1089.8 760.6 L1091.3 760.1 L1092.8 761.7 L1094.3 762.7 L1095.8 763.6 L1097.2 763.1 L1098.7 761.9 L1100.2 760.5 L1101.7 760.3 L1103.2 760.4 L1104.6 759.8 L1106.1 754.0 L1107.6 751.6 L1109.1 752.7 L1110.6 751.7 L1112.0 750.7 L1113.5 750.8 L1115.0 750.4 L1116.5 750.1 L1118.0 750.0 L1119.4 750.9 L1120.9 751.3 L1122.4 752.4 L1123.9 753.0 L1125.4 753.7 L1126.8 754.5 L1128.3 755.4 L1129.8 757.2 L1131.3 758.1 L1132.8 759.1 L1134.2 758.9 L1135.7 759.2 L1137.2 759.2 L1138.7 759.3 L1140.2 759.0 L1141.6 759.1 L1143.1 759.4 L1144.6 759.0 L1146.1 758.7 L1147.6 759.7 L1149.0 760.2 L1150.5 760.4 L1152.0 760.9 L1153.5 760.7 L1155.0 761.2 L1156.4 760.7 L1157.9 760.6 L1159.4 761.1 L1160.9 761.8 L1162.4 761.8 L1163.8 762.3 L1165.3 762.2 L1166.8 762.1 L1168.3 762.0 L1169.8 761.7 L1171.2 761.3 L1172.7 760.5 L1174.2 759.9 L1175.7 759.5 L1177.2 759.3 L1178.6 759.4 L1180.1 759.6 L1181.6 759.0 L1183.1 758.8 L1184.6 758.6 L1186.0 758.5 L1187.5 758.8 L1189.0 759.1 L1190.5 759.4 L1192.0 759.6 L1193.4 759.8 L1194.9 759.9 L1196.4 760.3 L1197.9 760.4 L1199.4 760.2 L1200.8 760.2 L1202.3 760.9 L1203.8 760.3 L1205.3 760.1 L1206.8 759.0 L1208.2 757.8 L1209.7 756.2 L1211.2 754.6 L1212.7 752.5 L1214.2 749.8 L1215.6 746.3 L1217.1 743.9 L1218.6 743.4 L1220.1 743.7 L1221.6 743.3 L1223.0 744.3 L1224.5 745.0 L1226.0 745.1 L1227.5 745.5 L1229.0 747.0 L1230.4 749.3 L1231.9 750.7 L1233.4 752.5 L1234.9 754.7 L1236.4 756.3 L1237.8 758.7 L1239.3 759.8 L1240.8 761.1 L1242.3 762.8 L1243.8 763.9 L1245.2 764.6 L1246.7 766.4 L1248.2 767.2 L1249.7 766.9 L1251.2 766.6 L1252.6 766.0 L1254.1 767.1 L1255.6 767.9 L1257.1 767.9 L1258.6 768.0 L1260.0 769.6 L1261.5 771.0 L1263.0 772.3 L1264.5 773.6 L1266.0 775.7 L1267.4 776.1 L1268.9 776.7 L1270.4 777.1 L1271.9 777.3 L1273.4 777.3 L1274.8 776.1 L1276.3 775.4 L1277.8 775.0 L1279.3 774.3 L1280.8 774.5 L1282.2 774.5 L1283.7 775.1 L1285.2 775.1 L1286.7 774.4 L1288.2 772.8 L1289.6 770.3 L1291.1 769.1 L1292.6 768.0 L1294.1 766.3 L1295.6 765.8 L1297.0 764.3 L1298.5 761.7 L1300.0 757.8 L1301.5 753.6 L1303.0 750.4 L1304.4 746.4 L1305.9 743.6 L1307.4 739.5 L1308.9 736.1 L1310.4 734.8 L1311.8 734.8 L1313.3 734.7 L1314.8 735.2 L1316.3 735.6 L1317.8 737.6 L1319.2 738.4 L1320.7 740.7 L1322.2 742.4 L1323.7 746.1 L1325.2 748.8 L1326.6 751.0 L1328.1 753.8 L1329.6 755.7 L1331.1 756.7 L1332.6 757.7 L1334.0 758.6 L1335.5 759.5 L1337.0 760.5 L1338.5 760.8 L1340.0 760.5 L1341.4 760.8 L1342.9 761.6 L1344.4 762.5 L1345.9 761.7 L1347.4 761.8 L1348.8 761.2 L1350.3 760.0 L1351.8 758.7 L1353.3 756.4 L1354.8 753.5 L1356.2 751.4 L1357.7 750.4 L1359.2 750.7 L1360.7 750.9" stroke="#2196f3" stroke-width="1.8" fill="none" stroke-linejoin="round"/>
<path d="M5.0 786.9 L6.5 786.5 L8.0 785.8 L9.4 784.8 L10.9 783.6 L12.4 782.1 L13.9 780.1 L15.4 777.7 L16.8 775.4 L18.3 773.3 L19.8 771.7 L21.3 770.3 L22.8 769.1 L24.2 768.7 L25.7 769.0 L27.2 769.4 L28.7 769.4 L30.2 768.9 L31.6 768.3 L33.1 767.1 L34.6 766.0 L36.1 765.2 L37.6 764.8 L39.0 765.3 L40.5 766.3 L42.0 768.5 L43.5 771.0 L45.0 773.4 L46.4 776.0 L47.9 778.0 L49.4 779.1 L50.9 779.3 L52.4 778.9 L53.8 778.0 L55.3 777.0 L56.8 776.0 L58.3 774.9 L59.8 773.9 L61.2 772.8 L62.7 772.0 L64.2 771.6 L65.7 771.4 L67.2 771.4 L68.6 771.1 L70.1 770.7 L71.6 770.6 L73.1 770.6 L74.6 770.3 L76.0 769.9 L77.5 769.2 L79.0 768.0 L80.5 766.3 L82.0 763.5 L83.4 759.7 L84.9 755.3 L86.4 750.6 L87.9 746.2 L89.4 742.7 L90.8 739.8 L92.3 737.4 L93.8 735.5 L95.3 734.0 L96.8 732.1 L98.2 730.1 L99.7 728.2 L101.2 726.0 L102.7 724.0 L104.2 722.9 L105.6 722.6 L107.1 723.2 L108.6 723.7 L110.1 724.7 L111.6 725.8 L113.0 726.6 L114.5 727.7 L116.0 728.6 L117.5 729.4 L119.0 730.1 L120.4 730.4 L121.9 730.9 L123.4 731.3 L124.9 731.6 L126.4 732.2 L127.8 733.0 L129.3 734.1 L130.8 735.6 L132.3 737.1 L133.8 738.5 L135.2 739.7 L136.7 741.1 L138.2 742.4 L139.7 744.4 L141.2 746.6 L142.6 748.9 L144.1 751.6 L145.6 754.2 L147.1 756.7 L148.6 758.9 L150.0 761.4 L151.5 763.7 L153.0 766.0 L154.5 768.3 L156.0 770.2 L157.4 771.3 L158.9 771.6 L160.4 771.1 L161.9 769.8 L163.4 768.2 L164.8 766.6 L166.3 764.9 L167.8 763.3 L169.3 761.9 L170.8 760.5 L172.2 759.3 L173.7 758.0 L175.2 757.1 L176.7 756.1 L178.2 755.3 L179.6 754.9 L181.1 754.2 L182.6 754.2 L184.1 754.3 L185.6 754.2 L187.0 754.1 L188.5 754.0 L190.0 754.2 L191.5 754.8 L193.0 755.5 L194.4 756.0 L195.9 756.2 L197.4 756.5 L198.9 756.7 L200.4 757.0 L201.8 757.1 L203.3 757.1 L204.8 756.9 L206.3 756.4 L207.8 755.7 L209.2 755.3 L210.7 755.2 L212.2 755.2 L213.7 755.6 L215.2 756.4 L216.6 757.4 L218.1 757.7 L219.6 756.8 L221.1 755.9 L222.6 754.6 L224.0 753.4 L225.5 752.2 L227.0 751.4 L228.5 750.7 L230.0 750.0 L231.4 749.3 L232.9 749.4 L234.4 750.3 L235.9 751.2 L237.4 752.3 L238.8 753.5 L240.3 754.9 L241.8 756.2 L243.3 757.2 L244.8 758.4 L246.2 759.4 L247.7 759.9 L249.2 760.0 L250.7 759.8 L252.2 759.1 L253.6 757.7 L255.1 756.8 L256.6 756.6 L258.1 757.3 L259.6 758.5 L261.0 759.9 L262.5 761.5 L264.0 762.7 L265.5 764.0 L267.0 764.9 L268.4 765.6 L269.9 766.0 L271.4 766.2 L272.9 766.3 L274.4 766.4 L275.8 766.3 L277.3 766.1 L278.8 765.5 L280.3 764.6 L281.8 764.2 L283.2 764.3 L284.7 764.1 L286.2 764.0 L287.7 763.9 L289.2 764.1 L290.6 764.6 L292.1 765.2 L293.6 765.8 L295.1 766.4 L296.6 766.6 L298.0 766.6 L299.5 766.6 L301.0 766.3 L302.5 765.8 L304.0 765.0 L305.4 763.8 L306.9 762.4 L308.4 760.9 L309.9 759.7 L311.4 758.6 L312.8 757.6 L314.3 756.6 L315.8 756.1 L317.3 755.6 L318.8 755.5 L320.2 755.2 L321.7 755.3 L323.2 755.9 L324.7 757.1 L326.2 758.1 L327.6 759.0 L329.1 759.9 L330.6 760.8 L332.1 761.4 L333.6 762.4 L335.0 763.6 L336.5 764.8 L338.0 766.1 L339.5 767.7 L341.0 769.5 L342.4 771.8 L343.9 774.0 L345.4 776.1 L346.9 778.0 L348.4 779.6 L349.8 780.9 L351.3 781.7 L352.8 782.5 L354.3 783.5 L355.8 785.2 L357.2 786.7 L358.7 788.3 L360.2 789.9 L361.7 790.8 L363.2 791.3 L364.6 790.9 L366.1 790.0 L367.6 789.1 L369.1 788.2 L370.6 787.0 L372.0 785.8 L373.5 784.3 L375.0 782.6 L376.5 781.0 L378.0 778.9 L379.4 776.7 L380.9 774.4 L382.4 772.3 L383.9 770.3 L385.4 768.2 L386.8 766.9 L388.3 765.9 L389.8 765.2 L391.3 764.7 L392.8 764.7 L394.2 765.0 L395.7 765.4 L397.2 765.5 L398.7 765.8 L400.2 766.8 L401.6 767.9 L403.1 768.4 L404.6 768.6 L406.1 768.4 L407.6 768.2 L409.0 768.0 L410.5 767.4 L412.0 766.3 L413.5 764.6 L415.0 762.7 L416.4 760.8 L417.9 759.2 L419.4 758.0 L420.9 757.2 L422.4 756.8 L423.8 756.2 L425.3 755.7 L426.8 755.3 L428.3 755.4 L429.8 755.5 L431.2 755.7 L432.7 756.0 L434.2 756.4 L435.7 756.7 L437.2 757.1 L438.6 757.9 L440.1 758.8 L441.6 759.9 L443.1 760.9 L444.6 761.5 L446.0 761.7 L447.5 761.7 L449.0 761.4 L450.5 761.1 L452.0 760.8 L453.4 760.6 L454.9 760.4 L456.4 760.3 L457.9 760.2 L459.4 760.4 L460.8 760.8 L462.3 761.3 L463.8 761.9 L465.3 762.4 L466.8 762.6 L468.2 762.3 L469.7 761.7 L471.2 761.2 L472.7 761.2 L474.2 761.3 L475.6 761.4 L477.1 761.6 L478.6 761.8 L480.1 761.9 L481.6 761.9 L483.0 762.0 L484.5 762.4 L486.0 762.7 L487.5 763.2 L489.0 764.1 L490.4 764.7 L491.9 765.2 L493.4 765.4 L494.9 765.5 L496.4 765.3 L497.8 765.2 L499.3 764.7 L500.8 764.2 L502.3 763.5 L503.8 762.7 L505.2 761.8 L506.7 761.2 L508.2 760.6 L509.7 760.1 L511.2 759.5 L512.6 759.0 L514.1 758.5 L515.6 757.9 L517.1 757.1 L518.6 756.2 L520.0 755.6 L521.5 755.0 L523.0 754.7 L524.5 754.7 L526.0 755.0 L527.4 755.3 L528.9 755.7 L530.4 756.1 L531.9 756.5 L533.4 756.9 L534.8 757.5 L536.3 758.3 L537.8 758.9 L539.3 759.6 L540.8 760.3 L542.2 761.0 L543.7 761.5 L545.2 761.7 L546.7 761.7 L548.2 761.5 L549.6 761.3 L551.1 761.0 L552.6 760.8 L554.1 760.4 L555.6 760.0 L557.0 759.5 L558.5 759.3 L560.0 759.4 L561.5 759.5 L563.0 759.5 L564.4 759.5 L565.9 759.3 L567.4 758.9 L568.9 758.6 L570.4 758.6 L571.8 758.6 L573.3 758.8 L574.8 758.1 L576.3 756.8 L577.8 755.0 L579.2 752.8 L580.7 750.4 L582.2 748.1 L583.7 745.8 L585.2 744.2 L586.6 743.1 L588.1 742.3 L589.6 741.6 L591.1 741.3 L592.6 741.7 L594.0 742.5 L595.5 743.6 L597.0 744.6 L598.5 745.6 L600.0 746.4 L601.4 747.4 L602.9 748.5 L604.4 750.3 L605.9 752.8 L607.4 757.6 L608.8 763.5 L610.3 770.5 L611.8 777.8 L613.3 784.7 L614.8 790.7 L616.2 795.3 L617.7 798.8 L619.2 801.2 L620.7 802.5 L622.2 802.8 L623.6 802.4 L625.1 801.6 L626.6 800.6 L628.1 799.4 L629.6 797.8 L631.0 796.1 L632.5 794.6 L634.0 792.8 L635.5 791.1 L637.0 789.4 L638.4 788.0 L639.9 786.4 L641.4 784.7 L642.9 782.7 L644.4 781.1 L645.8 779.3 L647.3 777.4 L648.8 775.6 L650.3 773.9 L651.8 772.2 L653.2 770.9 L654.7 769.7 L656.2 768.5 L657.7 767.2 L659.2 766.0 L660.6 764.8 L662.1 763.6 L663.6 762.7 L665.1 762.1 L666.6 761.9 L668.0 761.7 L669.5 761.6 L671.0 761.6 L672.5 761.6 L674.0 761.3 L675.4 760.1 L676.9 758.7 L678.4 756.7 L679.9 754.3 L681.4 751.7 L682.8 749.0 L684.3 746.2 L685.8 743.6 L687.3 741.6 L688.8 740.0 L690.2 738.6 L691.7 737.5 L693.2 736.6 L694.7 735.9 L696.2 735.3 L697.6 734.7 L699.1 734.2 L700.6 733.4 L702.1 732.7 L703.6 732.1 L705.0 731.6 L706.5 731.4 L708.0 731.2 L709.5 731.1 L711.0 731.0 L712.4 731.2 L713.9 731.5 L715.4 731.9 L716.9 732.4 L718.4 732.6 L719.8 732.9 L721.3 733.1 L722.8 733.0 L724.3 733.1 L725.8 733.5 L727.2 734.1 L728.7 734.6 L730.2 735.3 L731.7 735.9 L733.2 737.0 L734.6 737.8 L736.1 738.8 L737.6 739.5 L739.1 739.9 L740.6 739.9 L742.0 740.0 L743.5 739.9 L745.0 739.5 L746.5 739.3 L748.0 738.8 L749.4 738.5 L750.9 738.6 L752.4 739.2 L753.9 740.1 L755.4 741.4 L756.8 742.7 L758.3 744.3 L759.8 745.7 L761.3 747.2 L762.8 748.7 L764.2 750.0 L765.7 751.2 L767.2 752.5 L768.7 753.5 L770.2 754.4 L771.6 755.4 L773.1 756.2 L774.6 757.0 L776.1 757.6 L777.6 758.2 L779.0 758.6 L780.5 759.0 L782.0 759.2 L783.5 759.4 L785.0 759.4 L786.4 759.3 L787.9 759.3 L789.4 759.3 L790.9 759.4 L792.4 759.5 L793.8 759.8 L795.3 760.1 L796.8 760.6 L798.3 761.2 L799.8 761.9 L801.2 762.5 L802.7 763.0 L804.2 763.9 L805.7 765.2 L807.2 767.0 L808.6 769.2 L810.1 771.3 L811.6 773.1 L813.1 774.7 L814.6 776.4 L816.0 777.9 L817.5 778.8 L819.0 779.2 L820.5 778.8 L822.0 777.5 L823.4 775.7 L824.9 772.6 L826.4 768.9 L827.9 764.8 L829.4 761.4 L830.8 758.7 L832.3 756.8 L833.8 755.4 L835.3 754.2 L836.8 753.3 L838.2 752.6 L839.7 752.1 L841.2 751.5 L842.7 751.2 L844.2 751.1 L845.6 751.4 L847.1 751.7 L848.6 752.0 L850.1 752.2 L851.6 752.2 L853.0 752.0 L854.5 751.8 L856.0 751.5 L857.5 751.0 L859.0 750.7 L860.4 750.6 L861.9 750.9 L863.4 751.5 L864.9 752.3 L866.4 753.4 L867.8 754.5 L869.3 755.7 L870.8 756.8 L872.3 757.6 L873.8 758.5 L875.2 759.1 L876.7 759.4 L878.2 759.3 L879.7 759.1 L881.2 758.6 L882.6 758.2 L884.1 757.7 L885.6 757.5 L887.1 757.0 L888.6 756.3 L890.0 755.3 L891.5 753.9 L893.0 752.1 L894.5 749.1 L896.0 745.1 L897.4 740.8 L898.9 736.4 L900.4 732.6 L901.9 729.4 L903.4 726.6 L904.8 724.1 L906.3 722.1 L907.8 720.7 L909.3 720.1 L910.8 720.3 L912.2 721.2 L913.7 722.9 L915.2 725.0 L916.7 727.3 L918.2 729.7 L919.6 732.2 L921.1 734.4 L922.6 736.4 L924.1 738.2 L925.6 739.9 L927.0 741.1 L928.5 741.7 L930.0 741.9 L931.5 741.6 L933.0 741.2 L934.4 740.7 L935.9 740.3 L937.4 740.2 L938.9 740.3 L940.4 740.5 L941.8 740.9 L943.3 741.3 L944.8 741.8 L946.3 742.6 L947.8 743.3 L949.2 744.1 L950.7 744.9 L952.2 745.5 L953.7 746.1 L955.2 746.6 L956.6 747.2 L958.1 747.7 L959.6 748.2 L961.1 748.7 L962.6 749.4 L964.0 750.0 L965.5 751.1 L967.0 752.1 L968.5 753.0 L970.0 753.4 L971.4 753.6 L972.9 753.6 L974.4 753.2 L975.9 752.4 L977.4 751.6 L978.8 750.4 L980.3 749.0 L981.8 747.6 L983.3 746.3 L984.8 745.1 L986.2 744.0 L987.7 743.4 L989.2 742.8 L990.7 742.5 L992.2 742.3 L993.6 742.1 L995.1 742.0 L996.6 741.6 L998.1 741.5 L999.6 741.4 L1001.0 742.0 L1002.5 743.5 L1004.0 745.7 L1005.5 748.6 L1007.0 751.4 L1008.4 754.5 L1009.9 757.5 L1011.4 760.6 L1012.9 763.7 L1014.4 766.3 L1015.8 768.3 L1017.3 769.9 L1018.8 771.4 L1020.3 773.2 L1021.8 775.0 L1023.2 776.7 L1024.7 778.2 L1026.2 779.4 L1027.7 780.4 L1029.2 781.1 L1030.6 781.7 L1032.1 782.1 L1033.6 782.4 L1035.1 782.7 L1036.6 783.0 L1038.0 782.9 L1039.5 782.6 L1041.0 782.4 L1042.5 782.2 L1044.0 781.6 L1045.4 781.1 L1046.9 780.4 L1048.4 779.6 L1049.9 778.7 L1051.4 777.7 L1052.8 776.6 L1054.3 775.8 L1055.8 775.0 L1057.3 774.4 L1058.8 773.8 L1060.2 773.2 L1061.7 772.8 L1063.2 772.4 L1064.7 772.1 L1066.2 772.1 L1067.6 771.9 L1069.1 771.4 L1070.6 771.0 L1072.1 770.3 L1073.6 769.5 L1075.0 768.5 L1076.5 767.5 L1078.0 766.4 L1079.5 765.6 L1081.0 765.1 L1082.4 764.7 L1083.9 764.3 L1085.4 763.7 L1086.9 763.2 L1088.4 762.6 L1089.8 762.2 L1091.3 761.8 L1092.8 761.8 L1094.3 761.9 L1095.8 762.3 L1097.2 762.4 L1098.7 762.3 L1100.2 762.0 L1101.7 761.6 L1103.2 761.4 L1104.6 761.1 L1106.1 759.7 L1107.6 758.1 L1109.1 757.0 L1110.6 755.9 L1112.0 754.9 L1113.5 754.1 L1115.0 753.3 L1116.5 752.7 L1118.0 752.2 L1119.4 751.9 L1120.9 751.8 L1122.4 751.9 L1123.9 752.1 L1125.4 752.4 L1126.8 752.8 L1128.3 753.4 L1129.8 754.1 L1131.3 754.9 L1132.8 755.8 L1134.2 756.4 L1135.7 757.0 L1137.2 757.4 L1138.7 757.8 L1140.2 758.0 L1141.6 758.2 L1143.1 758.5 L1144.6 758.6 L1146.1 758.6 L1147.6 758.8 L1149.0 759.1 L1150.5 759.4 L1152.0 759.7 L1153.5 759.9 L1155.0 760.1 L1156.4 760.3 L1157.9 760.3 L1159.4 760.5 L1160.9 760.7 L1162.4 760.9 L1163.8 761.2 L1165.3 761.4 L1166.8 761.6 L1168.3 761.6 L1169.8 761.7 L1171.2 761.6 L1172.7 761.4 L1174.2 761.1 L1175.7 760.8 L1177.2 760.5 L1178.6 760.3 L1180.1 760.1 L1181.6 759.9 L1183.1 759.7 L1184.6 759.5 L1186.0 759.3 L1187.5 759.2 L1189.0 759.2 L1190.5 759.2 L1192.0 759.3 L1193.4 759.4 L1194.9 759.5 L1196.4 759.6 L1197.9 759.8 L1199.4 759.9 L1200.8 759.9 L1202.3 760.1 L1203.8 760.2 L1205.3 760.2 L1206.8 759.9 L1208.2 759.5 L1209.7 758.8 L1211.2 758.0 L1212.7 756.9 L1214.2 755.5 L1215.6 753.6 L1217.1 751.7 L1218.6 750.0 L1220.1 748.8 L1221.6 747.7 L1223.0 747.0 L1224.5 746.6 L1226.0 746.3 L1227.5 746.1 L1229.0 746.3 L1230.4 746.9 L1231.9 747.7 L1233.4 748.6 L1234.9 749.8 L1236.4 751.1 L1237.8 752.7 L1239.3 754.1 L1240.8 755.5 L1242.3 756.9 L1243.8 758.3 L1245.2 759.6 L1246.7 761.0 L1248.2 762.2 L1249.7 763.1 L1251.2 763.8 L1252.6 764.3 L1254.1 764.8 L1255.6 765.4 L1257.1 765.9 L1258.6 766.4 L1260.0 767.0 L1261.5 767.8 L1263.0 768.7 L1264.5 769.7 L1266.0 770.9 L1267.4 771.9 L1268.9 772.9 L1270.4 773.7 L1271.9 774.4 L1273.4 775.0 L1274.8 775.2 L1276.3 775.3 L1277.8 775.2 L1279.3 775.0 L1280.8 774.9 L1282.2 774.8 L1283.7 774.9 L1285.2 774.9 L1286.7 774.8 L1288.2 774.4 L1289.6 773.6 L1291.1 772.7 L1292.6 771.8 L1294.1 770.7 L1295.6 769.7 L1297.0 768.6 L1298.5 767.2 L1300.0 765.3 L1301.5 763.0 L1303.0 760.5 L1304.4 757.7 L1305.9 754.8 L1307.4 751.8 L1308.9 748.6 L1310.4 745.9 L1311.8 743.6 L1313.3 741.9 L1314.8 740.5 L1316.3 739.5 L1317.8 739.1 L1319.2 739.0 L1320.7 739.3 L1322.2 739.9 L1323.7 741.2 L1325.2 742.7 L1326.6 744.4 L1328.1 746.2 L1329.6 748.1 L1331.1 749.8 L1332.6 751.4 L1334.0 752.9 L1335.5 754.2 L1337.0 755.5 L1338.5 756.5 L1340.0 757.3 L1341.4 758.0 L1342.9 758.7 L1344.4 759.5 L1345.9 759.9 L1347.4 760.3 L1348.8 760.5 L1350.3 760.4 L1351.8 760.0 L1353.3 759.3 L1354.8 758.2 L1356.2 756.8 L1357.7 755.5 L1359.2 754.6 L1360.7 753.8" stroke="#ec6f14" stroke-width="1.8" fill="none" stroke-linejoin="round"/>
<rect x="1544" y="30" width="76" height="797" fill="#131722"/>
<rect x="4" y="828" width="1616" height="36" fill="#131722"/>
<path d="M3 29.5H1622" stroke="#7d7d7d" stroke-width="1.3" fill="none"/>
<path d="M4 30V866" stroke="#54565c" stroke-width="1.8" fill="none"/>
<rect x="1620" y="30" width="2" height="836" fill="#4e5055"/>
<rect x="3" y="864" width="1619" height="2" fill="#4b4d52"/>
<path d="M4 447.5H1620M4 574.5H1620M4 700.5H1620M4 827H1620M1543.5 30V864" stroke="#63646b" stroke-width="1.7" fill="none"/>
<path d="M1543 99.5H1549M1543 180.5H1549M1543 261.5H1549M1543 343.5H1549M1543 424.5H1549M1543 481.5H1549M1543 523.5H1549M1543 566.5H1549M1543 593.5H1549M1543 653.5H1549M1543 759.5H1549M1543 818.5H1549M140.8 827V831.6M283.0 827V831.6M390.4 827V831.6M496.5 827V831.6M639.8 827V831.6M747.2 827V831.6M853.5 827V831.6M996.6 827V831.6M1103.0 827V831.6M1210.5 827V831.6M1353.5 827V831.6M1460.0 827V831.6" stroke="#6e7079" stroke-width="1" fill="none"/>
<text x="1554.5" y="106.1" font-size="15.6" font-weight="normal" fill="#cfd0d4" stroke="#cfd0d4" stroke-width="0.35" textLength="55.6" lengthAdjust="spacingAndGlyphs">108.000</text><text x="1554.5" y="187.1" font-size="15.6" font-weight="normal" fill="#cfd0d4" stroke="#cfd0d4" stroke-width="0.35" textLength="55.6" lengthAdjust="spacingAndGlyphs">107.500</text><text x="1554.5" y="268.1" font-size="15.6" font-weight="normal" fill="#cfd0d4" stroke="#cfd0d4" stroke-width="0.35" textLength="55.6" lengthAdjust="spacingAndGlyphs">107.000</text><text x="1554.5" y="350.1" font-size="15.6" font-weight="normal" fill="#cfd0d4" stroke="#cfd0d4" stroke-width="0.35" textLength="55.6" lengthAdjust="spacingAndGlyphs">106.500</text><text x="1554.5" y="431.1" font-size="15.6" font-weight="normal" fill="#cfd0d4" stroke="#cfd0d4" stroke-width="0.35" textLength="55.6" lengthAdjust="spacingAndGlyphs">106.000</text><text x="1553.3" y="488.1" font-size="15.6" font-weight="normal" fill="#cfd0d4" stroke="#cfd0d4" stroke-width="0.35" textLength="39.8" lengthAdjust="spacingAndGlyphs">80.00</text><text x="1553.3" y="530.1" font-size="15.6" font-weight="normal" fill="#cfd0d4" stroke="#cfd0d4" stroke-width="0.35" textLength="39.8" lengthAdjust="spacingAndGlyphs">40.00</text><text x="1553.3" y="573.1" font-size="15.6" fill="#cfd0d4">0.00</text><text x="1553.3" y="600.1" font-size="15.6" font-weight="normal" fill="#cfd0d4" stroke="#cfd0d4" stroke-width="0.35" textLength="39.8" lengthAdjust="spacingAndGlyphs">80.00</text><text x="1553.3" y="660.1" font-size="15.6" font-weight="normal" fill="#cfd0d4" stroke="#cfd0d4" stroke-width="0.35" textLength="39.8" lengthAdjust="spacingAndGlyphs">40.00</text><text x="1553.3" y="766.1" font-size="15.6" font-weight="normal" fill="#cfd0d4" stroke="#cfd0d4" stroke-width="0.35" textLength="39.8" lengthAdjust="spacingAndGlyphs">0.000</text><text x="1553.3" y="825.1" font-size="15.6" font-weight="normal" fill="#cfd0d4" stroke="#cfd0d4" stroke-width="0.35" textLength="48.3" lengthAdjust="spacingAndGlyphs">−0.200</text>
<text x="140.8" y="852.9" font-size="16" fill="#cfd0d4" stroke="#cfd0d4" stroke-width="0.35" text-anchor="middle">15</text><text x="283.0" y="852.9" font-size="16" fill="#cfd0d4" stroke="#cfd0d4" stroke-width="0.35" text-anchor="middle">17</text><text x="390.4" y="852.9" font-size="16" fill="#cfd0d4" stroke="#cfd0d4" stroke-width="0.35" text-anchor="middle">12:00</text><text x="496.5" y="852.9" font-size="16" fill="#cfd0d4" stroke="#cfd0d4" stroke-width="0.35" text-anchor="middle">22</text><text x="639.8" y="852.9" font-size="16" fill="#cfd0d4" stroke="#cfd0d4" stroke-width="0.35" text-anchor="middle">24</text><text x="747.2" y="852.9" font-size="16" fill="#cfd0d4" stroke="#cfd0d4" stroke-width="0.35" text-anchor="middle">12:00</text><text x="853.5" y="852.9" font-size="16" fill="#cfd0d4" stroke="#cfd0d4" stroke-width="0.35" text-anchor="middle">29</text><text x="996.6" y="852.9" font-size="16" font-weight="bold" fill="#cfd0d4" stroke="#cfd0d4" stroke-width="0" text-anchor="middle">Jul</text><text x="1103.0" y="852.9" font-size="16" fill="#cfd0d4" stroke="#cfd0d4" stroke-width="0.35" text-anchor="middle">12:00</text><text x="1210.5" y="852.9" font-size="16" fill="#cfd0d4" stroke="#cfd0d4" stroke-width="0.35" text-anchor="middle">6</text><text x="1353.5" y="852.9" font-size="16" fill="#cfd0d4" stroke="#cfd0d4" stroke-width="0.35" text-anchor="middle">8</text><text x="1460.0" y="852.9" font-size="16" fill="#cfd0d4" stroke="#cfd0d4" stroke-width="0.35" text-anchor="middle">12:00</text>
<rect x="1542.5" y="60.4" width="78.5" height="22.2" fill="#00ff00"/>
<path d="M1542.5 71.5H1548.5M1542.5 128.5H1548.5" stroke="#0a2a0a" stroke-width="1"/>
<text x="1554.5" y="76.1" font-size="15.6" font-weight="normal" fill="#0c1a0c" stroke="#0c1a0c" stroke-width="0.35" textLength="55.0" lengthAdjust="spacingAndGlyphs">108.165</text>
<rect x="1542.5" y="117.4" width="78.5" height="22.4" fill="#00ff00"/>
<text x="1554.5" y="133.2" font-size="15.6" font-weight="normal" fill="#0c1a0c" stroke="#0c1a0c" stroke-width="0.35" textLength="55.0" lengthAdjust="spacingAndGlyphs">107.818</text>
<rect x="1472" y="148.2" width="69.2" height="21.8" fill="#ef5350"/>
<text x="1482.1" y="163.7" font-size="15.6" font-weight="normal" fill="#ffffff" stroke="#ffffff" stroke-width="0.35" textLength="53.6" lengthAdjust="spacingAndGlyphs">USDJPY</text>
<rect x="1542.5" y="148.2" width="78.5" height="21.8" fill="#ef5350"/>
<path d="M1543 159.5H1548" stroke="#ffffff" stroke-width="1"/>
<text x="1554.7" y="163.7" font-size="15.6" font-weight="normal" fill="#ffffff" stroke="#ffffff" stroke-width="0.35" textLength="55.3" lengthAdjust="spacingAndGlyphs">107.629</text>
<rect x="1542.5" y="300.9" width="78.5" height="21.6" fill="#ff0000"/>
<text x="1554.7" y="317.2" font-size="15.6" font-weight="normal" fill="#ffffff" stroke="#ffffff" stroke-width="0.35" textLength="55.3" lengthAdjust="spacingAndGlyphs">106.692</text>
<rect x="1542.5" y="402" width="78.5" height="21.7" fill="#ff0000"/>
<text x="1554.7" y="418.3" font-size="15.6" font-weight="normal" fill="#ffffff" stroke="#ffffff" stroke-width="0.35" textLength="55.3" lengthAdjust="spacingAndGlyphs">106.074</text>
<path d="M1543 311.5H1548M1543 412.5H1548" stroke="#ffffff" stroke-width="1"/>
<rect x="1505.8" y="455.9" width="35.8" height="21.8" fill="#ff6d00"/>
<text x="1515.3" y="471.5" font-size="15.6" font-weight="normal" fill="#ffffff" stroke="#ffffff" stroke-width="0.35" textLength="20.3" lengthAdjust="spacingAndGlyphs">%D</text>
<rect x="1505.8" y="480" width="35.8" height="21.6" fill="#2979ff"/>
<text x="1515.3" y="495.8" font-size="15.6" font-weight="normal" fill="#e6dcff" stroke="#e6dcff" stroke-width="0.35" textLength="20.3" lengthAdjust="spacingAndGlyphs">%K</text>
<rect x="1503.5" y="618" width="38" height="22" fill="#9c1ab0"/>
<text x="1513.7" y="633.5" font-size="15.6" font-weight="normal" fill="#f0e6ff" stroke="#f0e6ff" stroke-width="0.35" textLength="21.6" lengthAdjust="spacingAndGlyphs">RSI</text>
<rect x="1484.8" y="701" width="56.8" height="19" fill="#0496ff"/>
<text x="1494.3" y="714.0" font-size="15.6" font-weight="normal" fill="#ffffff" stroke="#ffffff" stroke-width="0.35" textLength="40.9" lengthAdjust="spacingAndGlyphs">MACD</text>
<rect x="1483.6" y="722.2" width="58" height="21.8" fill="#ff6d00"/>
<text x="1493.8" y="737.5" font-size="15.6" font-weight="normal" fill="#ffffff" stroke="#ffffff" stroke-width="0.35" textLength="41.3" lengthAdjust="spacingAndGlyphs">Signal</text>
<rect x="1453" y="745.3" width="88.6" height="22.2" fill="#b2dfdb"/>
<text x="1463.3" y="761.3" font-size="15.6" font-weight="normal" fill="#1a1e28" stroke="#1a1e28" stroke-width="0.35" textLength="71.7" lengthAdjust="spacingAndGlyphs">Histogram</text>
<text x="3.4" y="16.8" font-size="15.6" font-weight="bold" fill="#f0f0f0" stroke="#f0f0f0" stroke-width="0" textLength="113.7" lengthAdjust="spacingAndGlyphs">FX:USDJPY, 30</text>
<text x="123.6" y="16.8" font-size="15.6" font-weight="normal" fill="#e4e4e4" stroke="#e4e4e4" stroke-width="0.35" textLength="61.9" lengthAdjust="spacingAndGlyphs">107.629</text>
<path d="M189.7 15.8L196.2 3.9L202.6 15.8Z" fill="#26a69a"/>
<text x="207.9" y="16.8" font-size="15.6" font-weight="normal" fill="#d8d8d8" stroke="#d8d8d8" stroke-width="0.35" textLength="124.1" lengthAdjust="spacingAndGlyphs">+0.113 (+0.11%)</text>
<text x="336.9" y="16.8" font-size="15.6" font-weight="bold" fill="#f0f0f0" stroke="#f0f0f0" stroke-width="0" textLength="18.3" lengthAdjust="spacingAndGlyphs">O:</text><text x="356.4" y="16.8" font-size="15.6" font-weight="normal" fill="#26a69a" stroke="#26a69a" stroke-width="0.35" textLength="61.4" lengthAdjust="spacingAndGlyphs">107.642</text>
<text x="422.7" y="16.8" font-size="15.6" font-weight="bold" fill="#f0f0f0" stroke="#f0f0f0" stroke-width="0" textLength="17.4" lengthAdjust="spacingAndGlyphs">H:</text><text x="441.8" y="16.8" font-size="15.6" font-weight="normal" fill="#26a69a" stroke="#26a69a" stroke-width="0.35" textLength="61.5" lengthAdjust="spacingAndGlyphs">107.646</text>
<text x="508.3" y="16.8" font-size="15.6" font-weight="bold" fill="#f0f0f0" stroke="#f0f0f0" stroke-width="0" textLength="13.8" lengthAdjust="spacingAndGlyphs">L:</text><text x="523.7" y="16.8" font-size="15.6" font-weight="normal" fill="#26a69a" stroke="#26a69a" stroke-width="0.35" textLength="61.7" lengthAdjust="spacingAndGlyphs">107.627</text>
<text x="590.3" y="16.8" font-size="15.6" font-weight="bold" fill="#f0f0f0" stroke="#f0f0f0" stroke-width="0" textLength="15.8" lengthAdjust="spacingAndGlyphs">C:</text><text x="607.6" y="16.8" font-size="15.6" font-weight="normal" fill="#26a69a" stroke="#26a69a" stroke-width="0.35" textLength="62.4" lengthAdjust="spacingAndGlyphs">107.629</text>
<circle cx="35.5" cy="796" r="20.5" fill="#2a2d3a"/>
<path d="M23 803.5C20 803.5 20.5 797.5 23.5 796.5C23.5 792.5 27.5 791.5 29.5 792C30.5 788 35 786.5 38 788.5C40 789.5 40.5 791 41 792C44 791 46.5 793 46.5 795C50 795.5 50.5 803.5 47 803.5Z" fill="#3aaff0"/>
<path d="M21.5 800.3L31.8 793.4L38.6 799.7L47 792.2" stroke="#2a2d3a" stroke-width="2" fill="none"/>
<circle cx="31.8" cy="793.4" r="2.1" fill="#2a2d3a"/><circle cx="38.6" cy="799.7" r="2.1" fill="#2a2d3a"/>
</svg>
</body></html>
